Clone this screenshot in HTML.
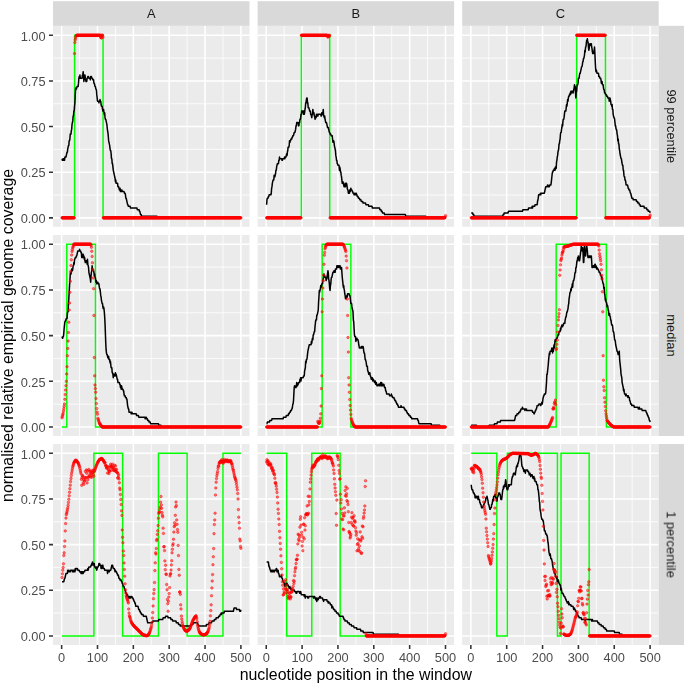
<!DOCTYPE html>
<html lang="en"><head><meta charset="utf-8"><title>Normalised relative empirical genome coverage</title>
<style>html,body{margin:0;padding:0;background:#fff}svg{display:block}text{font-family:"Liberation Sans", Arial, Helvetica, sans-serif}</style></head><body>
<svg width="685" height="685" viewBox="0 0 685 685">
<rect width="685" height="685" fill="#fff"/>
<g>
<rect x="53" y="25.8" width="196.5" height="201" fill="#ebebeb"/>
<path d="M53 195.03h196.5M53 149.39h196.5M53 103.76h196.5M53 58.12h196.5M79.58 25.8v201M115.42 25.8v201M151.28 25.8v201M187.12 25.8v201M222.97 25.8v201" stroke="#fff" stroke-width="0.8" fill="none"/>
<path d="M53 217.85h196.5M53 172.21h196.5M53 126.57h196.5M53 80.94h196.5M53 35.3h196.5M61.65 25.8v201M97.5 25.8v201M133.35 25.8v201M169.2 25.8v201M205.05 25.8v201M240.9 25.8v201" stroke="#fff" stroke-width="1.55" fill="none"/>
<path d="M62.01 217.85 L74.56 217.85 L74.56 35.3 L103.06 35.3 L103.06 217.85 L240.9 217.85" stroke="#00ff00" stroke-width="1.45" fill="none" stroke-linejoin="miter"/>
<path d="M62.01 158.7 62.37 160.35 62.73 160.35 63.08 158.7 63.44 160.35 63.8 158.7 64.16 158.7 64.52 160.35 64.88 157.06 65.23 157.06 65.59 157.06 65.95 157.06 66.31 155.42 66.67 153.77 67.03 152.13 67.39 152.13 67.74 148.85 68.1 147.2 68.46 145.56 68.82 145.56 69.18 140.63 69.54 140.63 69.9 138.99 70.25 134.06 70.61 134.06 70.97 134.06 71.33 130.77 71.69 129.13 72.05 124.2 72.41 122.56 72.76 120.92 73.12 115.99 73.48 115.99 73.84 111.06 74.2 111.06 74.56 106.13 74.91 102.84 75.27 94.63 75.63 88.06 75.99 89.7 76.35 88.06 76.71 88.06 77.07 86.41 77.42 86.41 77.78 86.41 78.14 86.41 78.5 83.13 78.86 78.2 79.22 76.56 79.58 78.2 79.93 74.91 80.29 78.2 80.65 78.2 81.01 78.2 81.37 78.2 81.73 78.2 82.08 78.2 82.44 74.91 82.8 74.91 83.16 71.63 83.52 76.56 83.88 81.49 84.24 78.2 84.59 74.91 84.95 74.91 85.31 78.2 85.67 79.84 86.03 81.49 86.39 81.49 86.75 81.49 87.1 78.2 87.46 78.2 87.82 76.56 88.18 76.56 88.54 76.56 88.9 78.2 89.25 78.2 89.61 78.2 89.97 78.2 90.33 79.84 90.69 76.56 91.05 76.56 91.41 76.56 91.76 78.2 92.12 78.2 92.48 78.2 92.84 79.84 93.2 79.84 93.56 79.84 93.91 83.13 94.27 83.13 94.63 84.77 94.99 86.41 95.35 86.41 95.71 88.06 96.07 89.7 96.42 89.7 96.78 94.63 97.14 97.91 97.5 101.2 97.86 101.2 98.22 101.2 98.58 101.2 98.93 102.84 99.29 101.2 99.65 101.2 100.01 99.56 100.37 101.2 100.73 101.2 101.08 104.49 101.44 106.13 101.8 106.13 102.16 106.13 102.52 109.42 102.88 111.06 103.24 109.42 103.59 109.42 103.95 112.7 104.31 114.34 104.67 112.7 105.03 117.63 105.39 119.27 105.75 119.27 106.1 120.92 106.46 122.56 106.82 124.2 107.18 127.49 107.54 130.77 107.9 132.42 108.25 135.7 108.61 140.63 108.97 142.27 109.33 143.92 109.69 145.56 110.05 148.85 110.41 150.49 110.76 150.49 111.12 153.77 111.48 158.7 111.84 158.7 112.2 163.63 112.56 163.63 112.92 166.92 113.27 170.2 113.63 171.85 113.99 173.49 114.35 175.13 114.71 176.78 115.07 178.42 115.42 181.71 115.78 180.06 116.14 183.35 116.5 183.35 116.86 183.35 117.22 183.35 117.58 183.35 117.93 186.63 118.29 186.63 118.65 186.63 119.01 188.28 119.37 189.92 119.73 189.92 120.09 188.28 120.44 191.56 120.8 189.92 121.16 189.92 121.52 191.56 121.88 189.92 122.24 191.56 122.59 191.56 122.95 191.56 123.31 191.56 123.67 191.56 124.03 191.56 124.39 193.21 124.75 193.21 125.1 193.21 125.46 194.85 125.82 198.13 126.18 198.13 126.54 199.78 126.9 201.42 127.26 203.06 127.61 204.71 127.97 204.71 128.33 206.35 128.69 206.35 129.05 206.35 129.41 206.35 129.76 206.35 130.12 206.35 130.48 207.99 130.84 207.99 131.2 207.99 131.56 207.99 131.92 207.99 132.27 207.99 132.63 207.99 132.99 207.99 133.35 207.99 133.71 207.99 134.07 207.99 134.43 207.99 134.78 207.99 135.14 207.99 135.5 207.99 135.86 207.99 136.22 207.99 136.58 207.99 136.94 207.99 137.29 209.64 137.65 209.64 138.01 209.64 138.37 209.64 138.73 209.64 139.09 209.64 139.44 211.28 139.8 211.28 140.16 212.92 140.52 214.56 140.88 214.56 141.24 214.56 141.6 216.21 141.95 216.21 142.31 216.21 142.67 216.21 143.03 216.21 143.39 216.21 143.75 216.21 144.1 216.21 144.46 216.21 144.82 216.21 145.18 216.21 145.54 216.21 145.9 216.21 146.26 216.21 146.61 216.21 146.97 216.21 147.33 216.21 147.69 216.21 148.05 216.21 148.41 216.21 148.77 216.21 149.12 216.21 149.48 216.21 149.84 216.21 150.2 216.21 150.56 216.21 150.92 216.21 151.28 216.21 151.63 216.21 151.99 216.21 152.35 216.21 152.71 216.21 153.07 216.21 153.43 216.21 153.78 216.21 154.14 216.21 154.5 216.21 154.86 216.21 155.22 216.21 155.58 216.21 155.94 216.21 156.29 216.21 156.65 216.21 157.01 216.21 157.37 217.85 157.73 217.85 158.09 217.85 158.44 217.85 158.8 217.85 159.16 217.85 159.52 217.85 159.88 217.85 160.24 217.85 160.6 217.85 160.95 217.85 161.31 217.85 161.67 217.85 162.03 217.85 162.39 217.85 162.75 217.85 163.11 217.85 163.46 217.85 163.82 217.85 164.18 217.85 164.54 217.85 164.9 217.85 165.26 217.85 165.61 217.85 165.97 217.85 166.33 217.85 166.69 217.85 167.05 217.85 167.41 217.85 167.77 217.85 168.12 217.85 168.48 217.85 168.84 217.85 169.2 217.85 169.56 217.85 169.92 217.85 170.28 217.85 170.63 217.85 170.99 217.85 171.35 217.85 171.71 217.85 172.07 217.85 172.43 217.85 172.78 217.85 173.14 217.85 173.5 217.85 173.86 217.85 174.22 217.85 174.58 217.85 174.94 217.85 175.29 217.85 175.65 217.85 176.01 217.85 176.37 217.85 176.73 217.85 177.09 217.85 177.45 217.85 177.8 217.85 178.16 217.85 178.52 217.85 178.88 217.85 179.24 217.85 179.6 217.85 179.95 217.85 180.31 217.85 180.67 217.85 181.03 217.85 181.39 217.85 181.75 217.85 182.11 217.85 182.46 217.85 182.82 217.85 183.18 217.85 183.54 217.85 183.9 217.85 184.26 217.85 184.62 217.85 184.97 217.85 185.33 217.85 185.69 217.85 186.05 217.85 186.41 217.85 186.77 217.85 187.12 217.85 187.48 217.85 187.84 217.85 188.2 217.85 188.56 217.85 188.92 217.85 189.28 217.85 189.63 217.85 189.99 217.85 190.35 217.85 190.71 217.85 191.07 217.85 191.43 217.85 191.79 217.85 192.14 217.85 192.5 217.85 192.86 217.85 193.22 217.85 193.58 217.85 193.94 217.85 194.29 217.85 194.65 217.85 195.01 217.85 195.37 217.85 195.73 217.85 196.09 217.85 196.45 217.85 196.8 217.85 197.16 217.85 197.52 217.85 197.88 217.85 198.24 217.85 198.6 217.85 198.96 217.85 199.31 217.85 199.67 217.85 200.03 217.85 200.39 217.85 200.75 217.85 201.11 217.85 201.47 217.85 201.82 217.85 202.18 217.85 202.54 217.85 202.9 217.85 203.26 217.85 203.62 217.85 203.97 217.85 204.33 217.85 204.69 217.85 205.05 217.85 205.41 217.85 205.77 217.85 206.13 217.85 206.48 217.85 206.84 217.85 207.2 217.85 207.56 217.85 207.92 217.85 208.28 217.85 208.63 217.85 208.99 217.85 209.35 217.85 209.71 217.85 210.07 217.85 210.43 217.85 210.79 217.85 211.14 217.85 211.5 217.85 211.86 217.85 212.22 217.85 212.58 217.85 212.94 217.85 213.3 217.85 213.65 217.85 214.01 217.85 214.37 217.85 214.73 217.85 215.09 217.85 215.45 217.85 215.81 217.85 216.16 217.85 216.52 217.85 216.88 217.85 217.24 217.85 217.6 217.85 217.96 217.85 218.31 217.85 218.67 217.85 219.03 217.85 219.39 217.85 219.75 217.85 220.11 217.85 220.47 217.85 220.82 217.85 221.18 217.85 221.54 217.85 221.9 217.85 222.26 217.85 222.62 217.85 222.97 217.85 223.33 217.85 223.69 217.85 224.05 217.85 224.41 217.85 224.77 217.85 225.13 217.85 225.48 217.85 225.84 217.85 226.2 217.85 226.56 217.85 226.92 217.85 227.28 217.85 227.64 217.85 227.99 217.85 228.35 217.85 228.71 217.85 229.07 217.85 229.43 217.85 229.79 217.85 230.15 217.85 230.5 217.85 230.86 217.85 231.22 217.85 231.58 217.85 231.94 217.85 232.3 217.85 232.65 217.85 233.01 217.85 233.37 217.85 233.73 217.85 234.09 217.85 234.45 217.85 234.81 217.85 235.16 217.85 235.52 217.85 235.88 217.85 236.24 217.85 236.6 217.85 236.96 217.85 237.31 217.85 237.67 217.85 238.03 217.85 238.39 217.85 238.75 217.85 239.11 217.85 239.47 217.85 239.82 217.85 240.18 217.85 240.54 217.85 240.9 217.85" stroke="#000" stroke-width="1.5" fill="none" stroke-linejoin="round" stroke-linecap="butt"/>
<g fill="#ff0000" fill-opacity="0.5" stroke="#ff0000" stroke-opacity="0.5" stroke-width="0.9">
<circle cx="62.01" cy="217.85" r="1.25"/><circle cx="62.37" cy="217.85" r="1.25"/><circle cx="62.73" cy="217.85" r="1.25"/><circle cx="63.08" cy="217.85" r="1.25"/><circle cx="63.44" cy="217.85" r="1.25"/><circle cx="63.8" cy="217.85" r="1.25"/><circle cx="64.16" cy="217.85" r="1.25"/><circle cx="64.52" cy="217.85" r="1.25"/><circle cx="64.88" cy="217.85" r="1.25"/><circle cx="65.23" cy="217.85" r="1.25"/><circle cx="65.59" cy="217.85" r="1.25"/><circle cx="65.95" cy="217.85" r="1.25"/><circle cx="66.31" cy="217.85" r="1.25"/><circle cx="66.67" cy="217.85" r="1.25"/><circle cx="67.03" cy="217.85" r="1.25"/><circle cx="67.39" cy="217.85" r="1.25"/><circle cx="67.74" cy="217.85" r="1.25"/><circle cx="68.1" cy="217.85" r="1.25"/><circle cx="68.46" cy="217.85" r="1.25"/><circle cx="68.82" cy="217.85" r="1.25"/><circle cx="69.18" cy="217.85" r="1.25"/><circle cx="69.54" cy="217.85" r="1.25"/><circle cx="69.9" cy="217.85" r="1.25"/><circle cx="70.25" cy="217.85" r="1.25"/><circle cx="70.61" cy="217.85" r="1.25"/><circle cx="70.97" cy="217.85" r="1.25"/><circle cx="71.33" cy="217.85" r="1.25"/><circle cx="71.69" cy="217.85" r="1.25"/><circle cx="72.05" cy="217.85" r="1.25"/><circle cx="72.41" cy="217.85" r="1.25"/><circle cx="72.76" cy="217.85" r="1.25"/><circle cx="73.12" cy="217.85" r="1.25"/><circle cx="73.48" cy="217.85" r="1.25"/><circle cx="73.84" cy="217.85" r="1.25"/><circle cx="74.2" cy="217.85" r="1.25"/><circle cx="74.56" cy="53.55" r="1.25"/><circle cx="74.91" cy="42.6" r="1.25"/><circle cx="75.27" cy="39.86" r="1.25"/><circle cx="75.63" cy="38.04" r="1.25"/><circle cx="75.99" cy="36.21" r="1.25"/><circle cx="76.35" cy="35.76" r="1.25"/><circle cx="76.71" cy="35.3" r="1.25"/><circle cx="77.07" cy="35.3" r="1.25"/><circle cx="77.42" cy="35.3" r="1.25"/><circle cx="77.78" cy="35.3" r="1.25"/><circle cx="78.14" cy="35.3" r="1.25"/><circle cx="78.5" cy="35.3" r="1.25"/><circle cx="78.86" cy="35.3" r="1.25"/><circle cx="79.22" cy="35.3" r="1.25"/><circle cx="79.58" cy="35.3" r="1.25"/><circle cx="79.93" cy="35.3" r="1.25"/><circle cx="80.29" cy="35.3" r="1.25"/><circle cx="80.65" cy="35.3" r="1.25"/><circle cx="81.01" cy="35.3" r="1.25"/><circle cx="81.37" cy="35.3" r="1.25"/><circle cx="81.73" cy="35.3" r="1.25"/><circle cx="82.08" cy="35.3" r="1.25"/><circle cx="82.44" cy="35.3" r="1.25"/><circle cx="82.8" cy="35.3" r="1.25"/><circle cx="83.16" cy="35.3" r="1.25"/><circle cx="83.52" cy="35.3" r="1.25"/><circle cx="83.88" cy="35.3" r="1.25"/><circle cx="84.24" cy="35.3" r="1.25"/><circle cx="84.59" cy="35.3" r="1.25"/><circle cx="84.95" cy="35.3" r="1.25"/><circle cx="85.31" cy="35.3" r="1.25"/><circle cx="85.67" cy="35.3" r="1.25"/><circle cx="86.03" cy="35.3" r="1.25"/><circle cx="86.39" cy="35.3" r="1.25"/><circle cx="86.75" cy="35.3" r="1.25"/><circle cx="87.1" cy="35.3" r="1.25"/><circle cx="87.46" cy="35.3" r="1.25"/><circle cx="87.82" cy="35.3" r="1.25"/><circle cx="88.18" cy="35.3" r="1.25"/><circle cx="88.54" cy="35.3" r="1.25"/><circle cx="88.9" cy="35.3" r="1.25"/><circle cx="89.25" cy="35.3" r="1.25"/><circle cx="89.61" cy="35.3" r="1.25"/><circle cx="89.97" cy="35.3" r="1.25"/><circle cx="90.33" cy="35.3" r="1.25"/><circle cx="90.69" cy="35.3" r="1.25"/><circle cx="91.05" cy="35.3" r="1.25"/><circle cx="91.41" cy="35.3" r="1.25"/><circle cx="91.76" cy="35.3" r="1.25"/><circle cx="92.12" cy="35.3" r="1.25"/><circle cx="92.48" cy="35.3" r="1.25"/><circle cx="92.84" cy="35.3" r="1.25"/><circle cx="93.2" cy="35.3" r="1.25"/><circle cx="93.56" cy="35.3" r="1.25"/><circle cx="93.91" cy="35.3" r="1.25"/><circle cx="94.27" cy="35.3" r="1.25"/><circle cx="94.63" cy="35.3" r="1.25"/><circle cx="94.99" cy="35.3" r="1.25"/><circle cx="95.35" cy="35.3" r="1.25"/><circle cx="95.71" cy="35.3" r="1.25"/><circle cx="96.07" cy="35.3" r="1.25"/><circle cx="96.42" cy="35.3" r="1.25"/><circle cx="96.78" cy="35.3" r="1.25"/><circle cx="97.14" cy="35.3" r="1.25"/><circle cx="97.5" cy="35.3" r="1.25"/><circle cx="97.86" cy="35.3" r="1.25"/><circle cx="98.22" cy="35.3" r="1.25"/><circle cx="98.58" cy="35.3" r="1.25"/><circle cx="98.93" cy="35.3" r="1.25"/><circle cx="99.29" cy="35.3" r="1.25"/><circle cx="99.65" cy="35.3" r="1.25"/><circle cx="100.01" cy="35.3" r="1.25"/><circle cx="100.37" cy="35.3" r="1.25"/><circle cx="100.73" cy="37.13" r="1.25"/><circle cx="101.08" cy="37.58" r="1.25"/><circle cx="101.44" cy="38.04" r="1.25"/><circle cx="101.8" cy="35.3" r="1.25"/><circle cx="102.16" cy="35.3" r="1.25"/><circle cx="102.52" cy="35.3" r="1.25"/><circle cx="102.88" cy="37.13" r="1.25"/><circle cx="103.24" cy="217.85" r="1.25"/><circle cx="103.59" cy="217.85" r="1.25"/><circle cx="103.95" cy="217.85" r="1.25"/><circle cx="104.31" cy="217.85" r="1.25"/><circle cx="104.67" cy="217.85" r="1.25"/><circle cx="105.03" cy="217.85" r="1.25"/><circle cx="105.39" cy="217.85" r="1.25"/><circle cx="105.75" cy="217.85" r="1.25"/><circle cx="106.1" cy="217.85" r="1.25"/><circle cx="106.46" cy="217.85" r="1.25"/><circle cx="106.82" cy="217.85" r="1.25"/><circle cx="107.18" cy="217.85" r="1.25"/><circle cx="107.54" cy="217.85" r="1.25"/><circle cx="107.9" cy="217.85" r="1.25"/><circle cx="108.25" cy="217.85" r="1.25"/><circle cx="108.61" cy="217.85" r="1.25"/><circle cx="108.97" cy="217.85" r="1.25"/><circle cx="109.33" cy="217.85" r="1.25"/><circle cx="109.69" cy="217.85" r="1.25"/><circle cx="110.05" cy="217.85" r="1.25"/><circle cx="110.41" cy="217.85" r="1.25"/><circle cx="110.76" cy="217.85" r="1.25"/><circle cx="111.12" cy="217.85" r="1.25"/><circle cx="111.48" cy="217.85" r="1.25"/><circle cx="111.84" cy="217.85" r="1.25"/><circle cx="112.2" cy="217.85" r="1.25"/><circle cx="112.56" cy="217.85" r="1.25"/><circle cx="112.92" cy="217.85" r="1.25"/><circle cx="113.27" cy="217.85" r="1.25"/><circle cx="113.63" cy="217.85" r="1.25"/><circle cx="113.99" cy="217.85" r="1.25"/><circle cx="114.35" cy="217.85" r="1.25"/><circle cx="114.71" cy="217.85" r="1.25"/><circle cx="115.07" cy="217.85" r="1.25"/><circle cx="115.42" cy="217.85" r="1.25"/><circle cx="115.78" cy="217.85" r="1.25"/><circle cx="116.14" cy="217.85" r="1.25"/><circle cx="116.5" cy="217.85" r="1.25"/><circle cx="116.86" cy="217.85" r="1.25"/><circle cx="117.22" cy="217.85" r="1.25"/><circle cx="117.58" cy="217.85" r="1.25"/><circle cx="117.93" cy="217.85" r="1.25"/><circle cx="118.29" cy="217.85" r="1.25"/><circle cx="118.65" cy="217.85" r="1.25"/><circle cx="119.01" cy="217.85" r="1.25"/><circle cx="119.37" cy="217.85" r="1.25"/><circle cx="119.73" cy="217.85" r="1.25"/><circle cx="120.09" cy="217.85" r="1.25"/><circle cx="120.44" cy="217.85" r="1.25"/><circle cx="120.8" cy="217.85" r="1.25"/><circle cx="121.16" cy="217.85" r="1.25"/><circle cx="121.52" cy="217.85" r="1.25"/><circle cx="121.88" cy="217.85" r="1.25"/><circle cx="122.24" cy="217.85" r="1.25"/><circle cx="122.59" cy="217.85" r="1.25"/><circle cx="122.95" cy="217.85" r="1.25"/><circle cx="123.31" cy="217.85" r="1.25"/><circle cx="123.67" cy="217.85" r="1.25"/><circle cx="124.03" cy="217.85" r="1.25"/><circle cx="124.39" cy="217.85" r="1.25"/><circle cx="124.75" cy="217.85" r="1.25"/><circle cx="125.1" cy="217.85" r="1.25"/><circle cx="125.46" cy="217.85" r="1.25"/><circle cx="125.82" cy="217.85" r="1.25"/><circle cx="126.18" cy="217.85" r="1.25"/><circle cx="126.54" cy="217.85" r="1.25"/><circle cx="126.9" cy="217.85" r="1.25"/><circle cx="127.26" cy="217.85" r="1.25"/><circle cx="127.61" cy="217.85" r="1.25"/><circle cx="127.97" cy="217.85" r="1.25"/><circle cx="128.33" cy="217.85" r="1.25"/><circle cx="128.69" cy="217.85" r="1.25"/><circle cx="129.05" cy="217.85" r="1.25"/><circle cx="129.41" cy="217.85" r="1.25"/><circle cx="129.76" cy="217.85" r="1.25"/><circle cx="130.12" cy="217.85" r="1.25"/><circle cx="130.48" cy="217.85" r="1.25"/><circle cx="130.84" cy="217.85" r="1.25"/><circle cx="131.2" cy="217.85" r="1.25"/><circle cx="131.56" cy="217.85" r="1.25"/><circle cx="131.92" cy="217.85" r="1.25"/><circle cx="132.27" cy="217.85" r="1.25"/><circle cx="132.63" cy="217.85" r="1.25"/><circle cx="132.99" cy="217.85" r="1.25"/><circle cx="133.35" cy="217.85" r="1.25"/><circle cx="133.71" cy="217.85" r="1.25"/><circle cx="134.07" cy="217.85" r="1.25"/><circle cx="134.43" cy="217.85" r="1.25"/><circle cx="134.78" cy="217.85" r="1.25"/><circle cx="135.14" cy="217.85" r="1.25"/><circle cx="135.5" cy="217.85" r="1.25"/><circle cx="135.86" cy="217.85" r="1.25"/><circle cx="136.22" cy="217.85" r="1.25"/><circle cx="136.58" cy="217.85" r="1.25"/><circle cx="136.94" cy="217.85" r="1.25"/><circle cx="137.29" cy="217.85" r="1.25"/><circle cx="137.65" cy="217.85" r="1.25"/><circle cx="138.01" cy="217.85" r="1.25"/><circle cx="138.37" cy="217.85" r="1.25"/><circle cx="138.73" cy="217.85" r="1.25"/><circle cx="139.09" cy="217.85" r="1.25"/><circle cx="139.44" cy="217.85" r="1.25"/><circle cx="139.8" cy="217.85" r="1.25"/><circle cx="140.16" cy="217.85" r="1.25"/><circle cx="140.52" cy="217.85" r="1.25"/><circle cx="140.88" cy="217.85" r="1.25"/><circle cx="141.24" cy="217.85" r="1.25"/><circle cx="141.6" cy="217.85" r="1.25"/><circle cx="141.95" cy="217.85" r="1.25"/><circle cx="142.31" cy="217.85" r="1.25"/><circle cx="142.67" cy="217.85" r="1.25"/><circle cx="143.03" cy="217.85" r="1.25"/><circle cx="143.39" cy="217.85" r="1.25"/><circle cx="143.75" cy="217.85" r="1.25"/><circle cx="144.1" cy="217.85" r="1.25"/><circle cx="144.46" cy="217.85" r="1.25"/><circle cx="144.82" cy="217.85" r="1.25"/><circle cx="145.18" cy="217.85" r="1.25"/><circle cx="145.54" cy="217.85" r="1.25"/><circle cx="145.9" cy="217.85" r="1.25"/><circle cx="146.26" cy="217.85" r="1.25"/><circle cx="146.61" cy="217.85" r="1.25"/><circle cx="146.97" cy="217.85" r="1.25"/><circle cx="147.33" cy="217.85" r="1.25"/><circle cx="147.69" cy="217.85" r="1.25"/><circle cx="148.05" cy="217.85" r="1.25"/><circle cx="148.41" cy="217.85" r="1.25"/><circle cx="148.77" cy="217.85" r="1.25"/><circle cx="149.12" cy="217.85" r="1.25"/><circle cx="149.48" cy="217.85" r="1.25"/><circle cx="149.84" cy="217.85" r="1.25"/><circle cx="150.2" cy="217.85" r="1.25"/><circle cx="150.56" cy="217.85" r="1.25"/><circle cx="150.92" cy="217.85" r="1.25"/><circle cx="151.28" cy="217.85" r="1.25"/><circle cx="151.63" cy="217.85" r="1.25"/><circle cx="151.99" cy="217.85" r="1.25"/><circle cx="152.35" cy="217.85" r="1.25"/><circle cx="152.71" cy="217.85" r="1.25"/><circle cx="153.07" cy="217.85" r="1.25"/><circle cx="153.43" cy="217.85" r="1.25"/><circle cx="153.78" cy="217.85" r="1.25"/><circle cx="154.14" cy="217.85" r="1.25"/><circle cx="154.5" cy="217.85" r="1.25"/><circle cx="154.86" cy="217.85" r="1.25"/><circle cx="155.22" cy="217.85" r="1.25"/><circle cx="155.58" cy="217.85" r="1.25"/><circle cx="155.94" cy="217.85" r="1.25"/><circle cx="156.29" cy="217.85" r="1.25"/><circle cx="156.65" cy="217.85" r="1.25"/><circle cx="157.01" cy="217.85" r="1.25"/><circle cx="157.37" cy="217.85" r="1.25"/><circle cx="157.73" cy="217.85" r="1.25"/><circle cx="158.09" cy="217.85" r="1.25"/><circle cx="158.44" cy="217.85" r="1.25"/><circle cx="158.8" cy="217.85" r="1.25"/><circle cx="159.16" cy="217.85" r="1.25"/><circle cx="159.52" cy="217.85" r="1.25"/><circle cx="159.88" cy="217.85" r="1.25"/><circle cx="160.24" cy="217.85" r="1.25"/><circle cx="160.6" cy="217.85" r="1.25"/><circle cx="160.95" cy="217.85" r="1.25"/><circle cx="161.31" cy="217.85" r="1.25"/><circle cx="161.67" cy="217.85" r="1.25"/><circle cx="162.03" cy="217.85" r="1.25"/><circle cx="162.39" cy="217.85" r="1.25"/><circle cx="162.75" cy="217.85" r="1.25"/><circle cx="163.11" cy="217.85" r="1.25"/><circle cx="163.46" cy="217.85" r="1.25"/><circle cx="163.82" cy="217.85" r="1.25"/><circle cx="164.18" cy="217.85" r="1.25"/><circle cx="164.54" cy="217.85" r="1.25"/><circle cx="164.9" cy="217.85" r="1.25"/><circle cx="165.26" cy="217.85" r="1.25"/><circle cx="165.61" cy="217.85" r="1.25"/><circle cx="165.97" cy="217.85" r="1.25"/><circle cx="166.33" cy="217.85" r="1.25"/><circle cx="166.69" cy="217.85" r="1.25"/><circle cx="167.05" cy="217.85" r="1.25"/><circle cx="167.41" cy="217.85" r="1.25"/><circle cx="167.77" cy="217.85" r="1.25"/><circle cx="168.12" cy="217.85" r="1.25"/><circle cx="168.48" cy="217.85" r="1.25"/><circle cx="168.84" cy="217.85" r="1.25"/><circle cx="169.2" cy="217.85" r="1.25"/><circle cx="169.56" cy="217.85" r="1.25"/><circle cx="169.92" cy="217.85" r="1.25"/><circle cx="170.28" cy="217.85" r="1.25"/><circle cx="170.63" cy="217.85" r="1.25"/><circle cx="170.99" cy="217.85" r="1.25"/><circle cx="171.35" cy="217.85" r="1.25"/><circle cx="171.71" cy="217.85" r="1.25"/><circle cx="172.07" cy="217.85" r="1.25"/><circle cx="172.43" cy="217.85" r="1.25"/><circle cx="172.78" cy="217.85" r="1.25"/><circle cx="173.14" cy="217.85" r="1.25"/><circle cx="173.5" cy="217.85" r="1.25"/><circle cx="173.86" cy="217.85" r="1.25"/><circle cx="174.22" cy="217.85" r="1.25"/><circle cx="174.58" cy="217.85" r="1.25"/><circle cx="174.94" cy="217.85" r="1.25"/><circle cx="175.29" cy="217.85" r="1.25"/><circle cx="175.65" cy="217.85" r="1.25"/><circle cx="176.01" cy="217.85" r="1.25"/><circle cx="176.37" cy="217.85" r="1.25"/><circle cx="176.73" cy="217.85" r="1.25"/><circle cx="177.09" cy="217.85" r="1.25"/><circle cx="177.45" cy="217.85" r="1.25"/><circle cx="177.8" cy="217.85" r="1.25"/><circle cx="178.16" cy="217.85" r="1.25"/><circle cx="178.52" cy="217.85" r="1.25"/><circle cx="178.88" cy="217.85" r="1.25"/><circle cx="179.24" cy="217.85" r="1.25"/><circle cx="179.6" cy="217.85" r="1.25"/><circle cx="179.95" cy="217.85" r="1.25"/><circle cx="180.31" cy="217.85" r="1.25"/><circle cx="180.67" cy="217.85" r="1.25"/><circle cx="181.03" cy="217.85" r="1.25"/><circle cx="181.39" cy="217.85" r="1.25"/><circle cx="181.75" cy="217.85" r="1.25"/><circle cx="182.11" cy="217.85" r="1.25"/><circle cx="182.46" cy="217.85" r="1.25"/><circle cx="182.82" cy="217.85" r="1.25"/><circle cx="183.18" cy="217.85" r="1.25"/><circle cx="183.54" cy="217.85" r="1.25"/><circle cx="183.9" cy="217.85" r="1.25"/><circle cx="184.26" cy="217.85" r="1.25"/><circle cx="184.62" cy="217.85" r="1.25"/><circle cx="184.97" cy="217.85" r="1.25"/><circle cx="185.33" cy="217.85" r="1.25"/><circle cx="185.69" cy="217.85" r="1.25"/><circle cx="186.05" cy="217.85" r="1.25"/><circle cx="186.41" cy="217.85" r="1.25"/><circle cx="186.77" cy="217.85" r="1.25"/><circle cx="187.12" cy="217.85" r="1.25"/><circle cx="187.48" cy="217.85" r="1.25"/><circle cx="187.84" cy="217.85" r="1.25"/><circle cx="188.2" cy="217.85" r="1.25"/><circle cx="188.56" cy="217.85" r="1.25"/><circle cx="188.92" cy="217.85" r="1.25"/><circle cx="189.28" cy="217.85" r="1.25"/><circle cx="189.63" cy="217.85" r="1.25"/><circle cx="189.99" cy="217.85" r="1.25"/><circle cx="190.35" cy="217.85" r="1.25"/><circle cx="190.71" cy="217.85" r="1.25"/><circle cx="191.07" cy="217.85" r="1.25"/><circle cx="191.43" cy="217.85" r="1.25"/><circle cx="191.79" cy="217.85" r="1.25"/><circle cx="192.14" cy="217.85" r="1.25"/><circle cx="192.5" cy="217.85" r="1.25"/><circle cx="192.86" cy="217.85" r="1.25"/><circle cx="193.22" cy="217.85" r="1.25"/><circle cx="193.58" cy="217.85" r="1.25"/><circle cx="193.94" cy="217.85" r="1.25"/><circle cx="194.29" cy="217.85" r="1.25"/><circle cx="194.65" cy="217.85" r="1.25"/><circle cx="195.01" cy="217.85" r="1.25"/><circle cx="195.37" cy="217.85" r="1.25"/><circle cx="195.73" cy="217.85" r="1.25"/><circle cx="196.09" cy="217.85" r="1.25"/><circle cx="196.45" cy="217.85" r="1.25"/><circle cx="196.8" cy="217.85" r="1.25"/><circle cx="197.16" cy="217.85" r="1.25"/><circle cx="197.52" cy="217.85" r="1.25"/><circle cx="197.88" cy="217.85" r="1.25"/><circle cx="198.24" cy="217.85" r="1.25"/><circle cx="198.6" cy="217.85" r="1.25"/><circle cx="198.96" cy="217.85" r="1.25"/><circle cx="199.31" cy="217.85" r="1.25"/><circle cx="199.67" cy="217.85" r="1.25"/><circle cx="200.03" cy="217.85" r="1.25"/><circle cx="200.39" cy="217.85" r="1.25"/><circle cx="200.75" cy="217.85" r="1.25"/><circle cx="201.11" cy="217.85" r="1.25"/><circle cx="201.47" cy="217.85" r="1.25"/><circle cx="201.82" cy="217.85" r="1.25"/><circle cx="202.18" cy="217.85" r="1.25"/><circle cx="202.54" cy="217.85" r="1.25"/><circle cx="202.9" cy="217.85" r="1.25"/><circle cx="203.26" cy="217.85" r="1.25"/><circle cx="203.62" cy="217.85" r="1.25"/><circle cx="203.97" cy="217.85" r="1.25"/><circle cx="204.33" cy="217.85" r="1.25"/><circle cx="204.69" cy="217.85" r="1.25"/><circle cx="205.05" cy="217.85" r="1.25"/><circle cx="205.41" cy="217.85" r="1.25"/><circle cx="205.77" cy="217.85" r="1.25"/><circle cx="206.13" cy="217.85" r="1.25"/><circle cx="206.48" cy="217.85" r="1.25"/><circle cx="206.84" cy="217.85" r="1.25"/><circle cx="207.2" cy="217.85" r="1.25"/><circle cx="207.56" cy="217.85" r="1.25"/><circle cx="207.92" cy="217.85" r="1.25"/><circle cx="208.28" cy="217.85" r="1.25"/><circle cx="208.63" cy="217.85" r="1.25"/><circle cx="208.99" cy="217.85" r="1.25"/><circle cx="209.35" cy="217.85" r="1.25"/><circle cx="209.71" cy="217.85" r="1.25"/><circle cx="210.07" cy="217.85" r="1.25"/><circle cx="210.43" cy="217.85" r="1.25"/><circle cx="210.79" cy="217.85" r="1.25"/><circle cx="211.14" cy="217.85" r="1.25"/><circle cx="211.5" cy="217.85" r="1.25"/><circle cx="211.86" cy="217.85" r="1.25"/><circle cx="212.22" cy="217.85" r="1.25"/><circle cx="212.58" cy="217.85" r="1.25"/><circle cx="212.94" cy="217.85" r="1.25"/><circle cx="213.3" cy="217.85" r="1.25"/><circle cx="213.65" cy="217.85" r="1.25"/><circle cx="214.01" cy="217.85" r="1.25"/><circle cx="214.37" cy="217.85" r="1.25"/><circle cx="214.73" cy="217.85" r="1.25"/><circle cx="215.09" cy="217.85" r="1.25"/><circle cx="215.45" cy="217.85" r="1.25"/><circle cx="215.81" cy="217.85" r="1.25"/><circle cx="216.16" cy="217.85" r="1.25"/><circle cx="216.52" cy="217.85" r="1.25"/><circle cx="216.88" cy="217.85" r="1.25"/><circle cx="217.24" cy="217.85" r="1.25"/><circle cx="217.6" cy="217.85" r="1.25"/><circle cx="217.96" cy="217.85" r="1.25"/><circle cx="218.31" cy="217.85" r="1.25"/><circle cx="218.67" cy="217.85" r="1.25"/><circle cx="219.03" cy="217.85" r="1.25"/><circle cx="219.39" cy="217.85" r="1.25"/><circle cx="219.75" cy="217.85" r="1.25"/><circle cx="220.11" cy="217.85" r="1.25"/><circle cx="220.47" cy="217.85" r="1.25"/><circle cx="220.82" cy="217.85" r="1.25"/><circle cx="221.18" cy="217.85" r="1.25"/><circle cx="221.54" cy="217.85" r="1.25"/><circle cx="221.9" cy="217.85" r="1.25"/><circle cx="222.26" cy="217.85" r="1.25"/><circle cx="222.62" cy="217.85" r="1.25"/><circle cx="222.97" cy="217.85" r="1.25"/><circle cx="223.33" cy="217.85" r="1.25"/><circle cx="223.69" cy="217.85" r="1.25"/><circle cx="224.05" cy="217.85" r="1.25"/><circle cx="224.41" cy="217.85" r="1.25"/><circle cx="224.77" cy="217.85" r="1.25"/><circle cx="225.13" cy="217.85" r="1.25"/><circle cx="225.48" cy="217.85" r="1.25"/><circle cx="225.84" cy="217.85" r="1.25"/><circle cx="226.2" cy="217.85" r="1.25"/><circle cx="226.56" cy="217.85" r="1.25"/><circle cx="226.92" cy="217.85" r="1.25"/><circle cx="227.28" cy="217.85" r="1.25"/><circle cx="227.64" cy="217.85" r="1.25"/><circle cx="227.99" cy="217.85" r="1.25"/><circle cx="228.35" cy="217.85" r="1.25"/><circle cx="228.71" cy="217.85" r="1.25"/><circle cx="229.07" cy="217.85" r="1.25"/><circle cx="229.43" cy="217.85" r="1.25"/><circle cx="229.79" cy="217.85" r="1.25"/><circle cx="230.15" cy="217.85" r="1.25"/><circle cx="230.5" cy="217.85" r="1.25"/><circle cx="230.86" cy="217.85" r="1.25"/><circle cx="231.22" cy="217.85" r="1.25"/><circle cx="231.58" cy="217.85" r="1.25"/><circle cx="231.94" cy="217.85" r="1.25"/><circle cx="232.3" cy="217.85" r="1.25"/><circle cx="232.65" cy="217.85" r="1.25"/><circle cx="233.01" cy="217.85" r="1.25"/><circle cx="233.37" cy="217.85" r="1.25"/><circle cx="233.73" cy="217.85" r="1.25"/><circle cx="234.09" cy="217.85" r="1.25"/><circle cx="234.45" cy="217.85" r="1.25"/><circle cx="234.81" cy="217.85" r="1.25"/><circle cx="235.16" cy="217.85" r="1.25"/><circle cx="235.52" cy="217.85" r="1.25"/><circle cx="235.88" cy="217.85" r="1.25"/><circle cx="236.24" cy="217.85" r="1.25"/><circle cx="236.6" cy="217.85" r="1.25"/><circle cx="236.96" cy="217.85" r="1.25"/><circle cx="237.31" cy="217.85" r="1.25"/><circle cx="237.67" cy="217.85" r="1.25"/><circle cx="238.03" cy="217.85" r="1.25"/><circle cx="238.39" cy="217.85" r="1.25"/><circle cx="238.75" cy="217.85" r="1.25"/><circle cx="239.11" cy="217.85" r="1.25"/><circle cx="239.47" cy="217.85" r="1.25"/><circle cx="239.82" cy="217.85" r="1.25"/><circle cx="240.18" cy="217.85" r="1.25"/><circle cx="240.54" cy="217.85" r="1.25"/><circle cx="240.9" cy="217.85" r="1.25"/>
</g>
</g>
<g>
<rect x="257.6" y="25.8" width="196.5" height="201" fill="#ebebeb"/>
<path d="M257.6 195.03h196.5M257.6 149.39h196.5M257.6 103.76h196.5M257.6 58.12h196.5M284.18 25.8v201M320.02 25.8v201M355.88 25.8v201M391.73 25.8v201M427.57 25.8v201" stroke="#fff" stroke-width="0.8" fill="none"/>
<path d="M257.6 217.85h196.5M257.6 172.21h196.5M257.6 126.57h196.5M257.6 80.94h196.5M257.6 35.3h196.5M266.25 25.8v201M302.1 25.8v201M337.95 25.8v201M373.8 25.8v201M409.65 25.8v201M445.5 25.8v201" stroke="#fff" stroke-width="1.55" fill="none"/>
<path d="M266.61 217.85 L301.38 217.85 L301.38 35.3 L329.7 35.3 L329.7 217.85 L445.5 217.85" stroke="#00ff00" stroke-width="1.45" fill="none" stroke-linejoin="miter"/>
<path d="M266.61 204.71 266.97 199.78 267.33 198.13 267.68 198.13 268.04 198.13 268.4 196.49 268.76 196.49 269.12 194.85 269.48 194.85 269.83 194.85 270.19 194.85 270.55 194.85 270.91 194.85 271.27 193.21 271.63 188.28 271.99 186.63 272.34 183.35 272.7 181.71 273.06 180.06 273.42 180.06 273.78 180.06 274.14 175.13 274.5 176.78 274.85 176.78 275.21 175.13 275.57 173.49 275.93 170.2 276.29 170.2 276.65 166.92 277 165.28 277.36 163.63 277.72 163.63 278.08 163.63 278.44 163.63 278.8 160.35 279.16 160.35 279.51 157.06 279.87 158.7 280.23 158.7 280.59 158.7 280.95 158.7 281.31 158.7 281.67 158.7 282.02 160.35 282.38 160.35 282.74 158.7 283.1 158.7 283.46 158.7 283.82 158.7 284.18 158.7 284.53 157.06 284.89 158.7 285.25 157.06 285.61 157.06 285.97 157.06 286.33 155.42 286.68 153.77 287.04 155.42 287.4 152.13 287.76 150.49 288.12 147.2 288.48 147.2 288.84 147.2 289.19 145.56 289.55 140.63 289.91 142.27 290.27 140.63 290.63 140.63 290.99 138.99 291.35 138.99 291.7 138.99 292.06 137.35 292.42 137.35 292.78 135.7 293.14 135.7 293.5 135.7 293.85 134.06 294.21 132.42 294.57 132.42 294.93 132.42 295.29 130.77 295.65 129.13 296.01 125.84 296.36 125.84 296.72 122.56 297.08 122.56 297.44 122.56 297.8 122.56 298.16 122.56 298.51 125.84 298.87 125.84 299.23 122.56 299.59 122.56 299.95 119.27 300.31 119.27 300.67 117.63 301.02 114.34 301.38 114.34 301.74 111.06 302.1 111.06 302.46 111.06 302.82 111.06 303.18 112.7 303.53 114.34 303.89 111.06 304.25 114.34 304.61 112.7 304.97 109.42 305.33 107.77 305.69 102.84 306.04 102.84 306.4 99.56 306.76 97.91 307.12 97.91 307.48 102.84 307.84 102.84 308.19 107.77 308.55 107.77 308.91 107.77 309.27 109.42 309.63 111.06 309.99 111.06 310.35 111.06 310.7 114.34 311.06 114.34 311.42 115.99 311.78 117.63 312.14 114.34 312.5 114.34 312.86 109.42 313.21 112.7 313.57 112.7 313.93 112.7 314.29 115.99 314.65 115.99 315.01 119.27 315.36 117.63 315.72 117.63 316.08 117.63 316.44 114.34 316.8 115.99 317.16 114.34 317.52 115.99 317.87 115.99 318.23 114.34 318.59 114.34 318.95 114.34 319.31 114.34 319.67 114.34 320.02 114.34 320.38 114.34 320.74 114.34 321.1 115.99 321.46 115.99 321.82 112.7 322.18 114.34 322.53 112.7 322.89 112.7 323.25 109.42 323.61 115.99 323.97 115.99 324.33 117.63 324.69 115.99 325.04 119.27 325.4 120.92 325.76 122.56 326.12 122.56 326.48 122.56 326.84 124.2 327.19 125.84 327.55 127.49 327.91 127.49 328.27 127.49 328.63 129.13 328.99 130.77 329.35 132.42 329.7 132.42 330.06 134.06 330.42 134.06 330.78 134.06 331.14 135.7 331.5 135.7 331.86 135.7 332.21 135.7 332.57 138.99 332.93 142.27 333.29 140.63 333.65 140.63 334.01 142.27 334.37 145.56 334.72 147.2 335.08 148.85 335.44 150.49 335.8 155.42 336.16 157.06 336.52 160.35 336.87 160.35 337.23 163.63 337.59 163.63 337.95 165.28 338.31 165.28 338.67 165.28 339.03 165.28 339.38 170.2 339.74 166.92 340.1 168.56 340.46 171.85 340.82 171.85 341.18 175.13 341.53 176.78 341.89 180.06 342.25 183.35 342.61 181.71 342.97 181.71 343.33 183.35 343.69 184.99 344.04 186.63 344.4 186.63 344.76 186.63 345.12 183.35 345.48 186.63 345.84 183.35 346.2 183.35 346.55 183.35 346.91 184.99 347.27 188.28 347.63 189.92 347.99 189.92 348.35 193.21 348.7 193.21 349.06 193.21 349.42 193.21 349.78 189.92 350.14 191.56 350.5 189.92 350.86 188.28 351.21 189.92 351.57 189.92 351.93 189.92 352.29 191.56 352.65 191.56 353.01 193.21 353.37 193.21 353.72 193.21 354.08 194.85 354.44 194.85 354.8 193.21 355.16 193.21 355.52 194.85 355.88 194.85 356.23 193.21 356.59 194.85 356.95 194.85 357.31 196.49 357.67 196.49 358.03 196.49 358.38 198.13 358.74 198.13 359.1 198.13 359.46 198.13 359.82 199.78 360.18 199.78 360.54 199.78 360.89 199.78 361.25 201.42 361.61 201.42 361.97 201.42 362.33 201.42 362.69 201.42 363.05 203.06 363.4 203.06 363.76 203.06 364.12 203.06 364.48 203.06 364.84 203.06 365.2 203.06 365.55 203.06 365.91 204.71 366.27 204.71 366.63 204.71 366.99 204.71 367.35 204.71 367.71 204.71 368.06 204.71 368.42 204.71 368.78 206.35 369.14 206.35 369.5 206.35 369.86 206.35 370.21 206.35 370.57 206.35 370.93 206.35 371.29 206.35 371.65 206.35 372.01 206.35 372.37 207.99 372.72 207.99 373.08 207.99 373.44 207.99 373.8 207.99 374.16 207.99 374.52 207.99 374.88 207.99 375.23 207.99 375.59 207.99 375.95 207.99 376.31 207.99 376.67 207.99 377.03 207.99 377.38 207.99 377.74 207.99 378.1 207.99 378.46 207.99 378.82 207.99 379.18 207.99 379.54 207.99 379.89 209.64 380.25 209.64 380.61 209.64 380.97 209.64 381.33 211.28 381.69 211.28 382.05 211.28 382.4 212.92 382.76 212.92 383.12 212.92 383.48 212.92 383.84 212.92 384.2 212.92 384.56 214.56 384.91 214.56 385.27 214.56 385.63 214.56 385.99 214.56 386.35 214.56 386.71 214.56 387.06 214.56 387.42 214.56 387.78 214.56 388.14 214.56 388.5 214.56 388.86 214.56 389.22 214.56 389.57 214.56 389.93 214.56 390.29 214.56 390.65 214.56 391.01 214.56 391.37 214.56 391.73 214.56 392.08 214.56 392.44 214.56 392.8 214.56 393.16 214.56 393.52 214.56 393.88 214.56 394.23 214.56 394.59 214.56 394.95 214.56 395.31 214.56 395.67 214.56 396.03 214.56 396.39 214.56 396.74 214.56 397.1 214.56 397.46 214.56 397.82 214.56 398.18 214.56 398.54 214.56 398.89 214.56 399.25 214.56 399.61 214.56 399.97 214.56 400.33 214.56 400.69 214.56 401.05 214.56 401.4 214.56 401.76 214.56 402.12 214.56 402.48 214.56 402.84 214.56 403.2 214.56 403.56 214.56 403.91 214.56 404.27 214.56 404.63 214.56 404.99 214.56 405.35 214.56 405.71 216.21 406.06 216.21 406.42 216.21 406.78 216.21 407.14 216.21 407.5 216.21 407.86 216.21 408.22 216.21 408.57 216.21 408.93 216.21 409.29 216.21 409.65 216.21 410.01 216.21 410.37 216.21 410.73 216.21 411.08 216.21 411.44 216.21 411.8 216.21 412.16 216.21 412.52 216.21 412.88 216.21 413.24 216.21 413.59 216.21 413.95 216.21 414.31 216.21 414.67 216.21 415.03 216.21 415.39 216.21 415.74 216.21 416.1 216.21 416.46 216.21 416.82 216.21 417.18 216.21 417.54 216.21 417.9 216.21 418.25 216.21 418.61 216.21 418.97 216.21 419.33 216.21 419.69 216.21 420.05 216.21 420.4 216.21 420.76 216.21 421.12 216.21 421.48 216.21 421.84 216.21 422.2 216.21 422.56 216.21 422.91 216.21 423.27 216.21 423.63 216.21 423.99 216.21 424.35 216.21 424.71 216.21 425.07 216.21 425.42 216.21 425.78 216.21 426.14 217.85 426.5 217.85 426.86 217.85 427.22 217.85 427.57 217.85 427.93 217.85 428.29 217.85 428.65 217.85 429.01 217.85 429.37 217.85 429.73 217.85 430.08 217.85 430.44 217.85 430.8 217.85 431.16 217.85 431.52 217.85 431.88 217.85 432.24 217.85 432.59 217.85 432.95 217.85 433.31 217.85 433.67 217.85 434.03 217.85 434.39 217.85 434.75 217.85 435.1 217.85 435.46 217.85 435.82 217.85 436.18 217.85 436.54 217.85 436.9 217.85 437.25 217.85 437.61 217.85 437.97 217.85 438.33 217.85 438.69 217.85 439.05 217.85 439.41 217.85 439.76 217.85 440.12 217.85 440.48 217.85 440.84 217.85 441.2 217.85 441.56 217.85 441.91 217.85 442.27 217.85 442.63 217.85 442.99 217.85 443.35 217.85 443.71 217.85 444.07 217.85 444.42 217.85 444.78 217.85 445.14 217.85 445.5 217.85" stroke="#000" stroke-width="1.5" fill="none" stroke-linejoin="round" stroke-linecap="butt"/>
<g fill="#ff0000" fill-opacity="0.5" stroke="#ff0000" stroke-opacity="0.5" stroke-width="0.9">
<circle cx="266.61" cy="217.85" r="1.25"/><circle cx="266.97" cy="217.85" r="1.25"/><circle cx="267.33" cy="217.85" r="1.25"/><circle cx="267.68" cy="217.85" r="1.25"/><circle cx="268.04" cy="217.85" r="1.25"/><circle cx="268.4" cy="217.85" r="1.25"/><circle cx="268.76" cy="217.85" r="1.25"/><circle cx="269.12" cy="217.85" r="1.25"/><circle cx="269.48" cy="217.85" r="1.25"/><circle cx="269.83" cy="217.85" r="1.25"/><circle cx="270.19" cy="217.85" r="1.25"/><circle cx="270.55" cy="217.85" r="1.25"/><circle cx="270.91" cy="217.85" r="1.25"/><circle cx="271.27" cy="217.85" r="1.25"/><circle cx="271.63" cy="217.85" r="1.25"/><circle cx="271.99" cy="217.85" r="1.25"/><circle cx="272.34" cy="217.85" r="1.25"/><circle cx="272.7" cy="217.85" r="1.25"/><circle cx="273.06" cy="217.85" r="1.25"/><circle cx="273.42" cy="217.85" r="1.25"/><circle cx="273.78" cy="217.85" r="1.25"/><circle cx="274.14" cy="217.85" r="1.25"/><circle cx="274.5" cy="217.85" r="1.25"/><circle cx="274.85" cy="217.85" r="1.25"/><circle cx="275.21" cy="217.85" r="1.25"/><circle cx="275.57" cy="217.85" r="1.25"/><circle cx="275.93" cy="217.85" r="1.25"/><circle cx="276.29" cy="217.85" r="1.25"/><circle cx="276.65" cy="217.85" r="1.25"/><circle cx="277" cy="217.85" r="1.25"/><circle cx="277.36" cy="217.85" r="1.25"/><circle cx="277.72" cy="217.85" r="1.25"/><circle cx="278.08" cy="217.85" r="1.25"/><circle cx="278.44" cy="217.85" r="1.25"/><circle cx="278.8" cy="217.85" r="1.25"/><circle cx="279.16" cy="217.85" r="1.25"/><circle cx="279.51" cy="217.85" r="1.25"/><circle cx="279.87" cy="217.85" r="1.25"/><circle cx="280.23" cy="217.85" r="1.25"/><circle cx="280.59" cy="217.85" r="1.25"/><circle cx="280.95" cy="217.85" r="1.25"/><circle cx="281.31" cy="217.85" r="1.25"/><circle cx="281.67" cy="217.85" r="1.25"/><circle cx="282.02" cy="217.85" r="1.25"/><circle cx="282.38" cy="217.85" r="1.25"/><circle cx="282.74" cy="217.85" r="1.25"/><circle cx="283.1" cy="217.85" r="1.25"/><circle cx="283.46" cy="217.85" r="1.25"/><circle cx="283.82" cy="217.85" r="1.25"/><circle cx="284.18" cy="217.85" r="1.25"/><circle cx="284.53" cy="217.85" r="1.25"/><circle cx="284.89" cy="217.85" r="1.25"/><circle cx="285.25" cy="217.85" r="1.25"/><circle cx="285.61" cy="217.85" r="1.25"/><circle cx="285.97" cy="217.85" r="1.25"/><circle cx="286.33" cy="217.85" r="1.25"/><circle cx="286.68" cy="217.85" r="1.25"/><circle cx="287.04" cy="217.85" r="1.25"/><circle cx="287.4" cy="217.85" r="1.25"/><circle cx="287.76" cy="217.85" r="1.25"/><circle cx="288.12" cy="217.85" r="1.25"/><circle cx="288.48" cy="217.85" r="1.25"/><circle cx="288.84" cy="217.85" r="1.25"/><circle cx="289.19" cy="217.85" r="1.25"/><circle cx="289.55" cy="217.85" r="1.25"/><circle cx="289.91" cy="217.85" r="1.25"/><circle cx="290.27" cy="217.85" r="1.25"/><circle cx="290.63" cy="217.85" r="1.25"/><circle cx="290.99" cy="217.85" r="1.25"/><circle cx="291.35" cy="217.85" r="1.25"/><circle cx="291.7" cy="217.85" r="1.25"/><circle cx="292.06" cy="217.85" r="1.25"/><circle cx="292.42" cy="217.85" r="1.25"/><circle cx="292.78" cy="217.85" r="1.25"/><circle cx="293.14" cy="217.85" r="1.25"/><circle cx="293.5" cy="217.85" r="1.25"/><circle cx="293.85" cy="217.85" r="1.25"/><circle cx="294.21" cy="217.85" r="1.25"/><circle cx="294.57" cy="217.85" r="1.25"/><circle cx="294.93" cy="217.85" r="1.25"/><circle cx="295.29" cy="217.85" r="1.25"/><circle cx="295.65" cy="217.85" r="1.25"/><circle cx="296.01" cy="217.85" r="1.25"/><circle cx="296.36" cy="217.85" r="1.25"/><circle cx="296.72" cy="217.85" r="1.25"/><circle cx="297.08" cy="217.85" r="1.25"/><circle cx="297.44" cy="217.85" r="1.25"/><circle cx="297.8" cy="217.85" r="1.25"/><circle cx="298.16" cy="217.85" r="1.25"/><circle cx="298.51" cy="217.85" r="1.25"/><circle cx="298.87" cy="217.85" r="1.25"/><circle cx="299.23" cy="217.85" r="1.25"/><circle cx="299.59" cy="217.85" r="1.25"/><circle cx="299.95" cy="217.85" r="1.25"/><circle cx="300.31" cy="217.85" r="1.25"/><circle cx="300.67" cy="217.85" r="1.25"/><circle cx="301.02" cy="217.85" r="1.25"/><circle cx="301.38" cy="35.3" r="1.25"/><circle cx="301.74" cy="35.3" r="1.25"/><circle cx="302.1" cy="35.3" r="1.25"/><circle cx="302.46" cy="35.3" r="1.25"/><circle cx="302.82" cy="35.3" r="1.25"/><circle cx="303.18" cy="35.3" r="1.25"/><circle cx="303.53" cy="35.3" r="1.25"/><circle cx="303.89" cy="35.3" r="1.25"/><circle cx="304.25" cy="35.3" r="1.25"/><circle cx="304.61" cy="35.3" r="1.25"/><circle cx="304.97" cy="35.3" r="1.25"/><circle cx="305.33" cy="35.3" r="1.25"/><circle cx="305.69" cy="35.3" r="1.25"/><circle cx="306.04" cy="35.3" r="1.25"/><circle cx="306.4" cy="35.3" r="1.25"/><circle cx="306.76" cy="35.3" r="1.25"/><circle cx="307.12" cy="35.3" r="1.25"/><circle cx="307.48" cy="35.3" r="1.25"/><circle cx="307.84" cy="35.3" r="1.25"/><circle cx="308.19" cy="35.3" r="1.25"/><circle cx="308.55" cy="35.3" r="1.25"/><circle cx="308.91" cy="35.3" r="1.25"/><circle cx="309.27" cy="35.3" r="1.25"/><circle cx="309.63" cy="35.3" r="1.25"/><circle cx="309.99" cy="35.3" r="1.25"/><circle cx="310.35" cy="35.3" r="1.25"/><circle cx="310.7" cy="35.3" r="1.25"/><circle cx="311.06" cy="35.3" r="1.25"/><circle cx="311.42" cy="35.3" r="1.25"/><circle cx="311.78" cy="35.3" r="1.25"/><circle cx="312.14" cy="35.3" r="1.25"/><circle cx="312.5" cy="35.3" r="1.25"/><circle cx="312.86" cy="35.3" r="1.25"/><circle cx="313.21" cy="35.3" r="1.25"/><circle cx="313.57" cy="35.3" r="1.25"/><circle cx="313.93" cy="35.3" r="1.25"/><circle cx="314.29" cy="35.3" r="1.25"/><circle cx="314.65" cy="35.3" r="1.25"/><circle cx="315.01" cy="35.3" r="1.25"/><circle cx="315.36" cy="35.3" r="1.25"/><circle cx="315.72" cy="35.3" r="1.25"/><circle cx="316.08" cy="35.3" r="1.25"/><circle cx="316.44" cy="35.3" r="1.25"/><circle cx="316.8" cy="35.3" r="1.25"/><circle cx="317.16" cy="35.3" r="1.25"/><circle cx="317.52" cy="35.3" r="1.25"/><circle cx="317.87" cy="35.3" r="1.25"/><circle cx="318.23" cy="35.3" r="1.25"/><circle cx="318.59" cy="35.3" r="1.25"/><circle cx="318.95" cy="35.3" r="1.25"/><circle cx="319.31" cy="35.3" r="1.25"/><circle cx="319.67" cy="35.3" r="1.25"/><circle cx="320.02" cy="35.3" r="1.25"/><circle cx="320.38" cy="35.3" r="1.25"/><circle cx="320.74" cy="35.3" r="1.25"/><circle cx="321.1" cy="35.3" r="1.25"/><circle cx="321.46" cy="35.3" r="1.25"/><circle cx="321.82" cy="35.3" r="1.25"/><circle cx="322.18" cy="35.3" r="1.25"/><circle cx="322.53" cy="35.3" r="1.25"/><circle cx="322.89" cy="35.3" r="1.25"/><circle cx="323.25" cy="35.3" r="1.25"/><circle cx="323.61" cy="35.3" r="1.25"/><circle cx="323.97" cy="35.3" r="1.25"/><circle cx="324.33" cy="35.3" r="1.25"/><circle cx="324.69" cy="35.3" r="1.25"/><circle cx="325.04" cy="35.3" r="1.25"/><circle cx="325.4" cy="35.3" r="1.25"/><circle cx="325.76" cy="35.3" r="1.25"/><circle cx="326.12" cy="35.3" r="1.25"/><circle cx="326.48" cy="35.3" r="1.25"/><circle cx="326.84" cy="35.3" r="1.25"/><circle cx="327.19" cy="35.3" r="1.25"/><circle cx="327.55" cy="36.21" r="1.25"/><circle cx="327.91" cy="37.13" r="1.25"/><circle cx="328.27" cy="36.21" r="1.25"/><circle cx="328.63" cy="35.3" r="1.25"/><circle cx="328.99" cy="35.76" r="1.25"/><circle cx="329.35" cy="36.21" r="1.25"/><circle cx="329.7" cy="35.3" r="1.25"/><circle cx="330.06" cy="217.85" r="1.25"/><circle cx="330.42" cy="217.85" r="1.25"/><circle cx="330.78" cy="217.85" r="1.25"/><circle cx="331.14" cy="217.85" r="1.25"/><circle cx="331.5" cy="217.85" r="1.25"/><circle cx="331.86" cy="217.85" r="1.25"/><circle cx="332.21" cy="217.85" r="1.25"/><circle cx="332.57" cy="217.85" r="1.25"/><circle cx="332.93" cy="217.85" r="1.25"/><circle cx="333.29" cy="217.85" r="1.25"/><circle cx="333.65" cy="217.85" r="1.25"/><circle cx="334.01" cy="217.85" r="1.25"/><circle cx="334.37" cy="217.85" r="1.25"/><circle cx="334.72" cy="217.85" r="1.25"/><circle cx="335.08" cy="217.85" r="1.25"/><circle cx="335.44" cy="217.85" r="1.25"/><circle cx="335.8" cy="217.85" r="1.25"/><circle cx="336.16" cy="217.85" r="1.25"/><circle cx="336.52" cy="217.85" r="1.25"/><circle cx="336.87" cy="217.85" r="1.25"/><circle cx="337.23" cy="217.85" r="1.25"/><circle cx="337.59" cy="217.85" r="1.25"/><circle cx="337.95" cy="217.85" r="1.25"/><circle cx="338.31" cy="217.85" r="1.25"/><circle cx="338.67" cy="217.85" r="1.25"/><circle cx="339.03" cy="217.85" r="1.25"/><circle cx="339.38" cy="217.85" r="1.25"/><circle cx="339.74" cy="217.85" r="1.25"/><circle cx="340.1" cy="217.85" r="1.25"/><circle cx="340.46" cy="217.85" r="1.25"/><circle cx="340.82" cy="217.85" r="1.25"/><circle cx="341.18" cy="217.85" r="1.25"/><circle cx="341.53" cy="217.85" r="1.25"/><circle cx="341.89" cy="217.85" r="1.25"/><circle cx="342.25" cy="217.85" r="1.25"/><circle cx="342.61" cy="217.85" r="1.25"/><circle cx="342.97" cy="217.85" r="1.25"/><circle cx="343.33" cy="217.85" r="1.25"/><circle cx="343.69" cy="217.85" r="1.25"/><circle cx="344.04" cy="217.85" r="1.25"/><circle cx="344.4" cy="217.85" r="1.25"/><circle cx="344.76" cy="217.85" r="1.25"/><circle cx="345.12" cy="217.85" r="1.25"/><circle cx="345.48" cy="217.85" r="1.25"/><circle cx="345.84" cy="217.85" r="1.25"/><circle cx="346.2" cy="217.85" r="1.25"/><circle cx="346.55" cy="217.85" r="1.25"/><circle cx="346.91" cy="217.85" r="1.25"/><circle cx="347.27" cy="217.85" r="1.25"/><circle cx="347.63" cy="217.85" r="1.25"/><circle cx="347.99" cy="217.85" r="1.25"/><circle cx="348.35" cy="217.85" r="1.25"/><circle cx="348.7" cy="217.85" r="1.25"/><circle cx="349.06" cy="217.85" r="1.25"/><circle cx="349.42" cy="217.85" r="1.25"/><circle cx="349.78" cy="217.85" r="1.25"/><circle cx="350.14" cy="217.85" r="1.25"/><circle cx="350.5" cy="217.85" r="1.25"/><circle cx="350.86" cy="217.85" r="1.25"/><circle cx="351.21" cy="217.85" r="1.25"/><circle cx="351.57" cy="217.85" r="1.25"/><circle cx="351.93" cy="217.85" r="1.25"/><circle cx="352.29" cy="217.85" r="1.25"/><circle cx="352.65" cy="217.85" r="1.25"/><circle cx="353.01" cy="217.85" r="1.25"/><circle cx="353.37" cy="217.85" r="1.25"/><circle cx="353.72" cy="217.85" r="1.25"/><circle cx="354.08" cy="217.85" r="1.25"/><circle cx="354.44" cy="217.85" r="1.25"/><circle cx="354.8" cy="217.85" r="1.25"/><circle cx="355.16" cy="217.85" r="1.25"/><circle cx="355.52" cy="217.85" r="1.25"/><circle cx="355.88" cy="217.85" r="1.25"/><circle cx="356.23" cy="217.85" r="1.25"/><circle cx="356.59" cy="217.85" r="1.25"/><circle cx="356.95" cy="217.85" r="1.25"/><circle cx="357.31" cy="217.85" r="1.25"/><circle cx="357.67" cy="217.85" r="1.25"/><circle cx="358.03" cy="217.85" r="1.25"/><circle cx="358.38" cy="217.85" r="1.25"/><circle cx="358.74" cy="217.85" r="1.25"/><circle cx="359.1" cy="217.85" r="1.25"/><circle cx="359.46" cy="217.85" r="1.25"/><circle cx="359.82" cy="217.85" r="1.25"/><circle cx="360.18" cy="217.85" r="1.25"/><circle cx="360.54" cy="217.85" r="1.25"/><circle cx="360.89" cy="217.85" r="1.25"/><circle cx="361.25" cy="217.85" r="1.25"/><circle cx="361.61" cy="217.85" r="1.25"/><circle cx="361.97" cy="217.85" r="1.25"/><circle cx="362.33" cy="217.85" r="1.25"/><circle cx="362.69" cy="217.85" r="1.25"/><circle cx="363.05" cy="217.85" r="1.25"/><circle cx="363.4" cy="217.85" r="1.25"/><circle cx="363.76" cy="217.85" r="1.25"/><circle cx="364.12" cy="217.85" r="1.25"/><circle cx="364.48" cy="217.85" r="1.25"/><circle cx="364.84" cy="217.85" r="1.25"/><circle cx="365.2" cy="217.85" r="1.25"/><circle cx="365.55" cy="217.85" r="1.25"/><circle cx="365.91" cy="217.85" r="1.25"/><circle cx="366.27" cy="217.85" r="1.25"/><circle cx="366.63" cy="217.85" r="1.25"/><circle cx="366.99" cy="217.85" r="1.25"/><circle cx="367.35" cy="217.85" r="1.25"/><circle cx="367.71" cy="217.85" r="1.25"/><circle cx="368.06" cy="217.85" r="1.25"/><circle cx="368.42" cy="217.85" r="1.25"/><circle cx="368.78" cy="217.85" r="1.25"/><circle cx="369.14" cy="217.85" r="1.25"/><circle cx="369.5" cy="217.85" r="1.25"/><circle cx="369.86" cy="217.85" r="1.25"/><circle cx="370.21" cy="217.85" r="1.25"/><circle cx="370.57" cy="217.85" r="1.25"/><circle cx="370.93" cy="217.85" r="1.25"/><circle cx="371.29" cy="217.85" r="1.25"/><circle cx="371.65" cy="217.85" r="1.25"/><circle cx="372.01" cy="217.85" r="1.25"/><circle cx="372.37" cy="217.85" r="1.25"/><circle cx="372.72" cy="217.85" r="1.25"/><circle cx="373.08" cy="217.85" r="1.25"/><circle cx="373.44" cy="217.85" r="1.25"/><circle cx="373.8" cy="217.85" r="1.25"/><circle cx="374.16" cy="217.85" r="1.25"/><circle cx="374.52" cy="217.85" r="1.25"/><circle cx="374.88" cy="217.85" r="1.25"/><circle cx="375.23" cy="217.85" r="1.25"/><circle cx="375.59" cy="217.85" r="1.25"/><circle cx="375.95" cy="217.85" r="1.25"/><circle cx="376.31" cy="217.85" r="1.25"/><circle cx="376.67" cy="217.85" r="1.25"/><circle cx="377.03" cy="217.85" r="1.25"/><circle cx="377.38" cy="217.85" r="1.25"/><circle cx="377.74" cy="217.85" r="1.25"/><circle cx="378.1" cy="217.85" r="1.25"/><circle cx="378.46" cy="217.85" r="1.25"/><circle cx="378.82" cy="217.85" r="1.25"/><circle cx="379.18" cy="217.85" r="1.25"/><circle cx="379.54" cy="217.85" r="1.25"/><circle cx="379.89" cy="217.85" r="1.25"/><circle cx="380.25" cy="217.85" r="1.25"/><circle cx="380.61" cy="217.85" r="1.25"/><circle cx="380.97" cy="217.85" r="1.25"/><circle cx="381.33" cy="217.85" r="1.25"/><circle cx="381.69" cy="217.85" r="1.25"/><circle cx="382.05" cy="217.85" r="1.25"/><circle cx="382.4" cy="217.85" r="1.25"/><circle cx="382.76" cy="217.85" r="1.25"/><circle cx="383.12" cy="217.85" r="1.25"/><circle cx="383.48" cy="217.85" r="1.25"/><circle cx="383.84" cy="217.85" r="1.25"/><circle cx="384.2" cy="217.85" r="1.25"/><circle cx="384.56" cy="217.85" r="1.25"/><circle cx="384.91" cy="217.85" r="1.25"/><circle cx="385.27" cy="217.85" r="1.25"/><circle cx="385.63" cy="217.85" r="1.25"/><circle cx="385.99" cy="217.85" r="1.25"/><circle cx="386.35" cy="217.85" r="1.25"/><circle cx="386.71" cy="217.85" r="1.25"/><circle cx="387.06" cy="217.85" r="1.25"/><circle cx="387.42" cy="217.85" r="1.25"/><circle cx="387.78" cy="217.85" r="1.25"/><circle cx="388.14" cy="217.85" r="1.25"/><circle cx="388.5" cy="217.85" r="1.25"/><circle cx="388.86" cy="217.85" r="1.25"/><circle cx="389.22" cy="217.85" r="1.25"/><circle cx="389.57" cy="217.85" r="1.25"/><circle cx="389.93" cy="217.85" r="1.25"/><circle cx="390.29" cy="217.85" r="1.25"/><circle cx="390.65" cy="217.85" r="1.25"/><circle cx="391.01" cy="217.85" r="1.25"/><circle cx="391.37" cy="217.85" r="1.25"/><circle cx="391.73" cy="217.85" r="1.25"/><circle cx="392.08" cy="217.85" r="1.25"/><circle cx="392.44" cy="217.85" r="1.25"/><circle cx="392.8" cy="217.85" r="1.25"/><circle cx="393.16" cy="217.85" r="1.25"/><circle cx="393.52" cy="217.85" r="1.25"/><circle cx="393.88" cy="217.85" r="1.25"/><circle cx="394.23" cy="217.85" r="1.25"/><circle cx="394.59" cy="217.85" r="1.25"/><circle cx="394.95" cy="217.85" r="1.25"/><circle cx="395.31" cy="217.85" r="1.25"/><circle cx="395.67" cy="217.85" r="1.25"/><circle cx="396.03" cy="217.85" r="1.25"/><circle cx="396.39" cy="217.85" r="1.25"/><circle cx="396.74" cy="217.85" r="1.25"/><circle cx="397.1" cy="217.85" r="1.25"/><circle cx="397.46" cy="217.85" r="1.25"/><circle cx="397.82" cy="217.85" r="1.25"/><circle cx="398.18" cy="217.85" r="1.25"/><circle cx="398.54" cy="217.85" r="1.25"/><circle cx="398.89" cy="217.85" r="1.25"/><circle cx="399.25" cy="217.85" r="1.25"/><circle cx="399.61" cy="217.85" r="1.25"/><circle cx="399.97" cy="217.85" r="1.25"/><circle cx="400.33" cy="217.85" r="1.25"/><circle cx="400.69" cy="217.85" r="1.25"/><circle cx="401.05" cy="217.85" r="1.25"/><circle cx="401.4" cy="217.85" r="1.25"/><circle cx="401.76" cy="217.85" r="1.25"/><circle cx="402.12" cy="217.85" r="1.25"/><circle cx="402.48" cy="217.85" r="1.25"/><circle cx="402.84" cy="217.85" r="1.25"/><circle cx="403.2" cy="217.85" r="1.25"/><circle cx="403.56" cy="217.85" r="1.25"/><circle cx="403.91" cy="217.85" r="1.25"/><circle cx="404.27" cy="217.85" r="1.25"/><circle cx="404.63" cy="217.85" r="1.25"/><circle cx="404.99" cy="217.85" r="1.25"/><circle cx="405.35" cy="217.85" r="1.25"/><circle cx="405.71" cy="217.85" r="1.25"/><circle cx="406.06" cy="217.85" r="1.25"/><circle cx="406.42" cy="217.85" r="1.25"/><circle cx="406.78" cy="217.85" r="1.25"/><circle cx="407.14" cy="217.85" r="1.25"/><circle cx="407.5" cy="217.85" r="1.25"/><circle cx="407.86" cy="217.85" r="1.25"/><circle cx="408.22" cy="217.85" r="1.25"/><circle cx="408.57" cy="217.85" r="1.25"/><circle cx="408.93" cy="217.85" r="1.25"/><circle cx="409.29" cy="217.85" r="1.25"/><circle cx="409.65" cy="217.85" r="1.25"/><circle cx="410.01" cy="217.85" r="1.25"/><circle cx="410.37" cy="217.85" r="1.25"/><circle cx="410.73" cy="217.85" r="1.25"/><circle cx="411.08" cy="217.85" r="1.25"/><circle cx="411.44" cy="217.85" r="1.25"/><circle cx="411.8" cy="217.85" r="1.25"/><circle cx="412.16" cy="217.85" r="1.25"/><circle cx="412.52" cy="217.85" r="1.25"/><circle cx="412.88" cy="217.85" r="1.25"/><circle cx="413.24" cy="217.85" r="1.25"/><circle cx="413.59" cy="217.85" r="1.25"/><circle cx="413.95" cy="217.85" r="1.25"/><circle cx="414.31" cy="217.85" r="1.25"/><circle cx="414.67" cy="217.85" r="1.25"/><circle cx="415.03" cy="217.85" r="1.25"/><circle cx="415.39" cy="217.85" r="1.25"/><circle cx="415.74" cy="217.85" r="1.25"/><circle cx="416.1" cy="217.85" r="1.25"/><circle cx="416.46" cy="217.85" r="1.25"/><circle cx="416.82" cy="217.85" r="1.25"/><circle cx="417.18" cy="217.85" r="1.25"/><circle cx="417.54" cy="217.85" r="1.25"/><circle cx="417.9" cy="217.85" r="1.25"/><circle cx="418.25" cy="217.85" r="1.25"/><circle cx="418.61" cy="217.85" r="1.25"/><circle cx="418.97" cy="217.85" r="1.25"/><circle cx="419.33" cy="217.85" r="1.25"/><circle cx="419.69" cy="217.85" r="1.25"/><circle cx="420.05" cy="217.85" r="1.25"/><circle cx="420.4" cy="217.85" r="1.25"/><circle cx="420.76" cy="217.85" r="1.25"/><circle cx="421.12" cy="217.85" r="1.25"/><circle cx="421.48" cy="217.85" r="1.25"/><circle cx="421.84" cy="217.85" r="1.25"/><circle cx="422.2" cy="217.85" r="1.25"/><circle cx="422.56" cy="217.85" r="1.25"/><circle cx="422.91" cy="217.85" r="1.25"/><circle cx="423.27" cy="217.85" r="1.25"/><circle cx="423.63" cy="217.85" r="1.25"/><circle cx="423.99" cy="217.85" r="1.25"/><circle cx="424.35" cy="217.85" r="1.25"/><circle cx="424.71" cy="217.85" r="1.25"/><circle cx="425.07" cy="217.85" r="1.25"/><circle cx="425.42" cy="217.85" r="1.25"/><circle cx="425.78" cy="217.85" r="1.25"/><circle cx="426.14" cy="217.85" r="1.25"/><circle cx="426.5" cy="217.85" r="1.25"/><circle cx="426.86" cy="217.85" r="1.25"/><circle cx="427.22" cy="217.85" r="1.25"/><circle cx="427.57" cy="217.85" r="1.25"/><circle cx="427.93" cy="217.85" r="1.25"/><circle cx="428.29" cy="217.85" r="1.25"/><circle cx="428.65" cy="217.85" r="1.25"/><circle cx="429.01" cy="217.85" r="1.25"/><circle cx="429.37" cy="217.85" r="1.25"/><circle cx="429.73" cy="217.85" r="1.25"/><circle cx="430.08" cy="217.85" r="1.25"/><circle cx="430.44" cy="217.85" r="1.25"/><circle cx="430.8" cy="217.85" r="1.25"/><circle cx="431.16" cy="217.85" r="1.25"/><circle cx="431.52" cy="217.85" r="1.25"/><circle cx="431.88" cy="217.85" r="1.25"/><circle cx="432.24" cy="217.85" r="1.25"/><circle cx="432.59" cy="217.85" r="1.25"/><circle cx="432.95" cy="217.85" r="1.25"/><circle cx="433.31" cy="217.85" r="1.25"/><circle cx="433.67" cy="217.85" r="1.25"/><circle cx="434.03" cy="217.85" r="1.25"/><circle cx="434.39" cy="217.85" r="1.25"/><circle cx="434.75" cy="217.85" r="1.25"/><circle cx="435.1" cy="217.85" r="1.25"/><circle cx="435.46" cy="217.85" r="1.25"/><circle cx="435.82" cy="217.85" r="1.25"/><circle cx="436.18" cy="217.85" r="1.25"/><circle cx="436.54" cy="217.85" r="1.25"/><circle cx="436.9" cy="217.85" r="1.25"/><circle cx="437.25" cy="217.85" r="1.25"/><circle cx="437.61" cy="217.85" r="1.25"/><circle cx="437.97" cy="217.85" r="1.25"/><circle cx="438.33" cy="217.85" r="1.25"/><circle cx="438.69" cy="217.85" r="1.25"/><circle cx="439.05" cy="217.85" r="1.25"/><circle cx="439.41" cy="217.85" r="1.25"/><circle cx="439.76" cy="217.85" r="1.25"/><circle cx="440.12" cy="217.85" r="1.25"/><circle cx="440.48" cy="217.85" r="1.25"/><circle cx="440.84" cy="217.85" r="1.25"/><circle cx="441.2" cy="217.85" r="1.25"/><circle cx="441.56" cy="217.85" r="1.25"/><circle cx="441.91" cy="217.85" r="1.25"/><circle cx="442.27" cy="217.85" r="1.25"/><circle cx="442.63" cy="217.85" r="1.25"/><circle cx="442.99" cy="217.85" r="1.25"/><circle cx="443.35" cy="217.85" r="1.25"/><circle cx="443.71" cy="217.85" r="1.25"/><circle cx="444.07" cy="217.85" r="1.25"/><circle cx="444.42" cy="217.85" r="1.25"/><circle cx="444.78" cy="217.85" r="1.25"/><circle cx="445.14" cy="217.12" r="1.25"/><circle cx="445.5" cy="215.66" r="1.25"/>
</g>
</g>
<g>
<rect x="462.2" y="25.8" width="196.5" height="201" fill="#ebebeb"/>
<path d="M462.2 195.03h196.5M462.2 149.39h196.5M462.2 103.76h196.5M462.2 58.12h196.5M488.77 25.8v201M524.62 25.8v201M560.47 25.8v201M596.32 25.8v201M632.17 25.8v201" stroke="#fff" stroke-width="0.8" fill="none"/>
<path d="M462.2 217.85h196.5M462.2 172.21h196.5M462.2 126.57h196.5M462.2 80.94h196.5M462.2 35.3h196.5M470.85 25.8v201M506.7 25.8v201M542.55 25.8v201M578.4 25.8v201M614.25 25.8v201M650.1 25.8v201" stroke="#fff" stroke-width="1.55" fill="none"/>
<path d="M471.21 217.85 L576.61 217.85 L576.61 35.3 L605.47 35.3 L605.47 217.85 L650.1 217.85" stroke="#00ff00" stroke-width="1.45" fill="none" stroke-linejoin="miter"/>
<path d="M471.21 212.92 471.57 212.92 471.93 212.92 472.28 212.92 472.64 212.92 473 214.56 473.36 214.56 473.72 214.56 474.08 216.21 474.43 216.21 474.79 216.21 475.15 216.21 475.51 216.21 475.87 216.21 476.23 216.21 476.59 216.21 476.94 216.21 477.3 216.21 477.66 216.21 478.02 216.21 478.38 216.21 478.74 216.21 479.1 216.21 479.45 216.21 479.81 216.21 480.17 216.21 480.53 216.21 480.89 216.21 481.25 216.21 481.6 216.21 481.96 216.21 482.32 216.21 482.68 216.21 483.04 216.21 483.4 216.21 483.76 216.21 484.11 216.21 484.47 216.21 484.83 216.21 485.19 216.21 485.55 216.21 485.91 216.21 486.27 216.21 486.62 216.21 486.98 216.21 487.34 216.21 487.7 216.21 488.06 216.21 488.42 216.21 488.77 216.21 489.13 216.21 489.49 216.21 489.85 216.21 490.21 216.21 490.57 216.21 490.93 216.21 491.28 216.21 491.64 216.21 492 216.21 492.36 216.21 492.72 216.21 493.08 216.21 493.44 216.21 493.79 216.21 494.15 216.21 494.51 216.21 494.87 216.21 495.23 216.21 495.59 216.21 495.94 216.21 496.3 216.21 496.66 216.21 497.02 216.21 497.38 216.21 497.74 216.21 498.1 216.21 498.45 216.21 498.81 216.21 499.17 216.21 499.53 216.21 499.89 216.21 500.25 216.21 500.61 216.21 500.96 216.21 501.32 216.21 501.68 216.21 502.04 216.21 502.4 216.21 502.76 216.21 503.11 214.56 503.47 214.56 503.83 214.56 504.19 212.92 504.55 212.92 504.91 212.92 505.27 212.92 505.62 212.92 505.98 212.92 506.34 212.92 506.7 212.92 507.06 212.92 507.42 212.92 507.78 212.92 508.13 212.92 508.49 211.28 508.85 211.28 509.21 211.28 509.57 211.28 509.93 211.28 510.28 211.28 510.64 211.28 511 211.28 511.36 211.28 511.72 211.28 512.08 211.28 512.44 211.28 512.79 211.28 513.15 211.28 513.51 211.28 513.87 211.28 514.23 211.28 514.59 211.28 514.95 211.28 515.3 211.28 515.66 211.28 516.02 211.28 516.38 211.28 516.74 211.28 517.1 211.28 517.45 211.28 517.81 211.28 518.17 211.28 518.53 211.28 518.89 211.28 519.25 211.28 519.61 211.28 519.96 211.28 520.32 211.28 520.68 211.28 521.04 211.28 521.4 211.28 521.76 211.28 522.12 211.28 522.47 211.28 522.83 209.64 523.19 209.64 523.55 209.64 523.91 209.64 524.27 209.64 524.62 209.64 524.98 209.64 525.34 209.64 525.7 209.64 526.06 209.64 526.42 209.64 526.78 209.64 527.13 209.64 527.49 209.64 527.85 209.64 528.21 209.64 528.57 207.99 528.93 207.99 529.29 207.99 529.64 207.99 530 207.99 530.36 207.99 530.72 207.99 531.08 207.99 531.44 207.99 531.79 207.99 532.15 206.35 532.51 207.99 532.87 206.35 533.23 206.35 533.59 206.35 533.95 206.35 534.3 206.35 534.66 206.35 535.02 204.71 535.38 204.71 535.74 204.71 536.1 204.71 536.46 204.71 536.81 204.71 537.17 204.71 537.53 201.42 537.89 199.78 538.25 198.13 538.61 194.85 538.96 194.85 539.32 194.85 539.68 194.85 540.04 194.85 540.4 193.21 540.76 194.85 541.12 193.21 541.47 193.21 541.83 193.21 542.19 193.21 542.55 193.21 542.91 193.21 543.27 193.21 543.63 193.21 543.98 193.21 544.34 193.21 544.7 191.56 545.06 189.92 545.42 188.28 545.78 186.63 546.13 186.63 546.49 186.63 546.85 186.63 547.21 186.63 547.57 184.99 547.93 184.99 548.29 186.63 548.64 186.63 549 186.63 549.36 186.63 549.72 184.99 550.08 184.99 550.44 184.99 550.8 184.99 551.15 183.35 551.51 180.06 551.87 176.78 552.23 173.49 552.59 171.85 552.95 171.85 553.3 170.2 553.66 170.2 554.02 170.2 554.38 168.56 554.74 170.2 555.1 170.2 555.46 166.92 555.81 168.56 556.17 168.56 556.53 161.99 556.89 160.35 557.25 157.06 557.61 155.42 557.97 152.13 558.32 150.49 558.68 148.85 559.04 143.92 559.4 143.92 559.76 140.63 560.12 138.99 560.47 134.06 560.83 132.42 561.19 132.42 561.55 129.13 561.91 127.49 562.27 124.2 562.63 125.84 562.98 120.92 563.34 119.27 563.7 119.27 564.06 117.63 564.42 114.34 564.78 111.06 565.14 111.06 565.49 111.06 565.85 111.06 566.21 107.77 566.57 104.49 566.93 106.13 567.29 102.84 567.64 99.56 568 101.2 568.36 97.91 568.72 96.27 569.08 96.27 569.44 94.63 569.8 94.63 570.15 92.99 570.51 94.63 570.87 91.34 571.23 92.99 571.59 91.34 571.95 91.34 572.31 91.34 572.66 91.34 573.02 92.99 573.38 91.34 573.74 89.7 574.1 88.06 574.46 84.77 574.81 86.41 575.17 86.41 575.53 92.99 575.89 97.91 576.25 91.34 576.61 91.34 576.97 86.41 577.32 84.77 577.68 84.77 578.04 83.13 578.4 78.2 578.76 78.2 579.12 78.2 579.48 74.91 579.83 73.27 580.19 73.27 580.55 71.63 580.91 69.98 581.27 68.34 581.63 66.7 581.98 66.7 582.34 65.06 582.7 61.77 583.06 61.77 583.42 58.48 583.78 58.48 584.14 56.84 584.49 55.2 584.85 50.27 585.21 51.91 585.57 46.98 585.93 46.98 586.29 43.7 586.65 40.41 587 40.41 587.36 38.77 587.72 42.05 588.08 42.05 588.44 46.98 588.8 50.27 589.15 48.63 589.51 45.34 589.87 43.7 590.23 43.7 590.59 45.34 590.95 43.7 591.31 43.7 591.66 46.98 592.02 48.63 592.38 51.91 592.74 53.56 593.1 53.56 593.46 53.56 593.82 51.91 594.17 50.27 594.53 46.98 594.89 53.56 595.25 61.77 595.61 68.34 595.97 71.63 596.32 69.98 596.68 71.63 597.04 73.27 597.4 73.27 597.76 73.27 598.12 73.27 598.48 73.27 598.83 76.56 599.19 76.56 599.55 76.56 599.91 78.2 600.27 78.2 600.63 78.2 600.99 79.84 601.34 83.13 601.7 83.13 602.06 81.49 602.42 84.77 602.78 84.77 603.14 84.77 603.49 88.06 603.85 89.7 604.21 89.7 604.57 92.99 604.93 92.99 605.29 92.99 605.65 94.63 606 94.63 606.36 94.63 606.72 96.27 607.08 96.27 607.44 96.27 607.8 97.91 608.16 97.91 608.51 97.91 608.87 97.91 609.23 101.2 609.59 97.91 609.95 97.91 610.31 99.56 610.66 101.2 611.02 104.49 611.38 104.49 611.74 106.13 612.1 104.49 612.46 109.42 612.82 109.42 613.17 114.34 613.53 115.99 613.89 117.63 614.25 117.63 614.61 119.27 614.97 122.56 615.33 125.84 615.68 125.84 616.04 129.13 616.4 129.13 616.76 130.77 617.12 134.06 617.48 135.7 617.83 140.63 618.19 138.99 618.55 143.92 618.91 143.92 619.27 148.85 619.63 150.49 619.99 153.77 620.34 155.42 620.7 157.06 621.06 158.7 621.42 158.7 621.78 161.99 622.14 163.63 622.5 165.28 622.85 165.28 623.21 170.2 623.57 170.2 623.93 175.13 624.29 176.78 624.65 176.78 625 180.06 625.36 180.06 625.72 181.71 626.08 184.99 626.44 184.99 626.8 184.99 627.16 184.99 627.51 184.99 627.87 186.63 628.23 188.28 628.59 188.28 628.95 189.92 629.31 189.92 629.67 189.92 630.02 191.56 630.38 193.21 630.74 193.21 631.1 194.85 631.46 196.49 631.82 198.13 632.17 198.13 632.53 198.13 632.89 198.13 633.25 199.78 633.61 199.78 633.97 199.78 634.33 199.78 634.68 199.78 635.04 199.78 635.4 199.78 635.76 199.78 636.12 199.78 636.48 201.42 636.84 201.42 637.19 201.42 637.55 201.42 637.91 203.06 638.27 203.06 638.63 203.06 638.99 203.06 639.35 204.71 639.7 204.71 640.06 204.71 640.42 206.35 640.78 206.35 641.14 206.35 641.5 206.35 641.85 206.35 642.21 206.35 642.57 206.35 642.93 206.35 643.29 206.35 643.65 206.35 644.01 206.35 644.36 207.99 644.72 207.99 645.08 207.99 645.44 207.99 645.8 207.99 646.16 207.99 646.51 207.99 646.87 209.64 647.23 209.64 647.59 209.64 647.95 209.64 648.31 211.28 648.67 211.28 649.02 211.28 649.38 211.28 649.74 211.28 650.1 212.92" stroke="#000" stroke-width="1.5" fill="none" stroke-linejoin="round" stroke-linecap="butt"/>
<g fill="#ff0000" fill-opacity="0.5" stroke="#ff0000" stroke-opacity="0.5" stroke-width="0.9">
<circle cx="471.21" cy="217.85" r="1.25"/><circle cx="471.57" cy="217.85" r="1.25"/><circle cx="471.93" cy="217.85" r="1.25"/><circle cx="472.28" cy="217.85" r="1.25"/><circle cx="472.64" cy="217.85" r="1.25"/><circle cx="473" cy="217.85" r="1.25"/><circle cx="473.36" cy="217.85" r="1.25"/><circle cx="473.72" cy="217.85" r="1.25"/><circle cx="474.08" cy="217.85" r="1.25"/><circle cx="474.43" cy="217.85" r="1.25"/><circle cx="474.79" cy="217.85" r="1.25"/><circle cx="475.15" cy="217.85" r="1.25"/><circle cx="475.51" cy="217.85" r="1.25"/><circle cx="475.87" cy="217.85" r="1.25"/><circle cx="476.23" cy="217.85" r="1.25"/><circle cx="476.59" cy="217.85" r="1.25"/><circle cx="476.94" cy="217.85" r="1.25"/><circle cx="477.3" cy="217.85" r="1.25"/><circle cx="477.66" cy="217.85" r="1.25"/><circle cx="478.02" cy="217.85" r="1.25"/><circle cx="478.38" cy="217.85" r="1.25"/><circle cx="478.74" cy="217.85" r="1.25"/><circle cx="479.1" cy="217.85" r="1.25"/><circle cx="479.45" cy="217.85" r="1.25"/><circle cx="479.81" cy="217.85" r="1.25"/><circle cx="480.17" cy="217.85" r="1.25"/><circle cx="480.53" cy="217.85" r="1.25"/><circle cx="480.89" cy="217.85" r="1.25"/><circle cx="481.25" cy="217.85" r="1.25"/><circle cx="481.6" cy="217.85" r="1.25"/><circle cx="481.96" cy="217.85" r="1.25"/><circle cx="482.32" cy="217.85" r="1.25"/><circle cx="482.68" cy="217.85" r="1.25"/><circle cx="483.04" cy="217.85" r="1.25"/><circle cx="483.4" cy="217.85" r="1.25"/><circle cx="483.76" cy="217.85" r="1.25"/><circle cx="484.11" cy="217.85" r="1.25"/><circle cx="484.47" cy="217.85" r="1.25"/><circle cx="484.83" cy="217.85" r="1.25"/><circle cx="485.19" cy="217.85" r="1.25"/><circle cx="485.55" cy="217.85" r="1.25"/><circle cx="485.91" cy="217.85" r="1.25"/><circle cx="486.27" cy="217.85" r="1.25"/><circle cx="486.62" cy="217.85" r="1.25"/><circle cx="486.98" cy="217.85" r="1.25"/><circle cx="487.34" cy="217.85" r="1.25"/><circle cx="487.7" cy="217.85" r="1.25"/><circle cx="488.06" cy="217.85" r="1.25"/><circle cx="488.42" cy="217.85" r="1.25"/><circle cx="488.77" cy="217.85" r="1.25"/><circle cx="489.13" cy="217.85" r="1.25"/><circle cx="489.49" cy="217.85" r="1.25"/><circle cx="489.85" cy="217.85" r="1.25"/><circle cx="490.21" cy="217.85" r="1.25"/><circle cx="490.57" cy="217.85" r="1.25"/><circle cx="490.93" cy="217.85" r="1.25"/><circle cx="491.28" cy="217.85" r="1.25"/><circle cx="491.64" cy="217.85" r="1.25"/><circle cx="492" cy="217.85" r="1.25"/><circle cx="492.36" cy="217.85" r="1.25"/><circle cx="492.72" cy="217.85" r="1.25"/><circle cx="493.08" cy="217.85" r="1.25"/><circle cx="493.44" cy="217.85" r="1.25"/><circle cx="493.79" cy="217.85" r="1.25"/><circle cx="494.15" cy="217.85" r="1.25"/><circle cx="494.51" cy="217.85" r="1.25"/><circle cx="494.87" cy="217.85" r="1.25"/><circle cx="495.23" cy="217.85" r="1.25"/><circle cx="495.59" cy="217.85" r="1.25"/><circle cx="495.94" cy="217.85" r="1.25"/><circle cx="496.3" cy="217.85" r="1.25"/><circle cx="496.66" cy="217.85" r="1.25"/><circle cx="497.02" cy="217.85" r="1.25"/><circle cx="497.38" cy="217.85" r="1.25"/><circle cx="497.74" cy="217.85" r="1.25"/><circle cx="498.1" cy="217.85" r="1.25"/><circle cx="498.45" cy="217.85" r="1.25"/><circle cx="498.81" cy="217.85" r="1.25"/><circle cx="499.17" cy="217.85" r="1.25"/><circle cx="499.53" cy="217.85" r="1.25"/><circle cx="499.89" cy="217.85" r="1.25"/><circle cx="500.25" cy="217.85" r="1.25"/><circle cx="500.61" cy="217.85" r="1.25"/><circle cx="500.96" cy="217.85" r="1.25"/><circle cx="501.32" cy="217.85" r="1.25"/><circle cx="501.68" cy="217.85" r="1.25"/><circle cx="502.04" cy="217.85" r="1.25"/><circle cx="502.4" cy="217.85" r="1.25"/><circle cx="502.76" cy="217.85" r="1.25"/><circle cx="503.11" cy="217.85" r="1.25"/><circle cx="503.47" cy="217.85" r="1.25"/><circle cx="503.83" cy="217.85" r="1.25"/><circle cx="504.19" cy="217.85" r="1.25"/><circle cx="504.55" cy="217.85" r="1.25"/><circle cx="504.91" cy="217.85" r="1.25"/><circle cx="505.27" cy="217.85" r="1.25"/><circle cx="505.62" cy="217.85" r="1.25"/><circle cx="505.98" cy="217.85" r="1.25"/><circle cx="506.34" cy="217.85" r="1.25"/><circle cx="506.7" cy="217.85" r="1.25"/><circle cx="507.06" cy="217.85" r="1.25"/><circle cx="507.42" cy="217.85" r="1.25"/><circle cx="507.78" cy="217.85" r="1.25"/><circle cx="508.13" cy="217.85" r="1.25"/><circle cx="508.49" cy="217.85" r="1.25"/><circle cx="508.85" cy="217.85" r="1.25"/><circle cx="509.21" cy="217.85" r="1.25"/><circle cx="509.57" cy="217.85" r="1.25"/><circle cx="509.93" cy="217.85" r="1.25"/><circle cx="510.28" cy="217.85" r="1.25"/><circle cx="510.64" cy="217.85" r="1.25"/><circle cx="511" cy="217.85" r="1.25"/><circle cx="511.36" cy="217.85" r="1.25"/><circle cx="511.72" cy="217.85" r="1.25"/><circle cx="512.08" cy="217.85" r="1.25"/><circle cx="512.44" cy="217.85" r="1.25"/><circle cx="512.79" cy="217.85" r="1.25"/><circle cx="513.15" cy="217.85" r="1.25"/><circle cx="513.51" cy="217.85" r="1.25"/><circle cx="513.87" cy="217.85" r="1.25"/><circle cx="514.23" cy="217.85" r="1.25"/><circle cx="514.59" cy="217.85" r="1.25"/><circle cx="514.95" cy="217.85" r="1.25"/><circle cx="515.3" cy="217.85" r="1.25"/><circle cx="515.66" cy="217.85" r="1.25"/><circle cx="516.02" cy="217.85" r="1.25"/><circle cx="516.38" cy="217.85" r="1.25"/><circle cx="516.74" cy="217.85" r="1.25"/><circle cx="517.1" cy="217.85" r="1.25"/><circle cx="517.45" cy="217.85" r="1.25"/><circle cx="517.81" cy="217.85" r="1.25"/><circle cx="518.17" cy="217.85" r="1.25"/><circle cx="518.53" cy="217.85" r="1.25"/><circle cx="518.89" cy="217.85" r="1.25"/><circle cx="519.25" cy="217.85" r="1.25"/><circle cx="519.61" cy="217.85" r="1.25"/><circle cx="519.96" cy="217.85" r="1.25"/><circle cx="520.32" cy="217.85" r="1.25"/><circle cx="520.68" cy="217.85" r="1.25"/><circle cx="521.04" cy="217.85" r="1.25"/><circle cx="521.4" cy="217.85" r="1.25"/><circle cx="521.76" cy="217.85" r="1.25"/><circle cx="522.12" cy="217.85" r="1.25"/><circle cx="522.47" cy="217.85" r="1.25"/><circle cx="522.83" cy="217.85" r="1.25"/><circle cx="523.19" cy="217.85" r="1.25"/><circle cx="523.55" cy="217.85" r="1.25"/><circle cx="523.91" cy="217.85" r="1.25"/><circle cx="524.27" cy="217.85" r="1.25"/><circle cx="524.62" cy="217.85" r="1.25"/><circle cx="524.98" cy="217.85" r="1.25"/><circle cx="525.34" cy="217.85" r="1.25"/><circle cx="525.7" cy="217.85" r="1.25"/><circle cx="526.06" cy="217.85" r="1.25"/><circle cx="526.42" cy="217.85" r="1.25"/><circle cx="526.78" cy="217.85" r="1.25"/><circle cx="527.13" cy="217.85" r="1.25"/><circle cx="527.49" cy="217.85" r="1.25"/><circle cx="527.85" cy="217.85" r="1.25"/><circle cx="528.21" cy="217.85" r="1.25"/><circle cx="528.57" cy="217.85" r="1.25"/><circle cx="528.93" cy="217.85" r="1.25"/><circle cx="529.29" cy="217.85" r="1.25"/><circle cx="529.64" cy="217.85" r="1.25"/><circle cx="530" cy="217.85" r="1.25"/><circle cx="530.36" cy="217.85" r="1.25"/><circle cx="530.72" cy="217.85" r="1.25"/><circle cx="531.08" cy="217.85" r="1.25"/><circle cx="531.44" cy="217.85" r="1.25"/><circle cx="531.79" cy="217.85" r="1.25"/><circle cx="532.15" cy="217.85" r="1.25"/><circle cx="532.51" cy="217.85" r="1.25"/><circle cx="532.87" cy="217.85" r="1.25"/><circle cx="533.23" cy="217.85" r="1.25"/><circle cx="533.59" cy="217.85" r="1.25"/><circle cx="533.95" cy="217.85" r="1.25"/><circle cx="534.3" cy="217.85" r="1.25"/><circle cx="534.66" cy="217.85" r="1.25"/><circle cx="535.02" cy="217.85" r="1.25"/><circle cx="535.38" cy="217.85" r="1.25"/><circle cx="535.74" cy="217.85" r="1.25"/><circle cx="536.1" cy="217.85" r="1.25"/><circle cx="536.46" cy="217.85" r="1.25"/><circle cx="536.81" cy="217.85" r="1.25"/><circle cx="537.17" cy="217.85" r="1.25"/><circle cx="537.53" cy="217.85" r="1.25"/><circle cx="537.89" cy="217.85" r="1.25"/><circle cx="538.25" cy="217.85" r="1.25"/><circle cx="538.61" cy="217.85" r="1.25"/><circle cx="538.96" cy="217.85" r="1.25"/><circle cx="539.32" cy="217.85" r="1.25"/><circle cx="539.68" cy="217.85" r="1.25"/><circle cx="540.04" cy="217.85" r="1.25"/><circle cx="540.4" cy="217.85" r="1.25"/><circle cx="540.76" cy="217.85" r="1.25"/><circle cx="541.12" cy="217.85" r="1.25"/><circle cx="541.47" cy="217.85" r="1.25"/><circle cx="541.83" cy="217.85" r="1.25"/><circle cx="542.19" cy="217.85" r="1.25"/><circle cx="542.55" cy="217.85" r="1.25"/><circle cx="542.91" cy="217.85" r="1.25"/><circle cx="543.27" cy="217.85" r="1.25"/><circle cx="543.63" cy="217.85" r="1.25"/><circle cx="543.98" cy="217.85" r="1.25"/><circle cx="544.34" cy="217.85" r="1.25"/><circle cx="544.7" cy="217.85" r="1.25"/><circle cx="545.06" cy="217.85" r="1.25"/><circle cx="545.42" cy="217.85" r="1.25"/><circle cx="545.78" cy="217.85" r="1.25"/><circle cx="546.13" cy="217.85" r="1.25"/><circle cx="546.49" cy="217.85" r="1.25"/><circle cx="546.85" cy="217.85" r="1.25"/><circle cx="547.21" cy="217.85" r="1.25"/><circle cx="547.57" cy="217.85" r="1.25"/><circle cx="547.93" cy="217.85" r="1.25"/><circle cx="548.29" cy="217.85" r="1.25"/><circle cx="548.64" cy="217.85" r="1.25"/><circle cx="549" cy="217.85" r="1.25"/><circle cx="549.36" cy="217.85" r="1.25"/><circle cx="549.72" cy="217.85" r="1.25"/><circle cx="550.08" cy="217.85" r="1.25"/><circle cx="550.44" cy="217.85" r="1.25"/><circle cx="550.8" cy="217.85" r="1.25"/><circle cx="551.15" cy="217.85" r="1.25"/><circle cx="551.51" cy="217.85" r="1.25"/><circle cx="551.87" cy="217.85" r="1.25"/><circle cx="552.23" cy="217.85" r="1.25"/><circle cx="552.59" cy="217.85" r="1.25"/><circle cx="552.95" cy="217.85" r="1.25"/><circle cx="553.3" cy="217.85" r="1.25"/><circle cx="553.66" cy="217.85" r="1.25"/><circle cx="554.02" cy="217.85" r="1.25"/><circle cx="554.38" cy="217.85" r="1.25"/><circle cx="554.74" cy="217.85" r="1.25"/><circle cx="555.1" cy="217.85" r="1.25"/><circle cx="555.46" cy="217.85" r="1.25"/><circle cx="555.81" cy="217.85" r="1.25"/><circle cx="556.17" cy="217.85" r="1.25"/><circle cx="556.53" cy="217.85" r="1.25"/><circle cx="556.89" cy="217.85" r="1.25"/><circle cx="557.25" cy="217.85" r="1.25"/><circle cx="557.61" cy="217.85" r="1.25"/><circle cx="557.97" cy="217.85" r="1.25"/><circle cx="558.32" cy="217.85" r="1.25"/><circle cx="558.68" cy="217.85" r="1.25"/><circle cx="559.04" cy="217.85" r="1.25"/><circle cx="559.4" cy="217.85" r="1.25"/><circle cx="559.76" cy="217.85" r="1.25"/><circle cx="560.12" cy="217.85" r="1.25"/><circle cx="560.47" cy="217.85" r="1.25"/><circle cx="560.83" cy="217.85" r="1.25"/><circle cx="561.19" cy="217.85" r="1.25"/><circle cx="561.55" cy="217.85" r="1.25"/><circle cx="561.91" cy="217.85" r="1.25"/><circle cx="562.27" cy="217.85" r="1.25"/><circle cx="562.63" cy="217.85" r="1.25"/><circle cx="562.98" cy="217.85" r="1.25"/><circle cx="563.34" cy="217.85" r="1.25"/><circle cx="563.7" cy="217.85" r="1.25"/><circle cx="564.06" cy="217.85" r="1.25"/><circle cx="564.42" cy="217.85" r="1.25"/><circle cx="564.78" cy="217.85" r="1.25"/><circle cx="565.14" cy="217.85" r="1.25"/><circle cx="565.49" cy="217.85" r="1.25"/><circle cx="565.85" cy="217.85" r="1.25"/><circle cx="566.21" cy="217.85" r="1.25"/><circle cx="566.57" cy="217.85" r="1.25"/><circle cx="566.93" cy="217.85" r="1.25"/><circle cx="567.29" cy="217.85" r="1.25"/><circle cx="567.64" cy="217.85" r="1.25"/><circle cx="568" cy="217.85" r="1.25"/><circle cx="568.36" cy="217.85" r="1.25"/><circle cx="568.72" cy="217.85" r="1.25"/><circle cx="569.08" cy="217.85" r="1.25"/><circle cx="569.44" cy="217.85" r="1.25"/><circle cx="569.8" cy="217.85" r="1.25"/><circle cx="570.15" cy="217.85" r="1.25"/><circle cx="570.51" cy="217.85" r="1.25"/><circle cx="570.87" cy="217.85" r="1.25"/><circle cx="571.23" cy="217.85" r="1.25"/><circle cx="571.59" cy="217.85" r="1.25"/><circle cx="571.95" cy="217.85" r="1.25"/><circle cx="572.31" cy="217.85" r="1.25"/><circle cx="572.66" cy="217.85" r="1.25"/><circle cx="573.02" cy="217.85" r="1.25"/><circle cx="573.38" cy="217.85" r="1.25"/><circle cx="573.74" cy="217.85" r="1.25"/><circle cx="574.1" cy="217.85" r="1.25"/><circle cx="574.46" cy="217.85" r="1.25"/><circle cx="574.81" cy="217.85" r="1.25"/><circle cx="575.17" cy="217.85" r="1.25"/><circle cx="575.53" cy="217.85" r="1.25"/><circle cx="575.89" cy="217.85" r="1.25"/><circle cx="576.25" cy="217.85" r="1.25"/><circle cx="576.61" cy="35.3" r="1.25"/><circle cx="576.97" cy="35.3" r="1.25"/><circle cx="577.32" cy="35.3" r="1.25"/><circle cx="577.68" cy="35.3" r="1.25"/><circle cx="578.04" cy="35.3" r="1.25"/><circle cx="578.4" cy="35.3" r="1.25"/><circle cx="578.76" cy="35.3" r="1.25"/><circle cx="579.12" cy="35.3" r="1.25"/><circle cx="579.48" cy="35.3" r="1.25"/><circle cx="579.83" cy="35.3" r="1.25"/><circle cx="580.19" cy="35.3" r="1.25"/><circle cx="580.55" cy="35.3" r="1.25"/><circle cx="580.91" cy="35.3" r="1.25"/><circle cx="581.27" cy="35.3" r="1.25"/><circle cx="581.63" cy="35.3" r="1.25"/><circle cx="581.98" cy="35.3" r="1.25"/><circle cx="582.34" cy="35.3" r="1.25"/><circle cx="582.7" cy="35.3" r="1.25"/><circle cx="583.06" cy="35.3" r="1.25"/><circle cx="583.42" cy="35.3" r="1.25"/><circle cx="583.78" cy="35.3" r="1.25"/><circle cx="584.14" cy="35.3" r="1.25"/><circle cx="584.49" cy="35.3" r="1.25"/><circle cx="584.85" cy="35.3" r="1.25"/><circle cx="585.21" cy="35.3" r="1.25"/><circle cx="585.57" cy="35.3" r="1.25"/><circle cx="585.93" cy="35.3" r="1.25"/><circle cx="586.29" cy="35.3" r="1.25"/><circle cx="586.65" cy="35.3" r="1.25"/><circle cx="587" cy="35.3" r="1.25"/><circle cx="587.36" cy="35.3" r="1.25"/><circle cx="587.72" cy="35.3" r="1.25"/><circle cx="588.08" cy="35.3" r="1.25"/><circle cx="588.44" cy="35.3" r="1.25"/><circle cx="588.8" cy="35.3" r="1.25"/><circle cx="589.15" cy="35.3" r="1.25"/><circle cx="589.51" cy="35.3" r="1.25"/><circle cx="589.87" cy="35.3" r="1.25"/><circle cx="590.23" cy="35.3" r="1.25"/><circle cx="590.59" cy="35.3" r="1.25"/><circle cx="590.95" cy="35.3" r="1.25"/><circle cx="591.31" cy="35.3" r="1.25"/><circle cx="591.66" cy="35.3" r="1.25"/><circle cx="592.02" cy="35.3" r="1.25"/><circle cx="592.38" cy="35.3" r="1.25"/><circle cx="592.74" cy="35.3" r="1.25"/><circle cx="593.1" cy="35.3" r="1.25"/><circle cx="593.46" cy="35.3" r="1.25"/><circle cx="593.82" cy="35.3" r="1.25"/><circle cx="594.17" cy="35.3" r="1.25"/><circle cx="594.53" cy="35.3" r="1.25"/><circle cx="594.89" cy="35.3" r="1.25"/><circle cx="595.25" cy="35.3" r="1.25"/><circle cx="595.61" cy="35.3" r="1.25"/><circle cx="595.97" cy="35.3" r="1.25"/><circle cx="596.32" cy="35.3" r="1.25"/><circle cx="596.68" cy="35.3" r="1.25"/><circle cx="597.04" cy="35.3" r="1.25"/><circle cx="597.4" cy="35.3" r="1.25"/><circle cx="597.76" cy="35.3" r="1.25"/><circle cx="598.12" cy="35.3" r="1.25"/><circle cx="598.48" cy="35.3" r="1.25"/><circle cx="598.83" cy="35.3" r="1.25"/><circle cx="599.19" cy="35.3" r="1.25"/><circle cx="599.55" cy="35.3" r="1.25"/><circle cx="599.91" cy="35.3" r="1.25"/><circle cx="600.27" cy="35.3" r="1.25"/><circle cx="600.63" cy="35.3" r="1.25"/><circle cx="600.99" cy="35.3" r="1.25"/><circle cx="601.34" cy="35.3" r="1.25"/><circle cx="601.7" cy="35.3" r="1.25"/><circle cx="602.06" cy="35.3" r="1.25"/><circle cx="602.42" cy="35.3" r="1.25"/><circle cx="602.78" cy="35.3" r="1.25"/><circle cx="603.14" cy="35.3" r="1.25"/><circle cx="603.49" cy="35.3" r="1.25"/><circle cx="603.85" cy="35.3" r="1.25"/><circle cx="604.21" cy="35.3" r="1.25"/><circle cx="604.57" cy="35.3" r="1.25"/><circle cx="604.93" cy="35.3" r="1.25"/><circle cx="605.29" cy="35.3" r="1.25"/><circle cx="605.65" cy="217.85" r="1.25"/><circle cx="606" cy="217.85" r="1.25"/><circle cx="606.36" cy="217.85" r="1.25"/><circle cx="606.72" cy="217.85" r="1.25"/><circle cx="607.08" cy="217.85" r="1.25"/><circle cx="607.44" cy="217.85" r="1.25"/><circle cx="607.8" cy="217.85" r="1.25"/><circle cx="608.16" cy="217.85" r="1.25"/><circle cx="608.51" cy="217.85" r="1.25"/><circle cx="608.87" cy="217.85" r="1.25"/><circle cx="609.23" cy="217.85" r="1.25"/><circle cx="609.59" cy="217.85" r="1.25"/><circle cx="609.95" cy="217.85" r="1.25"/><circle cx="610.31" cy="217.85" r="1.25"/><circle cx="610.66" cy="217.85" r="1.25"/><circle cx="611.02" cy="217.85" r="1.25"/><circle cx="611.38" cy="217.85" r="1.25"/><circle cx="611.74" cy="217.85" r="1.25"/><circle cx="612.1" cy="217.85" r="1.25"/><circle cx="612.46" cy="217.85" r="1.25"/><circle cx="612.82" cy="217.85" r="1.25"/><circle cx="613.17" cy="217.85" r="1.25"/><circle cx="613.53" cy="217.85" r="1.25"/><circle cx="613.89" cy="217.85" r="1.25"/><circle cx="614.25" cy="217.85" r="1.25"/><circle cx="614.61" cy="217.85" r="1.25"/><circle cx="614.97" cy="217.85" r="1.25"/><circle cx="615.33" cy="217.85" r="1.25"/><circle cx="615.68" cy="217.85" r="1.25"/><circle cx="616.04" cy="217.85" r="1.25"/><circle cx="616.4" cy="217.85" r="1.25"/><circle cx="616.76" cy="217.85" r="1.25"/><circle cx="617.12" cy="217.85" r="1.25"/><circle cx="617.48" cy="217.85" r="1.25"/><circle cx="617.83" cy="217.85" r="1.25"/><circle cx="618.19" cy="217.85" r="1.25"/><circle cx="618.55" cy="217.85" r="1.25"/><circle cx="618.91" cy="217.85" r="1.25"/><circle cx="619.27" cy="217.85" r="1.25"/><circle cx="619.63" cy="217.85" r="1.25"/><circle cx="619.99" cy="217.85" r="1.25"/><circle cx="620.34" cy="217.85" r="1.25"/><circle cx="620.7" cy="217.85" r="1.25"/><circle cx="621.06" cy="217.85" r="1.25"/><circle cx="621.42" cy="217.85" r="1.25"/><circle cx="621.78" cy="217.85" r="1.25"/><circle cx="622.14" cy="217.85" r="1.25"/><circle cx="622.5" cy="217.85" r="1.25"/><circle cx="622.85" cy="217.85" r="1.25"/><circle cx="623.21" cy="217.85" r="1.25"/><circle cx="623.57" cy="217.85" r="1.25"/><circle cx="623.93" cy="217.85" r="1.25"/><circle cx="624.29" cy="217.85" r="1.25"/><circle cx="624.65" cy="217.85" r="1.25"/><circle cx="625" cy="217.85" r="1.25"/><circle cx="625.36" cy="217.85" r="1.25"/><circle cx="625.72" cy="217.85" r="1.25"/><circle cx="626.08" cy="217.85" r="1.25"/><circle cx="626.44" cy="217.85" r="1.25"/><circle cx="626.8" cy="217.85" r="1.25"/><circle cx="627.16" cy="217.85" r="1.25"/><circle cx="627.51" cy="217.85" r="1.25"/><circle cx="627.87" cy="217.85" r="1.25"/><circle cx="628.23" cy="217.85" r="1.25"/><circle cx="628.59" cy="217.85" r="1.25"/><circle cx="628.95" cy="217.85" r="1.25"/><circle cx="629.31" cy="217.85" r="1.25"/><circle cx="629.67" cy="217.85" r="1.25"/><circle cx="630.02" cy="217.85" r="1.25"/><circle cx="630.38" cy="217.85" r="1.25"/><circle cx="630.74" cy="217.85" r="1.25"/><circle cx="631.1" cy="217.85" r="1.25"/><circle cx="631.46" cy="217.85" r="1.25"/><circle cx="631.82" cy="217.85" r="1.25"/><circle cx="632.17" cy="217.85" r="1.25"/><circle cx="632.53" cy="217.85" r="1.25"/><circle cx="632.89" cy="217.85" r="1.25"/><circle cx="633.25" cy="217.85" r="1.25"/><circle cx="633.61" cy="217.85" r="1.25"/><circle cx="633.97" cy="217.85" r="1.25"/><circle cx="634.33" cy="217.85" r="1.25"/><circle cx="634.68" cy="217.85" r="1.25"/><circle cx="635.04" cy="217.85" r="1.25"/><circle cx="635.4" cy="217.85" r="1.25"/><circle cx="635.76" cy="217.85" r="1.25"/><circle cx="636.12" cy="217.85" r="1.25"/><circle cx="636.48" cy="217.85" r="1.25"/><circle cx="636.84" cy="217.85" r="1.25"/><circle cx="637.19" cy="217.85" r="1.25"/><circle cx="637.55" cy="217.85" r="1.25"/><circle cx="637.91" cy="217.85" r="1.25"/><circle cx="638.27" cy="217.85" r="1.25"/><circle cx="638.63" cy="217.85" r="1.25"/><circle cx="638.99" cy="217.85" r="1.25"/><circle cx="639.35" cy="217.85" r="1.25"/><circle cx="639.7" cy="217.85" r="1.25"/><circle cx="640.06" cy="217.85" r="1.25"/><circle cx="640.42" cy="217.85" r="1.25"/><circle cx="640.78" cy="217.85" r="1.25"/><circle cx="641.14" cy="217.85" r="1.25"/><circle cx="641.5" cy="217.85" r="1.25"/><circle cx="641.85" cy="217.85" r="1.25"/><circle cx="642.21" cy="217.85" r="1.25"/><circle cx="642.57" cy="217.85" r="1.25"/><circle cx="642.93" cy="217.85" r="1.25"/><circle cx="643.29" cy="217.85" r="1.25"/><circle cx="643.65" cy="217.85" r="1.25"/><circle cx="644.01" cy="217.85" r="1.25"/><circle cx="644.36" cy="217.85" r="1.25"/><circle cx="644.72" cy="217.85" r="1.25"/><circle cx="645.08" cy="217.85" r="1.25"/><circle cx="645.44" cy="217.85" r="1.25"/><circle cx="645.8" cy="217.85" r="1.25"/><circle cx="646.16" cy="217.85" r="1.25"/><circle cx="646.51" cy="217.85" r="1.25"/><circle cx="646.87" cy="217.85" r="1.25"/><circle cx="647.23" cy="217.85" r="1.25"/><circle cx="647.59" cy="217.85" r="1.25"/><circle cx="647.95" cy="217.85" r="1.25"/><circle cx="648.31" cy="217.85" r="1.25"/><circle cx="648.67" cy="217.85" r="1.25"/><circle cx="649.02" cy="217.85" r="1.25"/><circle cx="649.38" cy="217.85" r="1.25"/><circle cx="649.74" cy="216.75" r="1.25"/><circle cx="650.1" cy="215.11" r="1.25"/>
</g>
</g>
<g>
<rect x="53" y="235" width="196.5" height="201" fill="#ebebeb"/>
<path d="M53 404.15h196.5M53 358.45h196.5M53 312.75h196.5M53 267.05h196.5M79.58 235v201M115.42 235v201M151.28 235v201M187.12 235v201M222.97 235v201" stroke="#fff" stroke-width="0.8" fill="none"/>
<path d="M53 427h196.5M53 381.3h196.5M53 335.6h196.5M53 289.9h196.5M53 244.2h196.5M61.65 235v201M97.5 235v201M133.35 235v201M169.2 235v201M205.05 235v201M240.9 235v201" stroke="#fff" stroke-width="1.55" fill="none"/>
<path d="M62.01 427 L66.78 427 L66.78 244.2 L95.46 244.2 L95.46 427 L240.9 427" stroke="#00ff00" stroke-width="1.45" fill="none" stroke-linejoin="miter"/>
<path d="M62.01 336.51 62.37 338.16 62.73 338.16 63.08 336.51 63.44 336.51 63.8 333.22 64.16 328.29 64.52 325 64.88 321.71 65.23 321.71 65.59 320.06 65.95 320.06 66.31 318.42 66.67 318.42 67.03 318.42 67.39 313.48 67.74 311.84 68.1 311.84 68.46 303.61 68.82 298.67 69.18 292.09 69.54 285.51 69.9 280.58 70.25 274 70.61 272.35 70.97 274 71.33 272.35 71.69 269.06 72.05 270.71 72.41 270.71 72.76 269.06 73.12 265.77 73.48 265.77 73.84 262.48 74.2 264.13 74.56 259.19 74.91 259.19 75.27 257.54 75.63 257.54 75.99 257.54 76.35 255.9 76.71 255.9 77.07 254.25 77.42 252.61 77.78 250.96 78.14 250.96 78.5 250.96 78.86 250.96 79.22 250.96 79.58 249.32 79.93 250.96 80.29 250.96 80.65 250.96 81.01 252.61 81.37 252.61 81.73 257.54 82.08 254.25 82.44 254.25 82.8 257.54 83.16 254.25 83.52 255.9 83.88 255.9 84.24 259.19 84.59 257.54 84.95 260.83 85.31 262.48 85.67 260.83 86.03 260.83 86.39 260.83 86.75 260.83 87.1 264.13 87.46 259.19 87.82 264.13 88.18 265.77 88.54 267.42 88.9 272.35 89.25 274 89.61 275.64 89.97 277.29 90.33 278.93 90.69 282.22 91.05 275.64 91.41 272.35 91.76 270.71 92.12 265.77 92.48 269.06 92.84 269.06 93.2 270.71 93.56 270.71 93.91 272.35 94.27 275.64 94.63 274 94.99 277.29 95.35 277.29 95.71 280.58 96.07 282.22 96.42 280.58 96.78 283.87 97.14 282.22 97.5 282.22 97.86 282.22 98.22 283.87 98.58 283.87 98.93 283.87 99.29 287.16 99.65 288.8 100.01 288.8 100.37 292.09 100.73 295.38 101.08 297.03 101.44 300.32 101.8 301.96 102.16 303.61 102.52 303.61 102.88 306.9 103.24 308.55 103.59 306.9 103.95 308.55 104.31 311.84 104.67 316.77 105.03 323.35 105.39 333.22 105.75 343.09 106.1 349.68 106.46 352.97 106.82 354.61 107.18 354.61 107.54 356.26 107.9 357.9 108.25 357.9 108.61 356.26 108.97 359.55 109.33 359.55 109.69 359.55 110.05 362.84 110.41 361.19 110.76 364.48 111.12 367.77 111.48 367.77 111.84 367.77 112.2 372.71 112.56 372.71 112.92 374.35 113.27 377.64 113.63 374.35 113.99 376 114.35 376 114.71 374.35 115.07 374.35 115.42 372.71 115.78 376 116.14 374.35 116.5 376 116.86 377.64 117.22 379.29 117.58 379.29 117.93 382.58 118.29 382.58 118.65 382.58 119.01 382.58 119.37 382.58 119.73 384.22 120.09 384.22 120.44 387.52 120.8 385.87 121.16 389.16 121.52 385.87 121.88 387.52 122.24 389.16 122.59 389.16 122.95 389.16 123.31 390.81 123.67 390.81 124.03 394.1 124.39 395.74 124.75 395.74 125.1 395.74 125.46 397.39 125.82 397.39 126.18 397.39 126.54 399.03 126.9 399.03 127.26 402.32 127.61 405.61 127.97 407.26 128.33 408.9 128.69 408.9 129.05 412.19 129.41 412.19 129.76 412.19 130.12 412.19 130.48 412.19 130.84 412.19 131.2 413.84 131.56 412.19 131.92 412.19 132.27 413.84 132.63 413.84 132.99 413.84 133.35 413.84 133.71 413.84 134.07 413.84 134.43 413.84 134.78 413.84 135.14 413.84 135.5 413.84 135.86 413.84 136.22 413.84 136.58 415.48 136.94 415.48 137.29 415.48 137.65 415.48 138.01 415.48 138.37 415.48 138.73 417.13 139.09 417.13 139.44 417.13 139.8 417.13 140.16 417.13 140.52 417.13 140.88 417.13 141.24 417.13 141.6 417.13 141.95 417.13 142.31 417.13 142.67 417.13 143.03 417.13 143.39 417.13 143.75 417.13 144.1 417.13 144.46 417.13 144.82 417.13 145.18 418.77 145.54 417.13 145.9 417.13 146.26 417.13 146.61 418.77 146.97 418.77 147.33 418.77 147.69 420.42 148.05 420.42 148.41 420.42 148.77 420.42 149.12 422.06 149.48 422.06 149.84 422.06 150.2 422.06 150.56 423.71 150.92 423.71 151.28 423.71 151.63 423.71 151.99 423.71 152.35 423.71 152.71 423.71 153.07 423.71 153.43 423.71 153.78 423.71 154.14 423.71 154.5 423.71 154.86 423.71 155.22 423.71 155.58 423.71 155.94 423.71 156.29 423.71 156.65 423.71 157.01 423.71 157.37 423.71 157.73 423.71 158.09 423.71 158.44 423.71 158.8 425.35 159.16 425.35 159.52 425.35 159.88 425.35 160.24 425.35 160.6 425.35 160.95 425.35 161.31 427 161.67 427 162.03 427 162.39 427 162.75 427 163.11 427 163.46 427 163.82 427 164.18 427 164.54 427 164.9 427 165.26 427 165.61 427 165.97 427 166.33 427 166.69 427 167.05 427 167.41 427 167.77 427 168.12 427 168.48 427 168.84 427 169.2 427 169.56 427 169.92 427 170.28 427 170.63 427 170.99 427 171.35 427 171.71 427 172.07 427 172.43 427 172.78 427 173.14 427 173.5 427 173.86 427 174.22 427 174.58 427 174.94 427 175.29 427 175.65 427 176.01 427 176.37 427 176.73 427 177.09 427 177.45 427 177.8 427 178.16 427 178.52 427 178.88 427 179.24 427 179.6 427 179.95 427 180.31 427 180.67 427 181.03 427 181.39 427 181.75 427 182.11 427 182.46 427 182.82 427 183.18 427 183.54 427 183.9 427 184.26 427 184.62 427 184.97 427 185.33 427 185.69 427 186.05 427 186.41 427 186.77 427 187.12 427 187.48 427 187.84 427 188.2 427 188.56 427 188.92 427 189.28 427 189.63 427 189.99 427 190.35 427 190.71 427 191.07 427 191.43 427 191.79 427 192.14 427 192.5 427 192.86 427 193.22 427 193.58 427 193.94 427 194.29 427 194.65 427 195.01 427 195.37 427 195.73 427 196.09 427 196.45 427 196.8 427 197.16 427 197.52 427 197.88 427 198.24 427 198.6 427 198.96 427 199.31 427 199.67 427 200.03 427 200.39 427 200.75 427 201.11 427 201.47 427 201.82 427 202.18 427 202.54 427 202.9 427 203.26 427 203.62 427 203.97 427 204.33 427 204.69 427 205.05 427 205.41 427 205.77 427 206.13 427 206.48 427 206.84 427 207.2 427 207.56 427 207.92 427 208.28 427 208.63 427 208.99 427 209.35 427 209.71 427 210.07 427 210.43 427 210.79 427 211.14 427 211.5 427 211.86 427 212.22 427 212.58 427 212.94 427 213.3 427 213.65 427 214.01 427 214.37 427 214.73 427 215.09 427 215.45 427 215.81 427 216.16 427 216.52 427 216.88 427 217.24 427 217.6 427 217.96 427 218.31 427 218.67 427 219.03 427 219.39 427 219.75 427 220.11 427 220.47 427 220.82 427 221.18 427 221.54 427 221.9 427 222.26 427 222.62 427 222.97 427 223.33 427 223.69 427 224.05 427 224.41 427 224.77 427 225.13 427 225.48 427 225.84 427 226.2 427 226.56 427 226.92 427 227.28 427 227.64 427 227.99 427 228.35 427 228.71 427 229.07 427 229.43 427 229.79 427 230.15 427 230.5 427 230.86 427 231.22 427 231.58 427 231.94 427 232.3 427 232.65 427 233.01 427 233.37 427 233.73 427 234.09 427 234.45 427 234.81 427 235.16 427 235.52 427 235.88 427 236.24 427 236.6 427 236.96 427 237.31 427 237.67 427 238.03 427 238.39 427 238.75 427 239.11 427 239.47 427 239.82 427 240.18 427 240.54 427 240.9 427" stroke="#000" stroke-width="1.5" fill="none" stroke-linejoin="round" stroke-linecap="butt"/>
<g fill="#ff0000" fill-opacity="0.5" stroke="#ff0000" stroke-opacity="0.5" stroke-width="0.9">
<circle cx="62.01" cy="417.81" r="1.25"/><circle cx="62.37" cy="416.31" r="1.25"/><circle cx="62.73" cy="414.8" r="1.25"/><circle cx="63.08" cy="413.29" r="1.25"/><circle cx="63.44" cy="410.96" r="1.25"/><circle cx="63.8" cy="408.63" r="1.25"/><circle cx="64.16" cy="406.3" r="1.25"/><circle cx="64.52" cy="403.97" r="1.25"/><circle cx="64.88" cy="399.29" r="1.25"/><circle cx="65.23" cy="394.61" r="1.25"/><circle cx="65.59" cy="390.07" r="1.25"/><circle cx="65.95" cy="385.69" r="1.25"/><circle cx="66.31" cy="381.3" r="1.25"/><circle cx="66.67" cy="373.99" r="1.25"/><circle cx="67.03" cy="366.68" r="1.25"/><circle cx="67.39" cy="355.71" r="1.25"/><circle cx="67.74" cy="348.4" r="1.25"/><circle cx="68.1" cy="341.08" r="1.25"/><circle cx="68.46" cy="332.51" r="1.25"/><circle cx="68.82" cy="322.19" r="1.25"/><circle cx="69.18" cy="310.01" r="1.25"/><circle cx="69.54" cy="302.98" r="1.25"/><circle cx="69.9" cy="292.34" r="1.25"/><circle cx="70.25" cy="281.37" r="1.25"/><circle cx="70.61" cy="271.62" r="1.25"/><circle cx="70.97" cy="265.53" r="1.25"/><circle cx="71.33" cy="259.81" r="1.25"/><circle cx="71.69" cy="255.03" r="1.25"/><circle cx="72.05" cy="251.51" r="1.25"/><circle cx="72.41" cy="249.68" r="1.25"/><circle cx="72.76" cy="247.86" r="1.25"/><circle cx="73.12" cy="246.64" r="1.25"/><circle cx="73.48" cy="245.42" r="1.25"/><circle cx="73.84" cy="244.2" r="1.25"/><circle cx="74.2" cy="244.2" r="1.25"/><circle cx="74.56" cy="244.2" r="1.25"/><circle cx="74.91" cy="244.2" r="1.25"/><circle cx="75.27" cy="244.2" r="1.25"/><circle cx="75.63" cy="244.2" r="1.25"/><circle cx="75.99" cy="244.2" r="1.25"/><circle cx="76.35" cy="244.2" r="1.25"/><circle cx="76.71" cy="244.2" r="1.25"/><circle cx="77.07" cy="244.2" r="1.25"/><circle cx="77.42" cy="244.2" r="1.25"/><circle cx="77.78" cy="244.2" r="1.25"/><circle cx="78.14" cy="244.2" r="1.25"/><circle cx="78.5" cy="244.2" r="1.25"/><circle cx="78.86" cy="244.2" r="1.25"/><circle cx="79.22" cy="244.2" r="1.25"/><circle cx="79.58" cy="244.2" r="1.25"/><circle cx="79.93" cy="244.2" r="1.25"/><circle cx="80.29" cy="244.2" r="1.25"/><circle cx="80.65" cy="244.2" r="1.25"/><circle cx="81.01" cy="244.2" r="1.25"/><circle cx="81.37" cy="244.2" r="1.25"/><circle cx="81.73" cy="244.2" r="1.25"/><circle cx="82.08" cy="244.2" r="1.25"/><circle cx="82.44" cy="244.2" r="1.25"/><circle cx="82.8" cy="244.2" r="1.25"/><circle cx="83.16" cy="244.2" r="1.25"/><circle cx="83.52" cy="244.2" r="1.25"/><circle cx="83.88" cy="244.2" r="1.25"/><circle cx="84.24" cy="244.2" r="1.25"/><circle cx="84.59" cy="244.2" r="1.25"/><circle cx="84.95" cy="244.2" r="1.25"/><circle cx="85.31" cy="244.2" r="1.25"/><circle cx="85.67" cy="244.2" r="1.25"/><circle cx="86.03" cy="244.2" r="1.25"/><circle cx="86.39" cy="244.2" r="1.25"/><circle cx="86.75" cy="244.2" r="1.25"/><circle cx="87.1" cy="244.2" r="1.25"/><circle cx="87.46" cy="244.2" r="1.25"/><circle cx="87.82" cy="244.2" r="1.25"/><circle cx="88.18" cy="244.2" r="1.25"/><circle cx="88.54" cy="244.2" r="1.25"/><circle cx="88.9" cy="244.2" r="1.25"/><circle cx="89.25" cy="244.2" r="1.25"/><circle cx="89.61" cy="244.2" r="1.25"/><circle cx="89.97" cy="244.2" r="1.25"/><circle cx="90.33" cy="244.2" r="1.25"/><circle cx="90.69" cy="244.2" r="1.25"/><circle cx="91.05" cy="245.28" r="1.25"/><circle cx="91.41" cy="247.25" r="1.25"/><circle cx="91.76" cy="251.31" r="1.25"/><circle cx="92.12" cy="256.39" r="1.25"/><circle cx="92.48" cy="262.76" r="1.25"/><circle cx="92.84" cy="269.79" r="1.25"/><circle cx="93.2" cy="277.92" r="1.25"/><circle cx="93.56" cy="288.68" r="1.25"/><circle cx="93.91" cy="315.49" r="1.25"/><circle cx="94.27" cy="357.54" r="1.25"/><circle cx="94.63" cy="375.82" r="1.25"/><circle cx="94.99" cy="384.96" r="1.25"/><circle cx="95.35" cy="388.61" r="1.25"/><circle cx="95.71" cy="392.27" r="1.25"/><circle cx="96.07" cy="398.48" r="1.25"/><circle cx="96.42" cy="403.55" r="1.25"/><circle cx="96.78" cy="408.48" r="1.25"/><circle cx="97.14" cy="412.01" r="1.25"/><circle cx="97.5" cy="414.2" r="1.25"/><circle cx="97.86" cy="418.23" r="1.25"/><circle cx="98.22" cy="419.41" r="1.25"/><circle cx="98.58" cy="420.6" r="1.25"/><circle cx="98.93" cy="421.79" r="1.25"/><circle cx="99.29" cy="422.98" r="1.25"/><circle cx="99.65" cy="423.53" r="1.25"/><circle cx="100.01" cy="424.08" r="1.25"/><circle cx="100.37" cy="424.62" r="1.25"/><circle cx="100.73" cy="425.17" r="1.25"/><circle cx="101.08" cy="425.63" r="1.25"/><circle cx="101.44" cy="426.09" r="1.25"/><circle cx="101.8" cy="426.54" r="1.25"/><circle cx="102.16" cy="427" r="1.25"/><circle cx="102.52" cy="427" r="1.25"/><circle cx="102.88" cy="427" r="1.25"/><circle cx="103.24" cy="427" r="1.25"/><circle cx="103.59" cy="427" r="1.25"/><circle cx="103.95" cy="427" r="1.25"/><circle cx="104.31" cy="427" r="1.25"/><circle cx="104.67" cy="427" r="1.25"/><circle cx="105.03" cy="427" r="1.25"/><circle cx="105.39" cy="427" r="1.25"/><circle cx="105.75" cy="427" r="1.25"/><circle cx="106.1" cy="427" r="1.25"/><circle cx="106.46" cy="427" r="1.25"/><circle cx="106.82" cy="427" r="1.25"/><circle cx="107.18" cy="427" r="1.25"/><circle cx="107.54" cy="427" r="1.25"/><circle cx="107.9" cy="427" r="1.25"/><circle cx="108.25" cy="427" r="1.25"/><circle cx="108.61" cy="427" r="1.25"/><circle cx="108.97" cy="427" r="1.25"/><circle cx="109.33" cy="427" r="1.25"/><circle cx="109.69" cy="427" r="1.25"/><circle cx="110.05" cy="427" r="1.25"/><circle cx="110.41" cy="427" r="1.25"/><circle cx="110.76" cy="427" r="1.25"/><circle cx="111.12" cy="427" r="1.25"/><circle cx="111.48" cy="427" r="1.25"/><circle cx="111.84" cy="427" r="1.25"/><circle cx="112.2" cy="427" r="1.25"/><circle cx="112.56" cy="427" r="1.25"/><circle cx="112.92" cy="427" r="1.25"/><circle cx="113.27" cy="427" r="1.25"/><circle cx="113.63" cy="427" r="1.25"/><circle cx="113.99" cy="427" r="1.25"/><circle cx="114.35" cy="427" r="1.25"/><circle cx="114.71" cy="427" r="1.25"/><circle cx="115.07" cy="427" r="1.25"/><circle cx="115.42" cy="427" r="1.25"/><circle cx="115.78" cy="427" r="1.25"/><circle cx="116.14" cy="427" r="1.25"/><circle cx="116.5" cy="427" r="1.25"/><circle cx="116.86" cy="427" r="1.25"/><circle cx="117.22" cy="427" r="1.25"/><circle cx="117.58" cy="427" r="1.25"/><circle cx="117.93" cy="427" r="1.25"/><circle cx="118.29" cy="427" r="1.25"/><circle cx="118.65" cy="427" r="1.25"/><circle cx="119.01" cy="427" r="1.25"/><circle cx="119.37" cy="427" r="1.25"/><circle cx="119.73" cy="427" r="1.25"/><circle cx="120.09" cy="427" r="1.25"/><circle cx="120.44" cy="427" r="1.25"/><circle cx="120.8" cy="427" r="1.25"/><circle cx="121.16" cy="427" r="1.25"/><circle cx="121.52" cy="427" r="1.25"/><circle cx="121.88" cy="427" r="1.25"/><circle cx="122.24" cy="427" r="1.25"/><circle cx="122.59" cy="427" r="1.25"/><circle cx="122.95" cy="427" r="1.25"/><circle cx="123.31" cy="427" r="1.25"/><circle cx="123.67" cy="427" r="1.25"/><circle cx="124.03" cy="427" r="1.25"/><circle cx="124.39" cy="427" r="1.25"/><circle cx="124.75" cy="427" r="1.25"/><circle cx="125.1" cy="427" r="1.25"/><circle cx="125.46" cy="427" r="1.25"/><circle cx="125.82" cy="427" r="1.25"/><circle cx="126.18" cy="427" r="1.25"/><circle cx="126.54" cy="427" r="1.25"/><circle cx="126.9" cy="427" r="1.25"/><circle cx="127.26" cy="427" r="1.25"/><circle cx="127.61" cy="427" r="1.25"/><circle cx="127.97" cy="427" r="1.25"/><circle cx="128.33" cy="427" r="1.25"/><circle cx="128.69" cy="427" r="1.25"/><circle cx="129.05" cy="427" r="1.25"/><circle cx="129.41" cy="427" r="1.25"/><circle cx="129.76" cy="427" r="1.25"/><circle cx="130.12" cy="427" r="1.25"/><circle cx="130.48" cy="427" r="1.25"/><circle cx="130.84" cy="427" r="1.25"/><circle cx="131.2" cy="427" r="1.25"/><circle cx="131.56" cy="427" r="1.25"/><circle cx="131.92" cy="427" r="1.25"/><circle cx="132.27" cy="427" r="1.25"/><circle cx="132.63" cy="427" r="1.25"/><circle cx="132.99" cy="427" r="1.25"/><circle cx="133.35" cy="427" r="1.25"/><circle cx="133.71" cy="427" r="1.25"/><circle cx="134.07" cy="427" r="1.25"/><circle cx="134.43" cy="427" r="1.25"/><circle cx="134.78" cy="427" r="1.25"/><circle cx="135.14" cy="427" r="1.25"/><circle cx="135.5" cy="427" r="1.25"/><circle cx="135.86" cy="427" r="1.25"/><circle cx="136.22" cy="427" r="1.25"/><circle cx="136.58" cy="427" r="1.25"/><circle cx="136.94" cy="427" r="1.25"/><circle cx="137.29" cy="427" r="1.25"/><circle cx="137.65" cy="427" r="1.25"/><circle cx="138.01" cy="427" r="1.25"/><circle cx="138.37" cy="427" r="1.25"/><circle cx="138.73" cy="427" r="1.25"/><circle cx="139.09" cy="427" r="1.25"/><circle cx="139.44" cy="427" r="1.25"/><circle cx="139.8" cy="427" r="1.25"/><circle cx="140.16" cy="427" r="1.25"/><circle cx="140.52" cy="427" r="1.25"/><circle cx="140.88" cy="427" r="1.25"/><circle cx="141.24" cy="427" r="1.25"/><circle cx="141.6" cy="427" r="1.25"/><circle cx="141.95" cy="427" r="1.25"/><circle cx="142.31" cy="427" r="1.25"/><circle cx="142.67" cy="427" r="1.25"/><circle cx="143.03" cy="427" r="1.25"/><circle cx="143.39" cy="427" r="1.25"/><circle cx="143.75" cy="427" r="1.25"/><circle cx="144.1" cy="427" r="1.25"/><circle cx="144.46" cy="427" r="1.25"/><circle cx="144.82" cy="427" r="1.25"/><circle cx="145.18" cy="427" r="1.25"/><circle cx="145.54" cy="427" r="1.25"/><circle cx="145.9" cy="427" r="1.25"/><circle cx="146.26" cy="427" r="1.25"/><circle cx="146.61" cy="427" r="1.25"/><circle cx="146.97" cy="427" r="1.25"/><circle cx="147.33" cy="427" r="1.25"/><circle cx="147.69" cy="427" r="1.25"/><circle cx="148.05" cy="427" r="1.25"/><circle cx="148.41" cy="427" r="1.25"/><circle cx="148.77" cy="427" r="1.25"/><circle cx="149.12" cy="427" r="1.25"/><circle cx="149.48" cy="427" r="1.25"/><circle cx="149.84" cy="427" r="1.25"/><circle cx="150.2" cy="427" r="1.25"/><circle cx="150.56" cy="427" r="1.25"/><circle cx="150.92" cy="427" r="1.25"/><circle cx="151.28" cy="427" r="1.25"/><circle cx="151.63" cy="427" r="1.25"/><circle cx="151.99" cy="427" r="1.25"/><circle cx="152.35" cy="427" r="1.25"/><circle cx="152.71" cy="427" r="1.25"/><circle cx="153.07" cy="427" r="1.25"/><circle cx="153.43" cy="427" r="1.25"/><circle cx="153.78" cy="427" r="1.25"/><circle cx="154.14" cy="427" r="1.25"/><circle cx="154.5" cy="427" r="1.25"/><circle cx="154.86" cy="427" r="1.25"/><circle cx="155.22" cy="427" r="1.25"/><circle cx="155.58" cy="427" r="1.25"/><circle cx="155.94" cy="427" r="1.25"/><circle cx="156.29" cy="427" r="1.25"/><circle cx="156.65" cy="427" r="1.25"/><circle cx="157.01" cy="427" r="1.25"/><circle cx="157.37" cy="427" r="1.25"/><circle cx="157.73" cy="427" r="1.25"/><circle cx="158.09" cy="427" r="1.25"/><circle cx="158.44" cy="427" r="1.25"/><circle cx="158.8" cy="427" r="1.25"/><circle cx="159.16" cy="427" r="1.25"/><circle cx="159.52" cy="427" r="1.25"/><circle cx="159.88" cy="427" r="1.25"/><circle cx="160.24" cy="427" r="1.25"/><circle cx="160.6" cy="427" r="1.25"/><circle cx="160.95" cy="427" r="1.25"/><circle cx="161.31" cy="427" r="1.25"/><circle cx="161.67" cy="427" r="1.25"/><circle cx="162.03" cy="427" r="1.25"/><circle cx="162.39" cy="427" r="1.25"/><circle cx="162.75" cy="427" r="1.25"/><circle cx="163.11" cy="427" r="1.25"/><circle cx="163.46" cy="427" r="1.25"/><circle cx="163.82" cy="427" r="1.25"/><circle cx="164.18" cy="427" r="1.25"/><circle cx="164.54" cy="427" r="1.25"/><circle cx="164.9" cy="427" r="1.25"/><circle cx="165.26" cy="427" r="1.25"/><circle cx="165.61" cy="427" r="1.25"/><circle cx="165.97" cy="427" r="1.25"/><circle cx="166.33" cy="427" r="1.25"/><circle cx="166.69" cy="427" r="1.25"/><circle cx="167.05" cy="427" r="1.25"/><circle cx="167.41" cy="427" r="1.25"/><circle cx="167.77" cy="427" r="1.25"/><circle cx="168.12" cy="427" r="1.25"/><circle cx="168.48" cy="427" r="1.25"/><circle cx="168.84" cy="427" r="1.25"/><circle cx="169.2" cy="427" r="1.25"/><circle cx="169.56" cy="427" r="1.25"/><circle cx="169.92" cy="427" r="1.25"/><circle cx="170.28" cy="427" r="1.25"/><circle cx="170.63" cy="427" r="1.25"/><circle cx="170.99" cy="427" r="1.25"/><circle cx="171.35" cy="427" r="1.25"/><circle cx="171.71" cy="427" r="1.25"/><circle cx="172.07" cy="427" r="1.25"/><circle cx="172.43" cy="427" r="1.25"/><circle cx="172.78" cy="427" r="1.25"/><circle cx="173.14" cy="427" r="1.25"/><circle cx="173.5" cy="427" r="1.25"/><circle cx="173.86" cy="427" r="1.25"/><circle cx="174.22" cy="427" r="1.25"/><circle cx="174.58" cy="427" r="1.25"/><circle cx="174.94" cy="427" r="1.25"/><circle cx="175.29" cy="427" r="1.25"/><circle cx="175.65" cy="427" r="1.25"/><circle cx="176.01" cy="427" r="1.25"/><circle cx="176.37" cy="427" r="1.25"/><circle cx="176.73" cy="427" r="1.25"/><circle cx="177.09" cy="427" r="1.25"/><circle cx="177.45" cy="427" r="1.25"/><circle cx="177.8" cy="427" r="1.25"/><circle cx="178.16" cy="427" r="1.25"/><circle cx="178.52" cy="427" r="1.25"/><circle cx="178.88" cy="427" r="1.25"/><circle cx="179.24" cy="427" r="1.25"/><circle cx="179.6" cy="427" r="1.25"/><circle cx="179.95" cy="427" r="1.25"/><circle cx="180.31" cy="427" r="1.25"/><circle cx="180.67" cy="427" r="1.25"/><circle cx="181.03" cy="427" r="1.25"/><circle cx="181.39" cy="427" r="1.25"/><circle cx="181.75" cy="427" r="1.25"/><circle cx="182.11" cy="427" r="1.25"/><circle cx="182.46" cy="427" r="1.25"/><circle cx="182.82" cy="427" r="1.25"/><circle cx="183.18" cy="427" r="1.25"/><circle cx="183.54" cy="427" r="1.25"/><circle cx="183.9" cy="427" r="1.25"/><circle cx="184.26" cy="427" r="1.25"/><circle cx="184.62" cy="427" r="1.25"/><circle cx="184.97" cy="427" r="1.25"/><circle cx="185.33" cy="427" r="1.25"/><circle cx="185.69" cy="427" r="1.25"/><circle cx="186.05" cy="427" r="1.25"/><circle cx="186.41" cy="427" r="1.25"/><circle cx="186.77" cy="427" r="1.25"/><circle cx="187.12" cy="427" r="1.25"/><circle cx="187.48" cy="427" r="1.25"/><circle cx="187.84" cy="427" r="1.25"/><circle cx="188.2" cy="427" r="1.25"/><circle cx="188.56" cy="427" r="1.25"/><circle cx="188.92" cy="427" r="1.25"/><circle cx="189.28" cy="427" r="1.25"/><circle cx="189.63" cy="427" r="1.25"/><circle cx="189.99" cy="427" r="1.25"/><circle cx="190.35" cy="427" r="1.25"/><circle cx="190.71" cy="427" r="1.25"/><circle cx="191.07" cy="427" r="1.25"/><circle cx="191.43" cy="427" r="1.25"/><circle cx="191.79" cy="427" r="1.25"/><circle cx="192.14" cy="427" r="1.25"/><circle cx="192.5" cy="427" r="1.25"/><circle cx="192.86" cy="427" r="1.25"/><circle cx="193.22" cy="427" r="1.25"/><circle cx="193.58" cy="427" r="1.25"/><circle cx="193.94" cy="427" r="1.25"/><circle cx="194.29" cy="427" r="1.25"/><circle cx="194.65" cy="427" r="1.25"/><circle cx="195.01" cy="427" r="1.25"/><circle cx="195.37" cy="427" r="1.25"/><circle cx="195.73" cy="427" r="1.25"/><circle cx="196.09" cy="427" r="1.25"/><circle cx="196.45" cy="427" r="1.25"/><circle cx="196.8" cy="427" r="1.25"/><circle cx="197.16" cy="427" r="1.25"/><circle cx="197.52" cy="427" r="1.25"/><circle cx="197.88" cy="427" r="1.25"/><circle cx="198.24" cy="427" r="1.25"/><circle cx="198.6" cy="427" r="1.25"/><circle cx="198.96" cy="427" r="1.25"/><circle cx="199.31" cy="427" r="1.25"/><circle cx="199.67" cy="427" r="1.25"/><circle cx="200.03" cy="427" r="1.25"/><circle cx="200.39" cy="427" r="1.25"/><circle cx="200.75" cy="427" r="1.25"/><circle cx="201.11" cy="427" r="1.25"/><circle cx="201.47" cy="427" r="1.25"/><circle cx="201.82" cy="427" r="1.25"/><circle cx="202.18" cy="427" r="1.25"/><circle cx="202.54" cy="427" r="1.25"/><circle cx="202.9" cy="427" r="1.25"/><circle cx="203.26" cy="427" r="1.25"/><circle cx="203.62" cy="427" r="1.25"/><circle cx="203.97" cy="427" r="1.25"/><circle cx="204.33" cy="427" r="1.25"/><circle cx="204.69" cy="427" r="1.25"/><circle cx="205.05" cy="427" r="1.25"/><circle cx="205.41" cy="427" r="1.25"/><circle cx="205.77" cy="427" r="1.25"/><circle cx="206.13" cy="427" r="1.25"/><circle cx="206.48" cy="427" r="1.25"/><circle cx="206.84" cy="427" r="1.25"/><circle cx="207.2" cy="427" r="1.25"/><circle cx="207.56" cy="427" r="1.25"/><circle cx="207.92" cy="427" r="1.25"/><circle cx="208.28" cy="427" r="1.25"/><circle cx="208.63" cy="427" r="1.25"/><circle cx="208.99" cy="427" r="1.25"/><circle cx="209.35" cy="427" r="1.25"/><circle cx="209.71" cy="427" r="1.25"/><circle cx="210.07" cy="427" r="1.25"/><circle cx="210.43" cy="427" r="1.25"/><circle cx="210.79" cy="427" r="1.25"/><circle cx="211.14" cy="427" r="1.25"/><circle cx="211.5" cy="427" r="1.25"/><circle cx="211.86" cy="427" r="1.25"/><circle cx="212.22" cy="427" r="1.25"/><circle cx="212.58" cy="427" r="1.25"/><circle cx="212.94" cy="427" r="1.25"/><circle cx="213.3" cy="427" r="1.25"/><circle cx="213.65" cy="427" r="1.25"/><circle cx="214.01" cy="427" r="1.25"/><circle cx="214.37" cy="427" r="1.25"/><circle cx="214.73" cy="427" r="1.25"/><circle cx="215.09" cy="427" r="1.25"/><circle cx="215.45" cy="427" r="1.25"/><circle cx="215.81" cy="427" r="1.25"/><circle cx="216.16" cy="427" r="1.25"/><circle cx="216.52" cy="427" r="1.25"/><circle cx="216.88" cy="427" r="1.25"/><circle cx="217.24" cy="427" r="1.25"/><circle cx="217.6" cy="427" r="1.25"/><circle cx="217.96" cy="427" r="1.25"/><circle cx="218.31" cy="427" r="1.25"/><circle cx="218.67" cy="427" r="1.25"/><circle cx="219.03" cy="427" r="1.25"/><circle cx="219.39" cy="427" r="1.25"/><circle cx="219.75" cy="427" r="1.25"/><circle cx="220.11" cy="427" r="1.25"/><circle cx="220.47" cy="427" r="1.25"/><circle cx="220.82" cy="427" r="1.25"/><circle cx="221.18" cy="427" r="1.25"/><circle cx="221.54" cy="427" r="1.25"/><circle cx="221.9" cy="427" r="1.25"/><circle cx="222.26" cy="427" r="1.25"/><circle cx="222.62" cy="427" r="1.25"/><circle cx="222.97" cy="427" r="1.25"/><circle cx="223.33" cy="427" r="1.25"/><circle cx="223.69" cy="427" r="1.25"/><circle cx="224.05" cy="427" r="1.25"/><circle cx="224.41" cy="427" r="1.25"/><circle cx="224.77" cy="427" r="1.25"/><circle cx="225.13" cy="427" r="1.25"/><circle cx="225.48" cy="427" r="1.25"/><circle cx="225.84" cy="427" r="1.25"/><circle cx="226.2" cy="427" r="1.25"/><circle cx="226.56" cy="427" r="1.25"/><circle cx="226.92" cy="427" r="1.25"/><circle cx="227.28" cy="427" r="1.25"/><circle cx="227.64" cy="427" r="1.25"/><circle cx="227.99" cy="427" r="1.25"/><circle cx="228.35" cy="427" r="1.25"/><circle cx="228.71" cy="427" r="1.25"/><circle cx="229.07" cy="427" r="1.25"/><circle cx="229.43" cy="427" r="1.25"/><circle cx="229.79" cy="427" r="1.25"/><circle cx="230.15" cy="427" r="1.25"/><circle cx="230.5" cy="427" r="1.25"/><circle cx="230.86" cy="427" r="1.25"/><circle cx="231.22" cy="427" r="1.25"/><circle cx="231.58" cy="427" r="1.25"/><circle cx="231.94" cy="427" r="1.25"/><circle cx="232.3" cy="427" r="1.25"/><circle cx="232.65" cy="427" r="1.25"/><circle cx="233.01" cy="427" r="1.25"/><circle cx="233.37" cy="427" r="1.25"/><circle cx="233.73" cy="427" r="1.25"/><circle cx="234.09" cy="427" r="1.25"/><circle cx="234.45" cy="427" r="1.25"/><circle cx="234.81" cy="427" r="1.25"/><circle cx="235.16" cy="427" r="1.25"/><circle cx="235.52" cy="427" r="1.25"/><circle cx="235.88" cy="427" r="1.25"/><circle cx="236.24" cy="427" r="1.25"/><circle cx="236.6" cy="427" r="1.25"/><circle cx="236.96" cy="427" r="1.25"/><circle cx="237.31" cy="427" r="1.25"/><circle cx="237.67" cy="427" r="1.25"/><circle cx="238.03" cy="427" r="1.25"/><circle cx="238.39" cy="427" r="1.25"/><circle cx="238.75" cy="427" r="1.25"/><circle cx="239.11" cy="427" r="1.25"/><circle cx="239.47" cy="427" r="1.25"/><circle cx="239.82" cy="427" r="1.25"/><circle cx="240.18" cy="427" r="1.25"/><circle cx="240.54" cy="427" r="1.25"/><circle cx="240.9" cy="427" r="1.25"/>
</g>
</g>
<g>
<rect x="257.6" y="235" width="196.5" height="201" fill="#ebebeb"/>
<path d="M257.6 404.15h196.5M257.6 358.45h196.5M257.6 312.75h196.5M257.6 267.05h196.5M284.18 235v201M320.02 235v201M355.88 235v201M391.73 235v201M427.57 235v201" stroke="#fff" stroke-width="0.8" fill="none"/>
<path d="M257.6 427h196.5M257.6 381.3h196.5M257.6 335.6h196.5M257.6 289.9h196.5M257.6 244.2h196.5M266.25 235v201M302.1 235v201M337.95 235v201M373.8 235v201M409.65 235v201M445.5 235v201" stroke="#fff" stroke-width="1.55" fill="none"/>
<path d="M266.61 427 L322.18 427 L322.18 244.2 L350.86 244.2 L350.86 427 L445.5 427" stroke="#00ff00" stroke-width="1.45" fill="none" stroke-linejoin="miter"/>
<path d="M266.61 423.71 266.97 423.71 267.33 422.06 267.68 422.06 268.04 422.06 268.4 422.06 268.76 422.06 269.12 422.06 269.48 422.06 269.83 420.42 270.19 420.42 270.55 420.42 270.91 420.42 271.27 420.42 271.63 420.42 271.99 418.77 272.34 418.77 272.7 418.77 273.06 418.77 273.42 418.77 273.78 418.77 274.14 418.77 274.5 418.77 274.85 418.77 275.21 418.77 275.57 418.77 275.93 418.77 276.29 418.77 276.65 418.77 277 418.77 277.36 418.77 277.72 418.77 278.08 418.77 278.44 418.77 278.8 418.77 279.16 418.77 279.51 418.77 279.87 418.77 280.23 418.77 280.59 418.77 280.95 418.77 281.31 418.77 281.67 418.77 282.02 418.77 282.38 418.77 282.74 418.77 283.1 418.77 283.46 417.13 283.82 417.13 284.18 417.13 284.53 417.13 284.89 417.13 285.25 417.13 285.61 417.13 285.97 417.13 286.33 415.48 286.68 415.48 287.04 415.48 287.4 415.48 287.76 415.48 288.12 415.48 288.48 413.84 288.84 413.84 289.19 413.84 289.55 412.19 289.91 412.19 290.27 412.19 290.63 410.55 290.99 410.55 291.35 410.55 291.7 408.9 292.06 408.9 292.42 407.26 292.78 403.97 293.14 403.97 293.5 400.68 293.85 394.1 294.21 387.52 294.57 385.87 294.93 385.87 295.29 387.52 295.65 387.52 296.01 387.52 296.36 385.87 296.72 382.58 297.08 384.22 297.44 385.87 297.8 384.22 298.16 384.22 298.51 382.58 298.87 382.58 299.23 382.58 299.59 382.58 299.95 379.29 300.31 379.29 300.67 377.64 301.02 380.93 301.38 377.64 301.74 377.64 302.1 377.64 302.46 377.64 302.82 377.64 303.18 377.64 303.53 376 303.89 376 304.25 376 304.61 371.06 304.97 369.42 305.33 367.77 305.69 361.19 306.04 362.84 306.4 359.55 306.76 359.55 307.12 357.9 307.48 354.61 307.84 351.32 308.19 349.68 308.55 348.03 308.91 346.39 309.27 344.74 309.63 344.74 309.99 344.74 310.35 344.74 310.7 344.74 311.06 344.74 311.42 341.45 311.78 343.09 312.14 339.8 312.5 338.16 312.86 339.8 313.21 334.87 313.57 334.87 313.93 333.22 314.29 331.58 314.65 331.58 315.01 326.64 315.36 323.35 315.72 320.06 316.08 320.06 316.44 320.06 316.8 315.13 317.16 315.13 317.52 313.48 317.87 311.84 318.23 310.19 318.59 301.96 318.95 297.03 319.31 290.45 319.67 292.09 320.02 290.45 320.38 288.8 320.74 285.51 321.1 287.16 321.46 287.16 321.82 283.87 322.18 283.87 322.53 283.87 322.89 280.58 323.25 278.93 323.61 277.29 323.97 274 324.33 275.64 324.69 275.64 325.04 277.29 325.4 277.29 325.76 277.29 326.12 280.58 326.48 277.29 326.84 278.93 327.19 275.64 327.55 274 327.91 270.71 328.27 272.35 328.63 278.93 328.99 280.58 329.35 283.87 329.7 288.8 330.06 290.45 330.42 285.51 330.78 283.87 331.14 278.93 331.5 277.29 331.86 277.29 332.21 275.64 332.57 274 332.93 272.35 333.29 272.35 333.65 272.35 334.01 270.71 334.37 270.71 334.72 272.35 335.08 272.35 335.44 269.06 335.8 269.06 336.16 269.06 336.52 269.06 336.87 265.77 337.23 265.77 337.59 265.77 337.95 267.42 338.31 267.42 338.67 265.77 339.03 265.77 339.38 267.42 339.74 267.42 340.1 265.77 340.46 269.06 340.82 269.06 341.18 267.42 341.53 267.42 341.89 272.35 342.25 277.29 342.61 280.58 342.97 283.87 343.33 287.16 343.69 285.51 344.04 288.8 344.4 290.45 344.76 293.74 345.12 295.38 345.48 298.67 345.84 297.03 346.2 298.67 346.55 297.03 346.91 295.38 347.27 297.03 347.63 293.74 347.99 293.74 348.35 293.74 348.7 293.74 349.06 293.74 349.42 295.38 349.78 295.38 350.14 297.03 350.5 300.32 350.86 303.61 351.21 303.61 351.57 303.61 351.93 306.9 352.29 308.55 352.65 310.19 353.01 311.84 353.37 320.06 353.72 321.71 354.08 328.29 354.44 334.87 354.8 336.51 355.16 336.51 355.52 336.51 355.88 341.45 356.23 339.8 356.59 339.8 356.95 338.16 357.31 339.8 357.67 339.8 358.03 339.8 358.38 341.45 358.74 344.74 359.1 346.39 359.46 348.03 359.82 348.03 360.18 348.03 360.54 348.03 360.89 348.03 361.25 346.39 361.61 348.03 361.97 348.03 362.33 346.39 362.69 346.39 363.05 346.39 363.4 348.03 363.76 351.32 364.12 352.97 364.48 352.97 364.84 356.26 365.2 359.55 365.55 359.55 365.91 361.19 366.27 362.84 366.63 366.13 366.99 366.13 367.35 366.13 367.71 371.06 368.06 371.06 368.42 372.71 368.78 374.35 369.14 374.35 369.5 372.71 369.86 372.71 370.21 376 370.57 376 370.93 377.64 371.29 379.29 371.65 377.64 372.01 377.64 372.37 377.64 372.72 380.93 373.08 379.29 373.44 379.29 373.8 380.93 374.16 380.93 374.52 382.58 374.88 382.58 375.23 380.93 375.59 384.22 375.95 384.22 376.31 382.58 376.67 384.22 377.03 385.87 377.38 385.87 377.74 385.87 378.1 385.87 378.46 384.22 378.82 384.22 379.18 384.22 379.54 384.22 379.89 385.87 380.25 384.22 380.61 382.58 380.97 384.22 381.33 385.87 381.69 382.58 382.05 384.22 382.4 385.87 382.76 385.87 383.12 384.22 383.48 384.22 383.84 384.22 384.2 385.87 384.56 387.52 384.91 387.52 385.27 387.52 385.63 390.81 385.99 390.81 386.35 392.45 386.71 394.1 387.06 394.1 387.42 394.1 387.78 394.1 388.14 394.1 388.5 394.1 388.86 394.1 389.22 394.1 389.57 395.74 389.93 395.74 390.29 395.74 390.65 395.74 391.01 395.74 391.37 394.1 391.73 395.74 392.08 395.74 392.44 397.39 392.8 397.39 393.16 397.39 393.52 397.39 393.88 397.39 394.23 399.03 394.59 399.03 394.95 400.68 395.31 400.68 395.67 400.68 396.03 402.32 396.39 402.32 396.74 403.97 397.1 403.97 397.46 403.97 397.82 405.61 398.18 405.61 398.54 407.26 398.89 407.26 399.25 407.26 399.61 407.26 399.97 407.26 400.33 407.26 400.69 407.26 401.05 405.61 401.4 407.26 401.76 407.26 402.12 407.26 402.48 407.26 402.84 407.26 403.2 407.26 403.56 407.26 403.91 407.26 404.27 408.9 404.63 408.9 404.99 408.9 405.35 410.55 405.71 410.55 406.06 410.55 406.42 410.55 406.78 412.19 407.14 412.19 407.5 413.84 407.86 413.84 408.22 413.84 408.57 413.84 408.93 415.48 409.29 415.48 409.65 415.48 410.01 415.48 410.37 417.13 410.73 417.13 411.08 417.13 411.44 417.13 411.8 418.77 412.16 418.77 412.52 418.77 412.88 418.77 413.24 418.77 413.59 418.77 413.95 418.77 414.31 418.77 414.67 418.77 415.03 418.77 415.39 418.77 415.74 418.77 416.1 418.77 416.46 418.77 416.82 418.77 417.18 418.77 417.54 418.77 417.9 420.42 418.25 420.42 418.61 422.06 418.97 423.71 419.33 423.71 419.69 423.71 420.05 423.71 420.4 423.71 420.76 423.71 421.12 423.71 421.48 423.71 421.84 423.71 422.2 423.71 422.56 423.71 422.91 423.71 423.27 423.71 423.63 423.71 423.99 423.71 424.35 423.71 424.71 423.71 425.07 423.71 425.42 423.71 425.78 423.71 426.14 423.71 426.5 423.71 426.86 423.71 427.22 423.71 427.57 423.71 427.93 423.71 428.29 423.71 428.65 423.71 429.01 423.71 429.37 423.71 429.73 423.71 430.08 423.71 430.44 423.71 430.8 423.71 431.16 423.71 431.52 425.35 431.88 425.35 432.24 425.35 432.59 425.35 432.95 425.35 433.31 425.35 433.67 425.35 434.03 425.35 434.39 425.35 434.75 425.35 435.1 425.35 435.46 425.35 435.82 425.35 436.18 425.35 436.54 425.35 436.9 425.35 437.25 425.35 437.61 425.35 437.97 425.35 438.33 425.35 438.69 425.35 439.05 425.35 439.41 425.35 439.76 425.35 440.12 427 440.48 427 440.84 427 441.2 427 441.56 427 441.91 427 442.27 427 442.63 427 442.99 427 443.35 427 443.71 427 444.07 427 444.42 427 444.78 427 445.14 427 445.5 427" stroke="#000" stroke-width="1.5" fill="none" stroke-linejoin="round" stroke-linecap="butt"/>
<g fill="#ff0000" fill-opacity="0.5" stroke="#ff0000" stroke-opacity="0.5" stroke-width="0.9">
<circle cx="266.61" cy="427" r="1.25"/><circle cx="266.97" cy="427" r="1.25"/><circle cx="267.33" cy="427" r="1.25"/><circle cx="267.68" cy="427" r="1.25"/><circle cx="268.04" cy="427" r="1.25"/><circle cx="268.4" cy="427" r="1.25"/><circle cx="268.76" cy="427" r="1.25"/><circle cx="269.12" cy="427" r="1.25"/><circle cx="269.48" cy="427" r="1.25"/><circle cx="269.83" cy="427" r="1.25"/><circle cx="270.19" cy="427" r="1.25"/><circle cx="270.55" cy="427" r="1.25"/><circle cx="270.91" cy="427" r="1.25"/><circle cx="271.27" cy="427" r="1.25"/><circle cx="271.63" cy="427" r="1.25"/><circle cx="271.99" cy="427" r="1.25"/><circle cx="272.34" cy="427" r="1.25"/><circle cx="272.7" cy="427" r="1.25"/><circle cx="273.06" cy="427" r="1.25"/><circle cx="273.42" cy="427" r="1.25"/><circle cx="273.78" cy="427" r="1.25"/><circle cx="274.14" cy="427" r="1.25"/><circle cx="274.5" cy="427" r="1.25"/><circle cx="274.85" cy="427" r="1.25"/><circle cx="275.21" cy="427" r="1.25"/><circle cx="275.57" cy="427" r="1.25"/><circle cx="275.93" cy="427" r="1.25"/><circle cx="276.29" cy="427" r="1.25"/><circle cx="276.65" cy="427" r="1.25"/><circle cx="277" cy="427" r="1.25"/><circle cx="277.36" cy="427" r="1.25"/><circle cx="277.72" cy="427" r="1.25"/><circle cx="278.08" cy="427" r="1.25"/><circle cx="278.44" cy="427" r="1.25"/><circle cx="278.8" cy="427" r="1.25"/><circle cx="279.16" cy="427" r="1.25"/><circle cx="279.51" cy="427" r="1.25"/><circle cx="279.87" cy="427" r="1.25"/><circle cx="280.23" cy="427" r="1.25"/><circle cx="280.59" cy="427" r="1.25"/><circle cx="280.95" cy="427" r="1.25"/><circle cx="281.31" cy="427" r="1.25"/><circle cx="281.67" cy="427" r="1.25"/><circle cx="282.02" cy="427" r="1.25"/><circle cx="282.38" cy="427" r="1.25"/><circle cx="282.74" cy="427" r="1.25"/><circle cx="283.1" cy="427" r="1.25"/><circle cx="283.46" cy="427" r="1.25"/><circle cx="283.82" cy="427" r="1.25"/><circle cx="284.18" cy="427" r="1.25"/><circle cx="284.53" cy="427" r="1.25"/><circle cx="284.89" cy="427" r="1.25"/><circle cx="285.25" cy="427" r="1.25"/><circle cx="285.61" cy="427" r="1.25"/><circle cx="285.97" cy="427" r="1.25"/><circle cx="286.33" cy="427" r="1.25"/><circle cx="286.68" cy="427" r="1.25"/><circle cx="287.04" cy="427" r="1.25"/><circle cx="287.4" cy="427" r="1.25"/><circle cx="287.76" cy="427" r="1.25"/><circle cx="288.12" cy="427" r="1.25"/><circle cx="288.48" cy="427" r="1.25"/><circle cx="288.84" cy="427" r="1.25"/><circle cx="289.19" cy="427" r="1.25"/><circle cx="289.55" cy="427" r="1.25"/><circle cx="289.91" cy="427" r="1.25"/><circle cx="290.27" cy="427" r="1.25"/><circle cx="290.63" cy="427" r="1.25"/><circle cx="290.99" cy="427" r="1.25"/><circle cx="291.35" cy="427" r="1.25"/><circle cx="291.7" cy="427" r="1.25"/><circle cx="292.06" cy="427" r="1.25"/><circle cx="292.42" cy="427" r="1.25"/><circle cx="292.78" cy="427" r="1.25"/><circle cx="293.14" cy="427" r="1.25"/><circle cx="293.5" cy="427" r="1.25"/><circle cx="293.85" cy="427" r="1.25"/><circle cx="294.21" cy="427" r="1.25"/><circle cx="294.57" cy="427" r="1.25"/><circle cx="294.93" cy="427" r="1.25"/><circle cx="295.29" cy="427" r="1.25"/><circle cx="295.65" cy="427" r="1.25"/><circle cx="296.01" cy="427" r="1.25"/><circle cx="296.36" cy="427" r="1.25"/><circle cx="296.72" cy="427" r="1.25"/><circle cx="297.08" cy="427" r="1.25"/><circle cx="297.44" cy="427" r="1.25"/><circle cx="297.8" cy="427" r="1.25"/><circle cx="298.16" cy="427" r="1.25"/><circle cx="298.51" cy="427" r="1.25"/><circle cx="298.87" cy="427" r="1.25"/><circle cx="299.23" cy="427" r="1.25"/><circle cx="299.59" cy="427" r="1.25"/><circle cx="299.95" cy="427" r="1.25"/><circle cx="300.31" cy="427" r="1.25"/><circle cx="300.67" cy="427" r="1.25"/><circle cx="301.02" cy="427" r="1.25"/><circle cx="301.38" cy="427" r="1.25"/><circle cx="301.74" cy="427" r="1.25"/><circle cx="302.1" cy="427" r="1.25"/><circle cx="302.46" cy="427" r="1.25"/><circle cx="302.82" cy="427" r="1.25"/><circle cx="303.18" cy="427" r="1.25"/><circle cx="303.53" cy="427" r="1.25"/><circle cx="303.89" cy="427" r="1.25"/><circle cx="304.25" cy="427" r="1.25"/><circle cx="304.61" cy="427" r="1.25"/><circle cx="304.97" cy="427" r="1.25"/><circle cx="305.33" cy="427" r="1.25"/><circle cx="305.69" cy="427" r="1.25"/><circle cx="306.04" cy="427" r="1.25"/><circle cx="306.4" cy="427" r="1.25"/><circle cx="306.76" cy="427" r="1.25"/><circle cx="307.12" cy="427" r="1.25"/><circle cx="307.48" cy="427" r="1.25"/><circle cx="307.84" cy="427" r="1.25"/><circle cx="308.19" cy="427" r="1.25"/><circle cx="308.55" cy="427" r="1.25"/><circle cx="308.91" cy="427" r="1.25"/><circle cx="309.27" cy="427" r="1.25"/><circle cx="309.63" cy="427" r="1.25"/><circle cx="309.99" cy="427" r="1.25"/><circle cx="310.35" cy="427" r="1.25"/><circle cx="310.7" cy="427" r="1.25"/><circle cx="311.06" cy="427" r="1.25"/><circle cx="311.42" cy="427" r="1.25"/><circle cx="311.78" cy="427" r="1.25"/><circle cx="312.14" cy="427" r="1.25"/><circle cx="312.5" cy="427" r="1.25"/><circle cx="312.86" cy="427" r="1.25"/><circle cx="313.21" cy="427" r="1.25"/><circle cx="313.57" cy="427" r="1.25"/><circle cx="313.93" cy="427" r="1.25"/><circle cx="314.29" cy="427" r="1.25"/><circle cx="314.65" cy="427" r="1.25"/><circle cx="315.01" cy="427" r="1.25"/><circle cx="315.36" cy="427" r="1.25"/><circle cx="315.72" cy="427" r="1.25"/><circle cx="316.08" cy="427" r="1.25"/><circle cx="316.44" cy="427" r="1.25"/><circle cx="316.8" cy="427" r="1.25"/><circle cx="317.16" cy="427" r="1.25"/><circle cx="317.52" cy="427" r="1.25"/><circle cx="317.87" cy="421.33" r="1.25"/><circle cx="318.23" cy="422.34" r="1.25"/><circle cx="318.59" cy="423.34" r="1.25"/><circle cx="318.95" cy="423.34" r="1.25"/><circle cx="319.31" cy="423.34" r="1.25"/><circle cx="319.67" cy="422.17" r="1.25"/><circle cx="320.02" cy="421" r="1.25"/><circle cx="320.38" cy="418.23" r="1.25"/><circle cx="320.74" cy="413.84" r="1.25"/><circle cx="321.1" cy="406.03" r="1.25"/><circle cx="321.46" cy="388.61" r="1.25"/><circle cx="321.82" cy="375.82" r="1.25"/><circle cx="322.18" cy="311.84" r="1.25"/><circle cx="322.53" cy="299.04" r="1.25"/><circle cx="322.89" cy="288.07" r="1.25"/><circle cx="323.25" cy="280.76" r="1.25"/><circle cx="323.61" cy="275.28" r="1.25"/><circle cx="323.97" cy="264.31" r="1.25"/><circle cx="324.33" cy="255.17" r="1.25"/><circle cx="324.69" cy="252.43" r="1.25"/><circle cx="325.04" cy="248.77" r="1.25"/><circle cx="325.4" cy="247.4" r="1.25"/><circle cx="325.76" cy="246.03" r="1.25"/><circle cx="326.12" cy="245.42" r="1.25"/><circle cx="326.48" cy="244.81" r="1.25"/><circle cx="326.84" cy="244.2" r="1.25"/><circle cx="327.19" cy="244.2" r="1.25"/><circle cx="327.55" cy="244.2" r="1.25"/><circle cx="327.91" cy="244.2" r="1.25"/><circle cx="328.27" cy="244.2" r="1.25"/><circle cx="328.63" cy="244.2" r="1.25"/><circle cx="328.99" cy="244.2" r="1.25"/><circle cx="329.35" cy="244.2" r="1.25"/><circle cx="329.7" cy="244.2" r="1.25"/><circle cx="330.06" cy="244.2" r="1.25"/><circle cx="330.42" cy="244.2" r="1.25"/><circle cx="330.78" cy="244.2" r="1.25"/><circle cx="331.14" cy="244.2" r="1.25"/><circle cx="331.5" cy="244.2" r="1.25"/><circle cx="331.86" cy="244.2" r="1.25"/><circle cx="332.21" cy="244.2" r="1.25"/><circle cx="332.57" cy="244.2" r="1.25"/><circle cx="332.93" cy="244.2" r="1.25"/><circle cx="333.29" cy="244.2" r="1.25"/><circle cx="333.65" cy="244.2" r="1.25"/><circle cx="334.01" cy="244.2" r="1.25"/><circle cx="334.37" cy="244.2" r="1.25"/><circle cx="334.72" cy="244.2" r="1.25"/><circle cx="335.08" cy="244.2" r="1.25"/><circle cx="335.44" cy="244.2" r="1.25"/><circle cx="335.8" cy="244.2" r="1.25"/><circle cx="336.16" cy="244.2" r="1.25"/><circle cx="336.52" cy="244.2" r="1.25"/><circle cx="336.87" cy="244.2" r="1.25"/><circle cx="337.23" cy="244.2" r="1.25"/><circle cx="337.59" cy="244.2" r="1.25"/><circle cx="337.95" cy="244.2" r="1.25"/><circle cx="338.31" cy="244.2" r="1.25"/><circle cx="338.67" cy="244.2" r="1.25"/><circle cx="339.03" cy="244.2" r="1.25"/><circle cx="339.38" cy="244.2" r="1.25"/><circle cx="339.74" cy="244.2" r="1.25"/><circle cx="340.1" cy="244.2" r="1.25"/><circle cx="340.46" cy="244.2" r="1.25"/><circle cx="340.82" cy="244.2" r="1.25"/><circle cx="341.18" cy="244.2" r="1.25"/><circle cx="341.53" cy="244.2" r="1.25"/><circle cx="341.89" cy="244.2" r="1.25"/><circle cx="342.25" cy="244.2" r="1.25"/><circle cx="342.61" cy="244.2" r="1.25"/><circle cx="342.97" cy="244.2" r="1.25"/><circle cx="343.33" cy="244.66" r="1.25"/><circle cx="343.69" cy="245.11" r="1.25"/><circle cx="344.04" cy="246.03" r="1.25"/><circle cx="344.4" cy="246.94" r="1.25"/><circle cx="344.76" cy="247.86" r="1.25"/><circle cx="345.12" cy="249.07" r="1.25"/><circle cx="345.48" cy="250.29" r="1.25"/><circle cx="345.84" cy="251.51" r="1.25"/><circle cx="346.2" cy="256.08" r="1.25"/><circle cx="346.55" cy="260.65" r="1.25"/><circle cx="346.91" cy="267.96" r="1.25"/><circle cx="347.27" cy="299.04" r="1.25"/><circle cx="347.63" cy="315.49" r="1.25"/><circle cx="347.99" cy="337.43" r="1.25"/><circle cx="348.35" cy="352.05" r="1.25"/><circle cx="348.7" cy="377.64" r="1.25"/><circle cx="349.06" cy="384.96" r="1.25"/><circle cx="349.42" cy="392.27" r="1.25"/><circle cx="349.78" cy="399.58" r="1.25"/><circle cx="350.14" cy="405.52" r="1.25"/><circle cx="350.5" cy="410.09" r="1.25"/><circle cx="350.86" cy="414.39" r="1.25"/><circle cx="351.21" cy="418.41" r="1.25"/><circle cx="351.57" cy="419.74" r="1.25"/><circle cx="351.93" cy="421.08" r="1.25"/><circle cx="352.29" cy="422.23" r="1.25"/><circle cx="352.65" cy="423.09" r="1.25"/><circle cx="353.01" cy="423.95" r="1.25"/><circle cx="353.37" cy="424.81" r="1.25"/><circle cx="353.72" cy="425.25" r="1.25"/><circle cx="354.08" cy="425.68" r="1.25"/><circle cx="354.44" cy="426.12" r="1.25"/><circle cx="354.8" cy="426.56" r="1.25"/><circle cx="355.16" cy="427" r="1.25"/><circle cx="355.52" cy="427" r="1.25"/><circle cx="355.88" cy="427" r="1.25"/><circle cx="356.23" cy="427" r="1.25"/><circle cx="356.59" cy="427" r="1.25"/><circle cx="356.95" cy="427" r="1.25"/><circle cx="357.31" cy="427" r="1.25"/><circle cx="357.67" cy="427" r="1.25"/><circle cx="358.03" cy="427" r="1.25"/><circle cx="358.38" cy="427" r="1.25"/><circle cx="358.74" cy="427" r="1.25"/><circle cx="359.1" cy="427" r="1.25"/><circle cx="359.46" cy="427" r="1.25"/><circle cx="359.82" cy="427" r="1.25"/><circle cx="360.18" cy="427" r="1.25"/><circle cx="360.54" cy="427" r="1.25"/><circle cx="360.89" cy="427" r="1.25"/><circle cx="361.25" cy="427" r="1.25"/><circle cx="361.61" cy="427" r="1.25"/><circle cx="361.97" cy="427" r="1.25"/><circle cx="362.33" cy="427" r="1.25"/><circle cx="362.69" cy="427" r="1.25"/><circle cx="363.05" cy="427" r="1.25"/><circle cx="363.4" cy="427" r="1.25"/><circle cx="363.76" cy="427" r="1.25"/><circle cx="364.12" cy="427" r="1.25"/><circle cx="364.48" cy="427" r="1.25"/><circle cx="364.84" cy="427" r="1.25"/><circle cx="365.2" cy="427" r="1.25"/><circle cx="365.55" cy="427" r="1.25"/><circle cx="365.91" cy="427" r="1.25"/><circle cx="366.27" cy="427" r="1.25"/><circle cx="366.63" cy="427" r="1.25"/><circle cx="366.99" cy="427" r="1.25"/><circle cx="367.35" cy="427" r="1.25"/><circle cx="367.71" cy="427" r="1.25"/><circle cx="368.06" cy="427" r="1.25"/><circle cx="368.42" cy="427" r="1.25"/><circle cx="368.78" cy="427" r="1.25"/><circle cx="369.14" cy="427" r="1.25"/><circle cx="369.5" cy="427" r="1.25"/><circle cx="369.86" cy="427" r="1.25"/><circle cx="370.21" cy="427" r="1.25"/><circle cx="370.57" cy="427" r="1.25"/><circle cx="370.93" cy="427" r="1.25"/><circle cx="371.29" cy="427" r="1.25"/><circle cx="371.65" cy="427" r="1.25"/><circle cx="372.01" cy="427" r="1.25"/><circle cx="372.37" cy="427" r="1.25"/><circle cx="372.72" cy="427" r="1.25"/><circle cx="373.08" cy="427" r="1.25"/><circle cx="373.44" cy="427" r="1.25"/><circle cx="373.8" cy="427" r="1.25"/><circle cx="374.16" cy="427" r="1.25"/><circle cx="374.52" cy="427" r="1.25"/><circle cx="374.88" cy="427" r="1.25"/><circle cx="375.23" cy="427" r="1.25"/><circle cx="375.59" cy="427" r="1.25"/><circle cx="375.95" cy="427" r="1.25"/><circle cx="376.31" cy="427" r="1.25"/><circle cx="376.67" cy="427" r="1.25"/><circle cx="377.03" cy="427" r="1.25"/><circle cx="377.38" cy="427" r="1.25"/><circle cx="377.74" cy="427" r="1.25"/><circle cx="378.1" cy="427" r="1.25"/><circle cx="378.46" cy="427" r="1.25"/><circle cx="378.82" cy="427" r="1.25"/><circle cx="379.18" cy="427" r="1.25"/><circle cx="379.54" cy="427" r="1.25"/><circle cx="379.89" cy="427" r="1.25"/><circle cx="380.25" cy="427" r="1.25"/><circle cx="380.61" cy="427" r="1.25"/><circle cx="380.97" cy="427" r="1.25"/><circle cx="381.33" cy="427" r="1.25"/><circle cx="381.69" cy="427" r="1.25"/><circle cx="382.05" cy="427" r="1.25"/><circle cx="382.4" cy="427" r="1.25"/><circle cx="382.76" cy="427" r="1.25"/><circle cx="383.12" cy="427" r="1.25"/><circle cx="383.48" cy="427" r="1.25"/><circle cx="383.84" cy="427" r="1.25"/><circle cx="384.2" cy="427" r="1.25"/><circle cx="384.56" cy="427" r="1.25"/><circle cx="384.91" cy="427" r="1.25"/><circle cx="385.27" cy="427" r="1.25"/><circle cx="385.63" cy="427" r="1.25"/><circle cx="385.99" cy="427" r="1.25"/><circle cx="386.35" cy="427" r="1.25"/><circle cx="386.71" cy="427" r="1.25"/><circle cx="387.06" cy="427" r="1.25"/><circle cx="387.42" cy="427" r="1.25"/><circle cx="387.78" cy="427" r="1.25"/><circle cx="388.14" cy="427" r="1.25"/><circle cx="388.5" cy="427" r="1.25"/><circle cx="388.86" cy="427" r="1.25"/><circle cx="389.22" cy="427" r="1.25"/><circle cx="389.57" cy="427" r="1.25"/><circle cx="389.93" cy="427" r="1.25"/><circle cx="390.29" cy="427" r="1.25"/><circle cx="390.65" cy="427" r="1.25"/><circle cx="391.01" cy="427" r="1.25"/><circle cx="391.37" cy="427" r="1.25"/><circle cx="391.73" cy="427" r="1.25"/><circle cx="392.08" cy="427" r="1.25"/><circle cx="392.44" cy="427" r="1.25"/><circle cx="392.8" cy="427" r="1.25"/><circle cx="393.16" cy="427" r="1.25"/><circle cx="393.52" cy="427" r="1.25"/><circle cx="393.88" cy="427" r="1.25"/><circle cx="394.23" cy="427" r="1.25"/><circle cx="394.59" cy="427" r="1.25"/><circle cx="394.95" cy="427" r="1.25"/><circle cx="395.31" cy="427" r="1.25"/><circle cx="395.67" cy="427" r="1.25"/><circle cx="396.03" cy="427" r="1.25"/><circle cx="396.39" cy="427" r="1.25"/><circle cx="396.74" cy="427" r="1.25"/><circle cx="397.1" cy="427" r="1.25"/><circle cx="397.46" cy="427" r="1.25"/><circle cx="397.82" cy="427" r="1.25"/><circle cx="398.18" cy="427" r="1.25"/><circle cx="398.54" cy="427" r="1.25"/><circle cx="398.89" cy="427" r="1.25"/><circle cx="399.25" cy="427" r="1.25"/><circle cx="399.61" cy="427" r="1.25"/><circle cx="399.97" cy="427" r="1.25"/><circle cx="400.33" cy="427" r="1.25"/><circle cx="400.69" cy="427" r="1.25"/><circle cx="401.05" cy="427" r="1.25"/><circle cx="401.4" cy="427" r="1.25"/><circle cx="401.76" cy="427" r="1.25"/><circle cx="402.12" cy="427" r="1.25"/><circle cx="402.48" cy="427" r="1.25"/><circle cx="402.84" cy="427" r="1.25"/><circle cx="403.2" cy="427" r="1.25"/><circle cx="403.56" cy="427" r="1.25"/><circle cx="403.91" cy="427" r="1.25"/><circle cx="404.27" cy="427" r="1.25"/><circle cx="404.63" cy="427" r="1.25"/><circle cx="404.99" cy="427" r="1.25"/><circle cx="405.35" cy="427" r="1.25"/><circle cx="405.71" cy="427" r="1.25"/><circle cx="406.06" cy="427" r="1.25"/><circle cx="406.42" cy="427" r="1.25"/><circle cx="406.78" cy="427" r="1.25"/><circle cx="407.14" cy="427" r="1.25"/><circle cx="407.5" cy="427" r="1.25"/><circle cx="407.86" cy="427" r="1.25"/><circle cx="408.22" cy="427" r="1.25"/><circle cx="408.57" cy="427" r="1.25"/><circle cx="408.93" cy="427" r="1.25"/><circle cx="409.29" cy="427" r="1.25"/><circle cx="409.65" cy="427" r="1.25"/><circle cx="410.01" cy="427" r="1.25"/><circle cx="410.37" cy="427" r="1.25"/><circle cx="410.73" cy="427" r="1.25"/><circle cx="411.08" cy="427" r="1.25"/><circle cx="411.44" cy="427" r="1.25"/><circle cx="411.8" cy="427" r="1.25"/><circle cx="412.16" cy="427" r="1.25"/><circle cx="412.52" cy="427" r="1.25"/><circle cx="412.88" cy="427" r="1.25"/><circle cx="413.24" cy="427" r="1.25"/><circle cx="413.59" cy="427" r="1.25"/><circle cx="413.95" cy="427" r="1.25"/><circle cx="414.31" cy="427" r="1.25"/><circle cx="414.67" cy="427" r="1.25"/><circle cx="415.03" cy="427" r="1.25"/><circle cx="415.39" cy="427" r="1.25"/><circle cx="415.74" cy="427" r="1.25"/><circle cx="416.1" cy="427" r="1.25"/><circle cx="416.46" cy="427" r="1.25"/><circle cx="416.82" cy="427" r="1.25"/><circle cx="417.18" cy="427" r="1.25"/><circle cx="417.54" cy="427" r="1.25"/><circle cx="417.9" cy="427" r="1.25"/><circle cx="418.25" cy="427" r="1.25"/><circle cx="418.61" cy="427" r="1.25"/><circle cx="418.97" cy="427" r="1.25"/><circle cx="419.33" cy="427" r="1.25"/><circle cx="419.69" cy="427" r="1.25"/><circle cx="420.05" cy="427" r="1.25"/><circle cx="420.4" cy="427" r="1.25"/><circle cx="420.76" cy="427" r="1.25"/><circle cx="421.12" cy="427" r="1.25"/><circle cx="421.48" cy="427" r="1.25"/><circle cx="421.84" cy="427" r="1.25"/><circle cx="422.2" cy="427" r="1.25"/><circle cx="422.56" cy="427" r="1.25"/><circle cx="422.91" cy="427" r="1.25"/><circle cx="423.27" cy="427" r="1.25"/><circle cx="423.63" cy="427" r="1.25"/><circle cx="423.99" cy="427" r="1.25"/><circle cx="424.35" cy="427" r="1.25"/><circle cx="424.71" cy="427" r="1.25"/><circle cx="425.07" cy="427" r="1.25"/><circle cx="425.42" cy="427" r="1.25"/><circle cx="425.78" cy="427" r="1.25"/><circle cx="426.14" cy="427" r="1.25"/><circle cx="426.5" cy="427" r="1.25"/><circle cx="426.86" cy="427" r="1.25"/><circle cx="427.22" cy="427" r="1.25"/><circle cx="427.57" cy="427" r="1.25"/><circle cx="427.93" cy="427" r="1.25"/><circle cx="428.29" cy="427" r="1.25"/><circle cx="428.65" cy="427" r="1.25"/><circle cx="429.01" cy="427" r="1.25"/><circle cx="429.37" cy="427" r="1.25"/><circle cx="429.73" cy="427" r="1.25"/><circle cx="430.08" cy="427" r="1.25"/><circle cx="430.44" cy="427" r="1.25"/><circle cx="430.8" cy="427" r="1.25"/><circle cx="431.16" cy="427" r="1.25"/><circle cx="431.52" cy="427" r="1.25"/><circle cx="431.88" cy="427" r="1.25"/><circle cx="432.24" cy="427" r="1.25"/><circle cx="432.59" cy="427" r="1.25"/><circle cx="432.95" cy="427" r="1.25"/><circle cx="433.31" cy="427" r="1.25"/><circle cx="433.67" cy="427" r="1.25"/><circle cx="434.03" cy="427" r="1.25"/><circle cx="434.39" cy="427" r="1.25"/><circle cx="434.75" cy="427" r="1.25"/><circle cx="435.1" cy="427" r="1.25"/><circle cx="435.46" cy="427" r="1.25"/><circle cx="435.82" cy="427" r="1.25"/><circle cx="436.18" cy="427" r="1.25"/><circle cx="436.54" cy="427" r="1.25"/><circle cx="436.9" cy="427" r="1.25"/><circle cx="437.25" cy="427" r="1.25"/><circle cx="437.61" cy="427" r="1.25"/><circle cx="437.97" cy="427" r="1.25"/><circle cx="438.33" cy="427" r="1.25"/><circle cx="438.69" cy="427" r="1.25"/><circle cx="439.05" cy="427" r="1.25"/><circle cx="439.41" cy="427" r="1.25"/><circle cx="439.76" cy="427" r="1.25"/><circle cx="440.12" cy="427" r="1.25"/><circle cx="440.48" cy="427" r="1.25"/><circle cx="440.84" cy="427" r="1.25"/><circle cx="441.2" cy="427" r="1.25"/><circle cx="441.56" cy="427" r="1.25"/><circle cx="441.91" cy="427" r="1.25"/><circle cx="442.27" cy="427" r="1.25"/><circle cx="442.63" cy="427" r="1.25"/><circle cx="442.99" cy="427" r="1.25"/><circle cx="443.35" cy="427" r="1.25"/><circle cx="443.71" cy="427" r="1.25"/><circle cx="444.07" cy="427" r="1.25"/><circle cx="444.42" cy="427" r="1.25"/><circle cx="444.78" cy="427" r="1.25"/><circle cx="445.14" cy="427" r="1.25"/><circle cx="445.5" cy="427" r="1.25"/>
</g>
</g>
<g>
<rect x="462.2" y="235" width="196.5" height="201" fill="#ebebeb"/>
<path d="M462.2 404.15h196.5M462.2 358.45h196.5M462.2 312.75h196.5M462.2 267.05h196.5M488.77 235v201M524.62 235v201M560.47 235v201M596.32 235v201M632.17 235v201" stroke="#fff" stroke-width="0.8" fill="none"/>
<path d="M462.2 427h196.5M462.2 381.3h196.5M462.2 335.6h196.5M462.2 289.9h196.5M462.2 244.2h196.5M470.85 235v201M506.7 235v201M542.55 235v201M578.4 235v201M614.25 235v201M650.1 235v201" stroke="#fff" stroke-width="1.55" fill="none"/>
<path d="M471.21 427 L556.17 427 L556.17 244.2 L606.36 244.2 L606.36 427 L650.1 427" stroke="#00ff00" stroke-width="1.45" fill="none" stroke-linejoin="miter"/>
<path d="M471.21 425.35 471.57 425.35 471.93 425.35 472.28 425.35 472.64 425.35 473 425.35 473.36 425.35 473.72 425.35 474.08 425.35 474.43 425.35 474.79 425.35 475.15 425.35 475.51 425.35 475.87 425.35 476.23 425.35 476.59 425.35 476.94 427 477.3 427 477.66 427 478.02 427 478.38 427 478.74 427 479.1 427 479.45 427 479.81 427 480.17 427 480.53 427 480.89 427 481.25 427 481.6 427 481.96 427 482.32 427 482.68 427 483.04 427 483.4 427 483.76 427 484.11 427 484.47 427 484.83 427 485.19 427 485.55 427 485.91 427 486.27 427 486.62 427 486.98 427 487.34 427 487.7 427 488.06 427 488.42 427 488.77 427 489.13 425.35 489.49 425.35 489.85 425.35 490.21 425.35 490.57 425.35 490.93 425.35 491.28 425.35 491.64 425.35 492 425.35 492.36 425.35 492.72 425.35 493.08 425.35 493.44 425.35 493.79 425.35 494.15 425.35 494.51 423.71 494.87 423.71 495.23 423.71 495.59 423.71 495.94 423.71 496.3 423.71 496.66 423.71 497.02 423.71 497.38 422.06 497.74 422.06 498.1 422.06 498.45 422.06 498.81 422.06 499.17 422.06 499.53 422.06 499.89 422.06 500.25 422.06 500.61 420.42 500.96 420.42 501.32 420.42 501.68 420.42 502.04 420.42 502.4 420.42 502.76 420.42 503.11 420.42 503.47 420.42 503.83 420.42 504.19 420.42 504.55 420.42 504.91 420.42 505.27 420.42 505.62 420.42 505.98 420.42 506.34 420.42 506.7 420.42 507.06 420.42 507.42 420.42 507.78 420.42 508.13 420.42 508.49 420.42 508.85 420.42 509.21 420.42 509.57 420.42 509.93 420.42 510.28 420.42 510.64 420.42 511 420.42 511.36 420.42 511.72 420.42 512.08 420.42 512.44 420.42 512.79 420.42 513.15 420.42 513.51 420.42 513.87 420.42 514.23 420.42 514.59 420.42 514.95 418.77 515.3 417.13 515.66 415.48 516.02 415.48 516.38 415.48 516.74 415.48 517.1 413.84 517.45 413.84 517.81 413.84 518.17 413.84 518.53 413.84 518.89 412.19 519.25 412.19 519.61 412.19 519.96 412.19 520.32 410.55 520.68 410.55 521.04 408.9 521.4 408.9 521.76 408.9 522.12 408.9 522.47 407.26 522.83 408.9 523.19 408.9 523.55 408.9 523.91 408.9 524.27 408.9 524.62 408.9 524.98 410.55 525.34 408.9 525.7 408.9 526.06 408.9 526.42 408.9 526.78 410.55 527.13 410.55 527.49 410.55 527.85 410.55 528.21 410.55 528.57 410.55 528.93 410.55 529.29 410.55 529.64 410.55 530 410.55 530.36 410.55 530.72 410.55 531.08 410.55 531.44 410.55 531.79 410.55 532.15 410.55 532.51 412.19 532.87 412.19 533.23 412.19 533.59 412.19 533.95 413.84 534.3 413.84 534.66 412.19 535.02 412.19 535.38 410.55 535.74 410.55 536.1 408.9 536.46 408.9 536.81 407.26 537.17 405.61 537.53 405.61 537.89 405.61 538.25 405.61 538.61 405.61 538.96 403.97 539.32 403.97 539.68 403.97 540.04 403.97 540.4 403.97 540.76 405.61 541.12 403.97 541.47 403.97 541.83 402.32 542.19 403.97 542.55 402.32 542.91 399.03 543.27 397.39 543.63 395.74 543.98 395.74 544.34 394.1 544.7 394.1 545.06 394.1 545.42 394.1 545.78 392.45 546.13 387.52 546.49 382.58 546.85 374.35 547.21 374.35 547.57 371.06 547.93 367.77 548.29 364.48 548.64 359.55 549 356.26 549.36 352.97 549.72 354.61 550.08 351.32 550.44 351.32 550.8 351.32 551.15 351.32 551.51 349.68 551.87 348.03 552.23 348.03 552.59 352.97 552.95 349.68 553.3 351.32 553.66 348.03 554.02 344.74 554.38 348.03 554.74 343.09 555.1 339.8 555.46 341.45 555.81 339.8 556.17 339.8 556.53 338.16 556.89 338.16 557.25 338.16 557.61 336.51 557.97 334.87 558.32 334.87 558.68 334.87 559.04 331.58 559.4 331.58 559.76 331.58 560.12 331.58 560.47 328.29 560.83 329.93 561.19 326.64 561.55 326.64 561.91 325 562.27 326.64 562.63 326.64 562.98 325 563.34 325 563.7 323.35 564.06 323.35 564.42 323.35 564.78 323.35 565.14 320.06 565.49 318.42 565.85 316.77 566.21 316.77 566.57 313.48 566.93 311.84 567.29 311.84 567.64 310.19 568 308.55 568.36 305.26 568.72 303.61 569.08 298.67 569.44 297.03 569.8 293.74 570.15 292.09 570.51 292.09 570.87 288.8 571.23 290.45 571.59 287.16 571.95 287.16 572.31 283.87 572.66 287.16 573.02 282.22 573.38 280.58 573.74 280.58 574.1 278.93 574.46 277.29 574.81 274 575.17 272.35 575.53 272.35 575.89 267.42 576.25 267.42 576.61 264.13 576.97 260.83 577.32 260.83 577.68 257.54 578.04 259.19 578.4 255.9 578.76 259.19 579.12 260.83 579.48 260.83 579.83 259.19 580.19 255.9 580.55 252.61 580.91 250.96 581.27 246.03 581.63 247.67 581.98 249.32 582.34 250.96 582.7 247.67 583.06 252.61 583.42 262.48 583.78 262.48 584.14 254.25 584.49 244.38 584.85 249.32 585.21 252.61 585.57 255.9 585.93 249.32 586.29 250.96 586.65 246.03 587 247.67 587.36 250.96 587.72 255.9 588.08 257.54 588.44 255.9 588.8 257.54 589.15 255.9 589.51 255.9 589.87 255.9 590.23 257.54 590.59 255.9 590.95 255.9 591.31 255.9 591.66 260.83 592.02 267.42 592.38 267.42 592.74 267.42 593.1 265.77 593.46 265.77 593.82 265.77 594.17 267.42 594.53 265.77 594.89 264.13 595.25 264.13 595.61 267.42 595.97 265.77 596.32 267.42 596.68 269.06 597.04 267.42 597.4 269.06 597.76 269.06 598.12 269.06 598.48 270.71 598.83 270.71 599.19 272.35 599.55 272.35 599.91 272.35 600.27 274 600.63 275.64 600.99 275.64 601.34 275.64 601.7 278.93 602.06 277.29 602.42 280.58 602.78 282.22 603.14 283.87 603.49 283.87 603.85 288.8 604.21 287.16 604.57 293.74 604.93 295.38 605.29 300.32 605.65 298.67 606 301.96 606.36 301.96 606.72 303.61 607.08 306.9 607.44 305.26 607.8 306.9 608.16 310.19 608.51 310.19 608.87 315.13 609.23 313.48 609.59 313.48 609.95 316.77 610.31 316.77 610.66 320.06 611.02 320.06 611.38 323.35 611.74 325 612.1 325 612.46 325 612.82 328.29 613.17 331.58 613.53 331.58 613.89 333.22 614.25 336.51 614.61 339.8 614.97 339.8 615.33 341.45 615.68 344.74 616.04 346.39 616.4 348.03 616.76 349.68 617.12 351.32 617.48 351.32 617.83 352.97 618.19 354.61 618.55 354.61 618.91 352.97 619.27 351.32 619.63 359.55 619.99 362.84 620.34 366.13 620.7 369.42 621.06 374.35 621.42 376 621.78 377.64 622.14 382.58 622.5 384.22 622.85 385.87 623.21 387.52 623.57 390.81 623.93 389.16 624.29 392.45 624.65 394.1 625 394.1 625.36 394.1 625.72 395.74 626.08 394.1 626.44 395.74 626.8 395.74 627.16 395.74 627.51 395.74 627.87 397.39 628.23 395.74 628.59 397.39 628.95 397.39 629.31 397.39 629.67 400.68 630.02 400.68 630.38 402.32 630.74 403.97 631.1 403.97 631.46 403.97 631.82 405.61 632.17 405.61 632.53 405.61 632.89 405.61 633.25 405.61 633.61 405.61 633.97 405.61 634.33 407.26 634.68 407.26 635.04 407.26 635.4 407.26 635.76 407.26 636.12 407.26 636.48 407.26 636.84 407.26 637.19 407.26 637.55 407.26 637.91 407.26 638.27 408.9 638.63 408.9 638.99 408.9 639.35 407.26 639.7 408.9 640.06 408.9 640.42 408.9 640.78 408.9 641.14 408.9 641.5 408.9 641.85 408.9 642.21 410.55 642.57 410.55 642.93 410.55 643.29 410.55 643.65 410.55 644.01 410.55 644.36 410.55 644.72 410.55 645.08 410.55 645.44 410.55 645.8 410.55 646.16 412.19 646.51 412.19 646.87 413.84 647.23 413.84 647.59 415.48 647.95 415.48 648.31 417.13 648.67 417.13 649.02 418.77 649.38 420.42 649.74 420.42 650.1 422.06" stroke="#000" stroke-width="1.5" fill="none" stroke-linejoin="round" stroke-linecap="butt"/>
<g fill="#ff0000" fill-opacity="0.5" stroke="#ff0000" stroke-opacity="0.5" stroke-width="0.9">
<circle cx="471.21" cy="427" r="1.25"/><circle cx="471.57" cy="427" r="1.25"/><circle cx="471.93" cy="427" r="1.25"/><circle cx="472.28" cy="427" r="1.25"/><circle cx="472.64" cy="427" r="1.25"/><circle cx="473" cy="427" r="1.25"/><circle cx="473.36" cy="427" r="1.25"/><circle cx="473.72" cy="427" r="1.25"/><circle cx="474.08" cy="427" r="1.25"/><circle cx="474.43" cy="427" r="1.25"/><circle cx="474.79" cy="427" r="1.25"/><circle cx="475.15" cy="427" r="1.25"/><circle cx="475.51" cy="427" r="1.25"/><circle cx="475.87" cy="427" r="1.25"/><circle cx="476.23" cy="427" r="1.25"/><circle cx="476.59" cy="427" r="1.25"/><circle cx="476.94" cy="427" r="1.25"/><circle cx="477.3" cy="427" r="1.25"/><circle cx="477.66" cy="427" r="1.25"/><circle cx="478.02" cy="427" r="1.25"/><circle cx="478.38" cy="427" r="1.25"/><circle cx="478.74" cy="427" r="1.25"/><circle cx="479.1" cy="427" r="1.25"/><circle cx="479.45" cy="427" r="1.25"/><circle cx="479.81" cy="427" r="1.25"/><circle cx="480.17" cy="427" r="1.25"/><circle cx="480.53" cy="427" r="1.25"/><circle cx="480.89" cy="427" r="1.25"/><circle cx="481.25" cy="427" r="1.25"/><circle cx="481.6" cy="427" r="1.25"/><circle cx="481.96" cy="427" r="1.25"/><circle cx="482.32" cy="427" r="1.25"/><circle cx="482.68" cy="427" r="1.25"/><circle cx="483.04" cy="427" r="1.25"/><circle cx="483.4" cy="427" r="1.25"/><circle cx="483.76" cy="427" r="1.25"/><circle cx="484.11" cy="427" r="1.25"/><circle cx="484.47" cy="427" r="1.25"/><circle cx="484.83" cy="427" r="1.25"/><circle cx="485.19" cy="427" r="1.25"/><circle cx="485.55" cy="427" r="1.25"/><circle cx="485.91" cy="427" r="1.25"/><circle cx="486.27" cy="427" r="1.25"/><circle cx="486.62" cy="427" r="1.25"/><circle cx="486.98" cy="427" r="1.25"/><circle cx="487.34" cy="427" r="1.25"/><circle cx="487.7" cy="427" r="1.25"/><circle cx="488.06" cy="427" r="1.25"/><circle cx="488.42" cy="427" r="1.25"/><circle cx="488.77" cy="427" r="1.25"/><circle cx="489.13" cy="427" r="1.25"/><circle cx="489.49" cy="427" r="1.25"/><circle cx="489.85" cy="427" r="1.25"/><circle cx="490.21" cy="427" r="1.25"/><circle cx="490.57" cy="427" r="1.25"/><circle cx="490.93" cy="427" r="1.25"/><circle cx="491.28" cy="427" r="1.25"/><circle cx="491.64" cy="427" r="1.25"/><circle cx="492" cy="427" r="1.25"/><circle cx="492.36" cy="427" r="1.25"/><circle cx="492.72" cy="427" r="1.25"/><circle cx="493.08" cy="427" r="1.25"/><circle cx="493.44" cy="427" r="1.25"/><circle cx="493.79" cy="427" r="1.25"/><circle cx="494.15" cy="427" r="1.25"/><circle cx="494.51" cy="427" r="1.25"/><circle cx="494.87" cy="427" r="1.25"/><circle cx="495.23" cy="427" r="1.25"/><circle cx="495.59" cy="427" r="1.25"/><circle cx="495.94" cy="427" r="1.25"/><circle cx="496.3" cy="427" r="1.25"/><circle cx="496.66" cy="427" r="1.25"/><circle cx="497.02" cy="427" r="1.25"/><circle cx="497.38" cy="427" r="1.25"/><circle cx="497.74" cy="427" r="1.25"/><circle cx="498.1" cy="427" r="1.25"/><circle cx="498.45" cy="427" r="1.25"/><circle cx="498.81" cy="427" r="1.25"/><circle cx="499.17" cy="427" r="1.25"/><circle cx="499.53" cy="427" r="1.25"/><circle cx="499.89" cy="427" r="1.25"/><circle cx="500.25" cy="427" r="1.25"/><circle cx="500.61" cy="427" r="1.25"/><circle cx="500.96" cy="427" r="1.25"/><circle cx="501.32" cy="427" r="1.25"/><circle cx="501.68" cy="427" r="1.25"/><circle cx="502.04" cy="427" r="1.25"/><circle cx="502.4" cy="427" r="1.25"/><circle cx="502.76" cy="427" r="1.25"/><circle cx="503.11" cy="427" r="1.25"/><circle cx="503.47" cy="427" r="1.25"/><circle cx="503.83" cy="427" r="1.25"/><circle cx="504.19" cy="427" r="1.25"/><circle cx="504.55" cy="427" r="1.25"/><circle cx="504.91" cy="427" r="1.25"/><circle cx="505.27" cy="427" r="1.25"/><circle cx="505.62" cy="427" r="1.25"/><circle cx="505.98" cy="427" r="1.25"/><circle cx="506.34" cy="427" r="1.25"/><circle cx="506.7" cy="427" r="1.25"/><circle cx="507.06" cy="427" r="1.25"/><circle cx="507.42" cy="427" r="1.25"/><circle cx="507.78" cy="427" r="1.25"/><circle cx="508.13" cy="427" r="1.25"/><circle cx="508.49" cy="427" r="1.25"/><circle cx="508.85" cy="427" r="1.25"/><circle cx="509.21" cy="427" r="1.25"/><circle cx="509.57" cy="427" r="1.25"/><circle cx="509.93" cy="427" r="1.25"/><circle cx="510.28" cy="427" r="1.25"/><circle cx="510.64" cy="427" r="1.25"/><circle cx="511" cy="427" r="1.25"/><circle cx="511.36" cy="427" r="1.25"/><circle cx="511.72" cy="427" r="1.25"/><circle cx="512.08" cy="427" r="1.25"/><circle cx="512.44" cy="427" r="1.25"/><circle cx="512.79" cy="427" r="1.25"/><circle cx="513.15" cy="427" r="1.25"/><circle cx="513.51" cy="427" r="1.25"/><circle cx="513.87" cy="427" r="1.25"/><circle cx="514.23" cy="427" r="1.25"/><circle cx="514.59" cy="427" r="1.25"/><circle cx="514.95" cy="427" r="1.25"/><circle cx="515.3" cy="427" r="1.25"/><circle cx="515.66" cy="427" r="1.25"/><circle cx="516.02" cy="427" r="1.25"/><circle cx="516.38" cy="427" r="1.25"/><circle cx="516.74" cy="427" r="1.25"/><circle cx="517.1" cy="427" r="1.25"/><circle cx="517.45" cy="427" r="1.25"/><circle cx="517.81" cy="427" r="1.25"/><circle cx="518.17" cy="427" r="1.25"/><circle cx="518.53" cy="427" r="1.25"/><circle cx="518.89" cy="427" r="1.25"/><circle cx="519.25" cy="427" r="1.25"/><circle cx="519.61" cy="427" r="1.25"/><circle cx="519.96" cy="427" r="1.25"/><circle cx="520.32" cy="427" r="1.25"/><circle cx="520.68" cy="427" r="1.25"/><circle cx="521.04" cy="427" r="1.25"/><circle cx="521.4" cy="427" r="1.25"/><circle cx="521.76" cy="427" r="1.25"/><circle cx="522.12" cy="427" r="1.25"/><circle cx="522.47" cy="427" r="1.25"/><circle cx="522.83" cy="427" r="1.25"/><circle cx="523.19" cy="427" r="1.25"/><circle cx="523.55" cy="427" r="1.25"/><circle cx="523.91" cy="427" r="1.25"/><circle cx="524.27" cy="427" r="1.25"/><circle cx="524.62" cy="427" r="1.25"/><circle cx="524.98" cy="427" r="1.25"/><circle cx="525.34" cy="427" r="1.25"/><circle cx="525.7" cy="427" r="1.25"/><circle cx="526.06" cy="427" r="1.25"/><circle cx="526.42" cy="427" r="1.25"/><circle cx="526.78" cy="427" r="1.25"/><circle cx="527.13" cy="427" r="1.25"/><circle cx="527.49" cy="427" r="1.25"/><circle cx="527.85" cy="427" r="1.25"/><circle cx="528.21" cy="427" r="1.25"/><circle cx="528.57" cy="427" r="1.25"/><circle cx="528.93" cy="427" r="1.25"/><circle cx="529.29" cy="427" r="1.25"/><circle cx="529.64" cy="427" r="1.25"/><circle cx="530" cy="427" r="1.25"/><circle cx="530.36" cy="427" r="1.25"/><circle cx="530.72" cy="427" r="1.25"/><circle cx="531.08" cy="427" r="1.25"/><circle cx="531.44" cy="427" r="1.25"/><circle cx="531.79" cy="427" r="1.25"/><circle cx="532.15" cy="427" r="1.25"/><circle cx="532.51" cy="427" r="1.25"/><circle cx="532.87" cy="427" r="1.25"/><circle cx="533.23" cy="427" r="1.25"/><circle cx="533.59" cy="427" r="1.25"/><circle cx="533.95" cy="427" r="1.25"/><circle cx="534.3" cy="427" r="1.25"/><circle cx="534.66" cy="427" r="1.25"/><circle cx="535.02" cy="427" r="1.25"/><circle cx="535.38" cy="427" r="1.25"/><circle cx="535.74" cy="427" r="1.25"/><circle cx="536.1" cy="427" r="1.25"/><circle cx="536.46" cy="427" r="1.25"/><circle cx="536.81" cy="427" r="1.25"/><circle cx="537.17" cy="427" r="1.25"/><circle cx="537.53" cy="427" r="1.25"/><circle cx="537.89" cy="427" r="1.25"/><circle cx="538.25" cy="427" r="1.25"/><circle cx="538.61" cy="427" r="1.25"/><circle cx="538.96" cy="427" r="1.25"/><circle cx="539.32" cy="427" r="1.25"/><circle cx="539.68" cy="427" r="1.25"/><circle cx="540.04" cy="427" r="1.25"/><circle cx="540.4" cy="427" r="1.25"/><circle cx="540.76" cy="427" r="1.25"/><circle cx="541.12" cy="427" r="1.25"/><circle cx="541.47" cy="427" r="1.25"/><circle cx="541.83" cy="427" r="1.25"/><circle cx="542.19" cy="427" r="1.25"/><circle cx="542.55" cy="427" r="1.25"/><circle cx="542.91" cy="427" r="1.25"/><circle cx="543.27" cy="427" r="1.25"/><circle cx="543.63" cy="427" r="1.25"/><circle cx="543.98" cy="427" r="1.25"/><circle cx="544.34" cy="427" r="1.25"/><circle cx="544.7" cy="427" r="1.25"/><circle cx="545.06" cy="427" r="1.25"/><circle cx="545.42" cy="427" r="1.25"/><circle cx="545.78" cy="427" r="1.25"/><circle cx="546.13" cy="427" r="1.25"/><circle cx="546.49" cy="427" r="1.25"/><circle cx="546.85" cy="427" r="1.25"/><circle cx="547.21" cy="427" r="1.25"/><circle cx="547.57" cy="427" r="1.25"/><circle cx="547.93" cy="427" r="1.25"/><circle cx="548.29" cy="427" r="1.25"/><circle cx="548.64" cy="426.38" r="1.25"/><circle cx="549" cy="425.76" r="1.25"/><circle cx="549.36" cy="425.14" r="1.25"/><circle cx="549.72" cy="424.51" r="1.25"/><circle cx="550.08" cy="423.89" r="1.25"/><circle cx="550.44" cy="423.02" r="1.25"/><circle cx="550.8" cy="422.16" r="1.25"/><circle cx="551.15" cy="421.29" r="1.25"/><circle cx="551.51" cy="420.42" r="1.25"/><circle cx="551.87" cy="419.44" r="1.25"/><circle cx="552.23" cy="418.47" r="1.25"/><circle cx="552.59" cy="417.49" r="1.25"/><circle cx="552.95" cy="408.85" r="1.25"/><circle cx="553.3" cy="408.9" r="1.25"/><circle cx="553.66" cy="407.18" r="1.25"/><circle cx="554.02" cy="408.56" r="1.25"/><circle cx="554.38" cy="403.65" r="1.25"/><circle cx="554.74" cy="402.03" r="1.25"/><circle cx="555.1" cy="402.83" r="1.25"/><circle cx="555.46" cy="400.05" r="1.25"/><circle cx="555.81" cy="404.73" r="1.25"/><circle cx="556.17" cy="349.64" r="1.25"/><circle cx="556.53" cy="348.4" r="1.25"/><circle cx="556.89" cy="344.28" r="1.25"/><circle cx="557.25" cy="340.17" r="1.25"/><circle cx="557.61" cy="331.94" r="1.25"/><circle cx="557.97" cy="325.43" r="1.25"/><circle cx="558.32" cy="320.06" r="1.25"/><circle cx="558.68" cy="316.86" r="1.25"/><circle cx="559.04" cy="313.66" r="1.25"/><circle cx="559.4" cy="309.75" r="1.25"/><circle cx="559.76" cy="275.28" r="1.25"/><circle cx="560.12" cy="269.97" r="1.25"/><circle cx="560.47" cy="264.87" r="1.25"/><circle cx="560.83" cy="260.65" r="1.25"/><circle cx="561.19" cy="259.28" r="1.25"/><circle cx="561.55" cy="257.91" r="1.25"/><circle cx="561.91" cy="255.05" r="1.25"/><circle cx="562.27" cy="253.04" r="1.25"/><circle cx="562.63" cy="252.27" r="1.25"/><circle cx="562.98" cy="251.51" r="1.25"/><circle cx="563.34" cy="249.68" r="1.25"/><circle cx="563.7" cy="247.86" r="1.25"/><circle cx="564.06" cy="246.9" r="1.25"/><circle cx="564.42" cy="246.82" r="1.25"/><circle cx="564.78" cy="246.74" r="1.25"/><circle cx="565.14" cy="246.66" r="1.25"/><circle cx="565.49" cy="246.58" r="1.25"/><circle cx="565.85" cy="246.5" r="1.25"/><circle cx="566.21" cy="246.43" r="1.25"/><circle cx="566.57" cy="246.35" r="1.25"/><circle cx="566.93" cy="246.27" r="1.25"/><circle cx="567.29" cy="246.19" r="1.25"/><circle cx="567.64" cy="246.11" r="1.25"/><circle cx="568" cy="246.03" r="1.25"/><circle cx="568.36" cy="245.91" r="1.25"/><circle cx="568.72" cy="245.78" r="1.25"/><circle cx="569.08" cy="245.66" r="1.25"/><circle cx="569.44" cy="245.54" r="1.25"/><circle cx="569.8" cy="245.42" r="1.25"/><circle cx="570.15" cy="245.3" r="1.25"/><circle cx="570.51" cy="245.17" r="1.25"/><circle cx="570.87" cy="245.05" r="1.25"/><circle cx="571.23" cy="244.93" r="1.25"/><circle cx="571.59" cy="244.81" r="1.25"/><circle cx="571.95" cy="244.69" r="1.25"/><circle cx="572.31" cy="244.57" r="1.25"/><circle cx="572.66" cy="244.44" r="1.25"/><circle cx="573.02" cy="244.32" r="1.25"/><circle cx="573.38" cy="244.2" r="1.25"/><circle cx="573.74" cy="244.2" r="1.25"/><circle cx="574.1" cy="244.2" r="1.25"/><circle cx="574.46" cy="244.2" r="1.25"/><circle cx="574.81" cy="244.2" r="1.25"/><circle cx="575.17" cy="244.2" r="1.25"/><circle cx="575.53" cy="244.2" r="1.25"/><circle cx="575.89" cy="244.2" r="1.25"/><circle cx="576.25" cy="244.2" r="1.25"/><circle cx="576.61" cy="244.2" r="1.25"/><circle cx="576.97" cy="244.2" r="1.25"/><circle cx="577.32" cy="244.2" r="1.25"/><circle cx="577.68" cy="244.2" r="1.25"/><circle cx="578.04" cy="244.2" r="1.25"/><circle cx="578.4" cy="244.2" r="1.25"/><circle cx="578.76" cy="244.2" r="1.25"/><circle cx="579.12" cy="244.2" r="1.25"/><circle cx="579.48" cy="244.2" r="1.25"/><circle cx="579.83" cy="244.2" r="1.25"/><circle cx="580.19" cy="244.2" r="1.25"/><circle cx="580.55" cy="244.2" r="1.25"/><circle cx="580.91" cy="244.2" r="1.25"/><circle cx="581.27" cy="244.2" r="1.25"/><circle cx="581.63" cy="244.2" r="1.25"/><circle cx="581.98" cy="244.2" r="1.25"/><circle cx="582.34" cy="244.2" r="1.25"/><circle cx="582.7" cy="244.2" r="1.25"/><circle cx="583.06" cy="244.2" r="1.25"/><circle cx="583.42" cy="244.2" r="1.25"/><circle cx="583.78" cy="244.2" r="1.25"/><circle cx="584.14" cy="244.2" r="1.25"/><circle cx="584.49" cy="244.2" r="1.25"/><circle cx="584.85" cy="244.2" r="1.25"/><circle cx="585.21" cy="244.2" r="1.25"/><circle cx="585.57" cy="244.2" r="1.25"/><circle cx="585.93" cy="244.2" r="1.25"/><circle cx="586.29" cy="244.2" r="1.25"/><circle cx="586.65" cy="244.2" r="1.25"/><circle cx="587" cy="244.2" r="1.25"/><circle cx="587.36" cy="244.2" r="1.25"/><circle cx="587.72" cy="244.2" r="1.25"/><circle cx="588.08" cy="244.2" r="1.25"/><circle cx="588.44" cy="244.2" r="1.25"/><circle cx="588.8" cy="244.2" r="1.25"/><circle cx="589.15" cy="244.2" r="1.25"/><circle cx="589.51" cy="244.2" r="1.25"/><circle cx="589.87" cy="244.2" r="1.25"/><circle cx="590.23" cy="244.2" r="1.25"/><circle cx="590.59" cy="244.2" r="1.25"/><circle cx="590.95" cy="244.2" r="1.25"/><circle cx="591.31" cy="244.2" r="1.25"/><circle cx="591.66" cy="244.2" r="1.25"/><circle cx="592.02" cy="244.2" r="1.25"/><circle cx="592.38" cy="244.2" r="1.25"/><circle cx="592.74" cy="244.2" r="1.25"/><circle cx="593.1" cy="244.2" r="1.25"/><circle cx="593.46" cy="244.2" r="1.25"/><circle cx="593.82" cy="244.2" r="1.25"/><circle cx="594.17" cy="244.2" r="1.25"/><circle cx="594.53" cy="244.2" r="1.25"/><circle cx="594.89" cy="244.2" r="1.25"/><circle cx="595.25" cy="244.2" r="1.25"/><circle cx="595.61" cy="244.2" r="1.25"/><circle cx="595.97" cy="244.2" r="1.25"/><circle cx="596.32" cy="244.2" r="1.25"/><circle cx="596.68" cy="244.2" r="1.25"/><circle cx="597.04" cy="244.2" r="1.25"/><circle cx="597.4" cy="244.2" r="1.25"/><circle cx="597.76" cy="244.2" r="1.25"/><circle cx="598.12" cy="244.2" r="1.25"/><circle cx="598.48" cy="245.11" r="1.25"/><circle cx="598.83" cy="246.03" r="1.25"/><circle cx="599.19" cy="250.11" r="1.25"/><circle cx="599.55" cy="253.72" r="1.25"/><circle cx="599.91" cy="256.23" r="1.25"/><circle cx="600.27" cy="258.56" r="1.25"/><circle cx="600.63" cy="260.65" r="1.25"/><circle cx="600.99" cy="264.31" r="1.25"/><circle cx="601.34" cy="269.79" r="1.25"/><circle cx="601.7" cy="275.28" r="1.25"/><circle cx="602.06" cy="278.93" r="1.25"/><circle cx="602.42" cy="291.73" r="1.25"/><circle cx="602.78" cy="311.84" r="1.25"/><circle cx="603.14" cy="355.71" r="1.25"/><circle cx="603.49" cy="380.26" r="1.25"/><circle cx="603.85" cy="386.78" r="1.25"/><circle cx="604.21" cy="390.44" r="1.25"/><circle cx="604.57" cy="397.75" r="1.25"/><circle cx="604.93" cy="402.14" r="1.25"/><circle cx="605.29" cy="406.53" r="1.25"/><circle cx="605.65" cy="410.64" r="1.25"/><circle cx="606" cy="413.72" r="1.25"/><circle cx="606.36" cy="416.03" r="1.25"/><circle cx="606.72" cy="418.23" r="1.25"/><circle cx="607.08" cy="420.42" r="1.25"/><circle cx="607.44" cy="420.92" r="1.25"/><circle cx="607.8" cy="421.42" r="1.25"/><circle cx="608.16" cy="421.93" r="1.25"/><circle cx="608.51" cy="422.43" r="1.25"/><circle cx="608.87" cy="422.83" r="1.25"/><circle cx="609.23" cy="423.22" r="1.25"/><circle cx="609.59" cy="423.62" r="1.25"/><circle cx="609.95" cy="424.01" r="1.25"/><circle cx="610.31" cy="424.41" r="1.25"/><circle cx="610.66" cy="424.81" r="1.25"/><circle cx="611.02" cy="425.08" r="1.25"/><circle cx="611.38" cy="425.35" r="1.25"/><circle cx="611.74" cy="425.63" r="1.25"/><circle cx="612.1" cy="425.9" r="1.25"/><circle cx="612.46" cy="426.18" r="1.25"/><circle cx="612.82" cy="426.45" r="1.25"/><circle cx="613.17" cy="426.73" r="1.25"/><circle cx="613.53" cy="427" r="1.25"/><circle cx="613.89" cy="427" r="1.25"/><circle cx="614.25" cy="427" r="1.25"/><circle cx="614.61" cy="427" r="1.25"/><circle cx="614.97" cy="427" r="1.25"/><circle cx="615.33" cy="427" r="1.25"/><circle cx="615.68" cy="427" r="1.25"/><circle cx="616.04" cy="427" r="1.25"/><circle cx="616.4" cy="427" r="1.25"/><circle cx="616.76" cy="427" r="1.25"/><circle cx="617.12" cy="427" r="1.25"/><circle cx="617.48" cy="427" r="1.25"/><circle cx="617.83" cy="427" r="1.25"/><circle cx="618.19" cy="427" r="1.25"/><circle cx="618.55" cy="427" r="1.25"/><circle cx="618.91" cy="427" r="1.25"/><circle cx="619.27" cy="427" r="1.25"/><circle cx="619.63" cy="427" r="1.25"/><circle cx="619.99" cy="427" r="1.25"/><circle cx="620.34" cy="427" r="1.25"/><circle cx="620.7" cy="427" r="1.25"/><circle cx="621.06" cy="427" r="1.25"/><circle cx="621.42" cy="427" r="1.25"/><circle cx="621.78" cy="427" r="1.25"/><circle cx="622.14" cy="427" r="1.25"/><circle cx="622.5" cy="427" r="1.25"/><circle cx="622.85" cy="427" r="1.25"/><circle cx="623.21" cy="427" r="1.25"/><circle cx="623.57" cy="427" r="1.25"/><circle cx="623.93" cy="427" r="1.25"/><circle cx="624.29" cy="427" r="1.25"/><circle cx="624.65" cy="427" r="1.25"/><circle cx="625" cy="427" r="1.25"/><circle cx="625.36" cy="427" r="1.25"/><circle cx="625.72" cy="427" r="1.25"/><circle cx="626.08" cy="427" r="1.25"/><circle cx="626.44" cy="427" r="1.25"/><circle cx="626.8" cy="427" r="1.25"/><circle cx="627.16" cy="427" r="1.25"/><circle cx="627.51" cy="427" r="1.25"/><circle cx="627.87" cy="427" r="1.25"/><circle cx="628.23" cy="427" r="1.25"/><circle cx="628.59" cy="427" r="1.25"/><circle cx="628.95" cy="427" r="1.25"/><circle cx="629.31" cy="427" r="1.25"/><circle cx="629.67" cy="427" r="1.25"/><circle cx="630.02" cy="427" r="1.25"/><circle cx="630.38" cy="427" r="1.25"/><circle cx="630.74" cy="427" r="1.25"/><circle cx="631.1" cy="427" r="1.25"/><circle cx="631.46" cy="427" r="1.25"/><circle cx="631.82" cy="427" r="1.25"/><circle cx="632.17" cy="427" r="1.25"/><circle cx="632.53" cy="427" r="1.25"/><circle cx="632.89" cy="427" r="1.25"/><circle cx="633.25" cy="427" r="1.25"/><circle cx="633.61" cy="427" r="1.25"/><circle cx="633.97" cy="427" r="1.25"/><circle cx="634.33" cy="427" r="1.25"/><circle cx="634.68" cy="427" r="1.25"/><circle cx="635.04" cy="427" r="1.25"/><circle cx="635.4" cy="427" r="1.25"/><circle cx="635.76" cy="427" r="1.25"/><circle cx="636.12" cy="427" r="1.25"/><circle cx="636.48" cy="427" r="1.25"/><circle cx="636.84" cy="427" r="1.25"/><circle cx="637.19" cy="427" r="1.25"/><circle cx="637.55" cy="427" r="1.25"/><circle cx="637.91" cy="427" r="1.25"/><circle cx="638.27" cy="427" r="1.25"/><circle cx="638.63" cy="427" r="1.25"/><circle cx="638.99" cy="427" r="1.25"/><circle cx="639.35" cy="427" r="1.25"/><circle cx="639.7" cy="427" r="1.25"/><circle cx="640.06" cy="427" r="1.25"/><circle cx="640.42" cy="427" r="1.25"/><circle cx="640.78" cy="427" r="1.25"/><circle cx="641.14" cy="427" r="1.25"/><circle cx="641.5" cy="427" r="1.25"/><circle cx="641.85" cy="427" r="1.25"/><circle cx="642.21" cy="427" r="1.25"/><circle cx="642.57" cy="427" r="1.25"/><circle cx="642.93" cy="427" r="1.25"/><circle cx="643.29" cy="427" r="1.25"/><circle cx="643.65" cy="427" r="1.25"/><circle cx="644.01" cy="427" r="1.25"/><circle cx="644.36" cy="427" r="1.25"/><circle cx="644.72" cy="427" r="1.25"/><circle cx="645.08" cy="427" r="1.25"/><circle cx="645.44" cy="427" r="1.25"/><circle cx="645.8" cy="427" r="1.25"/><circle cx="646.16" cy="427" r="1.25"/><circle cx="646.51" cy="427" r="1.25"/><circle cx="646.87" cy="427" r="1.25"/><circle cx="647.23" cy="427" r="1.25"/><circle cx="647.59" cy="427" r="1.25"/><circle cx="647.95" cy="427" r="1.25"/><circle cx="648.31" cy="427" r="1.25"/><circle cx="648.67" cy="427" r="1.25"/><circle cx="649.02" cy="427" r="1.25"/><circle cx="649.38" cy="427" r="1.25"/><circle cx="649.74" cy="427" r="1.25"/><circle cx="650.1" cy="427" r="1.25"/>
</g>
</g>
<g>
<rect x="53" y="444" width="196.5" height="201" fill="#ebebeb"/>
<path d="M53 613.07h196.5M53 567.42h196.5M53 521.77h196.5M53 476.12h196.5M79.58 444v201M115.42 444v201M151.28 444v201M187.12 444v201M222.97 444v201" stroke="#fff" stroke-width="0.8" fill="none"/>
<path d="M53 635.9h196.5M53 590.25h196.5M53 544.6h196.5M53 498.95h196.5M53 453.3h196.5M61.65 444v201M97.5 444v201M133.35 444v201M169.2 444v201M205.05 444v201M240.9 444v201" stroke="#fff" stroke-width="1.55" fill="none"/>
<path d="M62.01 635.9 L93.91 635.9 L93.91 453.3 L122.59 453.3 L122.59 635.9 L158.44 635.9 L158.44 453.3 L187.12 453.3 L187.12 635.9 L222.97 635.9 L222.97 453.3 L240.9 453.3" stroke="#00ff00" stroke-width="1.45" fill="none" stroke-linejoin="miter"/>
<path d="M62.01 581.67 62.37 581.67 62.73 581.67 63.08 581.67 63.44 581.67 63.8 581.67 64.16 580.02 64.52 578.38 64.88 578.38 65.23 576.74 65.59 575.09 65.95 573.45 66.31 573.45 66.67 573.45 67.03 573.45 67.39 573.45 67.74 570.16 68.1 571.81 68.46 571.81 68.82 570.16 69.18 571.81 69.54 571.81 69.9 571.81 70.25 571.81 70.61 570.16 70.97 570.16 71.33 570.16 71.69 570.16 72.05 570.16 72.41 571.81 72.76 570.16 73.12 570.16 73.48 571.81 73.84 570.16 74.2 570.16 74.56 571.81 74.91 571.81 75.27 568.52 75.63 570.16 75.99 568.52 76.35 568.52 76.71 568.52 77.07 568.52 77.42 568.52 77.78 570.16 78.14 570.16 78.5 570.16 78.86 570.16 79.22 570.16 79.58 571.81 79.93 571.81 80.29 571.81 80.65 571.81 81.01 573.45 81.37 571.81 81.73 573.45 82.08 573.45 82.44 571.81 82.8 573.45 83.16 573.45 83.52 571.81 83.88 571.81 84.24 571.81 84.59 571.81 84.95 570.16 85.31 570.16 85.67 570.16 86.03 570.16 86.39 570.16 86.75 570.16 87.1 570.16 87.46 570.16 87.82 568.52 88.18 570.16 88.54 568.52 88.9 566.88 89.25 566.88 89.61 566.88 89.97 566.88 90.33 566.88 90.69 566.88 91.05 565.23 91.41 565.23 91.76 563.59 92.12 565.23 92.48 561.95 92.84 563.59 93.2 563.59 93.56 563.59 93.91 565.23 94.27 563.59 94.63 566.88 94.99 566.88 95.35 566.88 95.71 568.52 96.07 566.88 96.42 566.88 96.78 570.16 97.14 568.52 97.5 566.88 97.86 566.88 98.22 566.88 98.58 565.23 98.93 563.59 99.29 563.59 99.65 563.59 100.01 565.23 100.37 565.23 100.73 565.23 101.08 568.52 101.44 568.52 101.8 568.52 102.16 565.23 102.52 566.88 102.88 565.23 103.24 568.52 103.59 568.52 103.95 568.52 104.31 568.52 104.67 570.16 105.03 570.16 105.39 570.16 105.75 570.16 106.1 570.16 106.46 570.16 106.82 570.16 107.18 570.16 107.54 573.45 107.9 570.16 108.25 570.16 108.61 570.16 108.97 571.81 109.33 571.81 109.69 570.16 110.05 570.16 110.41 570.16 110.76 570.16 111.12 568.52 111.48 566.88 111.84 565.23 112.2 565.23 112.56 565.23 112.92 566.88 113.27 568.52 113.63 568.52 113.99 568.52 114.35 568.52 114.71 570.16 115.07 571.81 115.42 570.16 115.78 571.81 116.14 571.81 116.5 571.81 116.86 573.45 117.22 573.45 117.58 575.09 117.93 575.09 118.29 575.09 118.65 576.74 119.01 578.38 119.37 578.38 119.73 578.38 120.09 580.02 120.44 580.02 120.8 580.02 121.16 580.02 121.52 581.67 121.88 581.67 122.24 583.31 122.59 583.31 122.95 584.95 123.31 586.6 123.67 586.6 124.03 586.6 124.39 588.24 124.75 589.88 125.1 589.88 125.46 591.53 125.82 593.17 126.18 593.17 126.54 593.17 126.9 596.46 127.26 594.81 127.61 594.81 127.97 596.46 128.33 596.46 128.69 598.1 129.05 598.1 129.41 596.46 129.76 598.1 130.12 598.1 130.48 598.1 130.84 596.46 131.2 596.46 131.56 596.46 131.92 596.46 132.27 598.1 132.63 598.1 132.99 598.1 133.35 599.75 133.71 599.75 134.07 601.39 134.43 601.39 134.78 603.03 135.14 603.03 135.5 604.68 135.86 606.32 136.22 606.32 136.58 606.32 136.94 606.32 137.29 606.32 137.65 606.32 138.01 606.32 138.37 607.96 138.73 609.61 139.09 609.61 139.44 609.61 139.8 611.25 140.16 611.25 140.52 612.89 140.88 612.89 141.24 612.89 141.6 614.54 141.95 614.54 142.31 614.54 142.67 614.54 143.03 614.54 143.39 616.18 143.75 616.18 144.1 616.18 144.46 616.18 144.82 616.18 145.18 616.18 145.54 616.18 145.9 616.18 146.26 616.18 146.61 617.82 146.97 619.47 147.33 621.11 147.69 622.75 148.05 622.75 148.41 622.75 148.77 622.75 149.12 622.75 149.48 622.75 149.84 622.75 150.2 622.75 150.56 622.75 150.92 622.75 151.28 622.75 151.63 622.75 151.99 622.75 152.35 622.75 152.71 621.11 153.07 621.11 153.43 621.11 153.78 621.11 154.14 621.11 154.5 621.11 154.86 621.11 155.22 621.11 155.58 621.11 155.94 621.11 156.29 621.11 156.65 621.11 157.01 621.11 157.37 621.11 157.73 621.11 158.09 621.11 158.44 621.11 158.8 619.47 159.16 619.47 159.52 619.47 159.88 619.47 160.24 619.47 160.6 619.47 160.95 619.47 161.31 619.47 161.67 619.47 162.03 619.47 162.39 619.47 162.75 619.47 163.11 617.82 163.46 617.82 163.82 617.82 164.18 617.82 164.54 617.82 164.9 617.82 165.26 617.82 165.61 616.18 165.97 616.18 166.33 616.18 166.69 616.18 167.05 616.18 167.41 616.18 167.77 616.18 168.12 617.82 168.48 617.82 168.84 617.82 169.2 617.82 169.56 617.82 169.92 617.82 170.28 617.82 170.63 617.82 170.99 619.47 171.35 619.47 171.71 619.47 172.07 619.47 172.43 619.47 172.78 621.11 173.14 621.11 173.5 621.11 173.86 621.11 174.22 621.11 174.58 621.11 174.94 621.11 175.29 621.11 175.65 621.11 176.01 621.11 176.37 622.75 176.73 622.75 177.09 622.75 177.45 622.75 177.8 622.75 178.16 622.75 178.52 624.4 178.88 624.4 179.24 624.4 179.6 624.4 179.95 624.4 180.31 626.04 180.67 626.04 181.03 626.04 181.39 626.04 181.75 626.04 182.11 626.04 182.46 626.04 182.82 626.04 183.18 626.04 183.54 626.04 183.9 626.04 184.26 626.04 184.62 626.04 184.97 626.04 185.33 626.04 185.69 626.04 186.05 626.04 186.41 626.04 186.77 626.04 187.12 626.04 187.48 626.04 187.84 626.04 188.2 626.04 188.56 626.04 188.92 626.04 189.28 626.04 189.63 626.04 189.99 626.04 190.35 626.04 190.71 626.04 191.07 624.4 191.43 624.4 191.79 624.4 192.14 624.4 192.5 624.4 192.86 624.4 193.22 622.75 193.58 622.75 193.94 622.75 194.29 622.75 194.65 622.75 195.01 622.75 195.37 622.75 195.73 622.75 196.09 622.75 196.45 622.75 196.8 622.75 197.16 622.75 197.52 622.75 197.88 624.4 198.24 624.4 198.6 626.04 198.96 626.04 199.31 626.04 199.67 626.04 200.03 626.04 200.39 626.04 200.75 626.04 201.11 626.04 201.47 626.04 201.82 626.04 202.18 626.04 202.54 626.04 202.9 626.04 203.26 626.04 203.62 626.04 203.97 626.04 204.33 626.04 204.69 626.04 205.05 626.04 205.41 626.04 205.77 626.04 206.13 626.04 206.48 624.4 206.84 624.4 207.2 624.4 207.56 624.4 207.92 624.4 208.28 624.4 208.63 624.4 208.99 622.75 209.35 622.75 209.71 622.75 210.07 622.75 210.43 622.75 210.79 622.75 211.14 622.75 211.5 622.75 211.86 621.11 212.22 621.11 212.58 621.11 212.94 621.11 213.3 621.11 213.65 621.11 214.01 621.11 214.37 619.47 214.73 619.47 215.09 619.47 215.45 619.47 215.81 619.47 216.16 617.82 216.52 617.82 216.88 617.82 217.24 617.82 217.6 617.82 217.96 617.82 218.31 617.82 218.67 616.18 219.03 616.18 219.39 616.18 219.75 616.18 220.11 614.54 220.47 614.54 220.82 614.54 221.18 612.89 221.54 614.54 221.9 612.89 222.26 612.89 222.62 612.89 222.97 612.89 223.33 612.89 223.69 612.89 224.05 612.89 224.41 611.25 224.77 611.25 225.13 611.25 225.48 611.25 225.84 611.25 226.2 611.25 226.56 611.25 226.92 611.25 227.28 611.25 227.64 611.25 227.99 611.25 228.35 611.25 228.71 611.25 229.07 611.25 229.43 611.25 229.79 611.25 230.15 611.25 230.5 611.25 230.86 611.25 231.22 611.25 231.58 611.25 231.94 611.25 232.3 611.25 232.65 611.25 233.01 611.25 233.37 611.25 233.73 609.61 234.09 607.96 234.45 607.96 234.81 607.96 235.16 607.96 235.52 607.96 235.88 607.96 236.24 607.96 236.6 609.61 236.96 609.61 237.31 609.61 237.67 609.61 238.03 609.61 238.39 609.61 238.75 609.61 239.11 609.61 239.47 609.61 239.82 611.25 240.18 611.25 240.54 611.25 240.9 609.61" stroke="#000" stroke-width="1.5" fill="none" stroke-linejoin="round" stroke-linecap="butt"/>
<g fill="#ff0000" fill-opacity="0.5" stroke="#ff0000" stroke-opacity="0.5" stroke-width="0.9">
<circle cx="62.01" cy="577.47" r="1.25"/><circle cx="62.37" cy="573.82" r="1.25"/><circle cx="62.73" cy="570.16" r="1.25"/><circle cx="63.08" cy="567.42" r="1.25"/><circle cx="63.44" cy="563.77" r="1.25"/><circle cx="63.8" cy="555.56" r="1.25"/><circle cx="64.16" cy="552.82" r="1.25"/><circle cx="64.52" cy="546.43" r="1.25"/><circle cx="64.88" cy="540.95" r="1.25"/><circle cx="65.23" cy="530.9" r="1.25"/><circle cx="65.59" cy="523.6" r="1.25"/><circle cx="65.95" cy="518.12" r="1.25"/><circle cx="66.31" cy="514.65" r="1.25"/><circle cx="66.67" cy="513.19" r="1.25"/><circle cx="67.03" cy="511.73" r="1.25"/><circle cx="67.39" cy="509.83" r="1.25"/><circle cx="67.74" cy="507.93" r="1.25"/><circle cx="68.1" cy="505.39" r="1.25"/><circle cx="68.46" cy="502.42" r="1.25"/><circle cx="68.82" cy="499.34" r="1.25"/><circle cx="69.18" cy="495.79" r="1.25"/><circle cx="69.54" cy="492.25" r="1.25"/><circle cx="69.9" cy="488.7" r="1.25"/><circle cx="70.25" cy="485.15" r="1.25"/><circle cx="70.61" cy="481.6" r="1.25"/><circle cx="70.97" cy="478.41" r="1.25"/><circle cx="71.33" cy="475.5" r="1.25"/><circle cx="71.69" cy="473.04" r="1.25"/><circle cx="72.05" cy="470.77" r="1.25"/><circle cx="72.41" cy="468.79" r="1.25"/><circle cx="72.76" cy="466.81" r="1.25"/><circle cx="73.12" cy="465.56" r="1.25"/><circle cx="73.48" cy="464.31" r="1.25"/><circle cx="73.84" cy="463.06" r="1.25"/><circle cx="74.2" cy="462.18" r="1.25"/><circle cx="74.56" cy="461.69" r="1.25"/><circle cx="74.91" cy="461.19" r="1.25"/><circle cx="75.27" cy="460.7" r="1.25"/><circle cx="75.63" cy="460.2" r="1.25"/><circle cx="75.99" cy="460.31" r="1.25"/><circle cx="76.35" cy="460.68" r="1.25"/><circle cx="76.71" cy="461.04" r="1.25"/><circle cx="77.07" cy="461.41" r="1.25"/><circle cx="77.42" cy="461.89" r="1.25"/><circle cx="77.78" cy="462.43" r="1.25"/><circle cx="78.14" cy="462.97" r="1.25"/><circle cx="78.5" cy="463.66" r="1.25"/><circle cx="78.86" cy="464.71" r="1.25"/><circle cx="79.22" cy="465.76" r="1.25"/><circle cx="79.58" cy="466.81" r="1.25"/><circle cx="79.93" cy="468.58" r="1.25"/><circle cx="80.29" cy="470.34" r="1.25"/><circle cx="80.65" cy="472.11" r="1.25"/><circle cx="81.01" cy="473.86" r="1.25"/><circle cx="81.37" cy="479.29" r="1.25"/><circle cx="81.73" cy="485.28" r="1.25"/><circle cx="82.08" cy="477.34" r="1.25"/><circle cx="82.44" cy="475.46" r="1.25"/><circle cx="82.8" cy="476" r="1.25"/><circle cx="83.16" cy="482.79" r="1.25"/><circle cx="83.52" cy="479.61" r="1.25"/><circle cx="83.88" cy="484.32" r="1.25"/><circle cx="84.24" cy="477.61" r="1.25"/><circle cx="84.59" cy="481.02" r="1.25"/><circle cx="84.95" cy="480.49" r="1.25"/><circle cx="85.31" cy="471.39" r="1.25"/><circle cx="85.67" cy="477.67" r="1.25"/><circle cx="86.03" cy="477.5" r="1.25"/><circle cx="86.39" cy="470" r="1.25"/><circle cx="86.75" cy="473.29" r="1.25"/><circle cx="87.1" cy="482.89" r="1.25"/><circle cx="87.46" cy="470.59" r="1.25"/><circle cx="87.82" cy="479.87" r="1.25"/><circle cx="88.18" cy="477.52" r="1.25"/><circle cx="88.54" cy="476.75" r="1.25"/><circle cx="88.9" cy="469.45" r="1.25"/><circle cx="89.25" cy="475.89" r="1.25"/><circle cx="89.61" cy="471.49" r="1.25"/><circle cx="89.97" cy="474.3" r="1.25"/><circle cx="90.33" cy="470.91" r="1.25"/><circle cx="90.69" cy="477.07" r="1.25"/><circle cx="91.05" cy="472.44" r="1.25"/><circle cx="91.41" cy="475.2" r="1.25"/><circle cx="91.76" cy="477.19" r="1.25"/><circle cx="92.12" cy="472.93" r="1.25"/><circle cx="92.48" cy="470.53" r="1.25"/><circle cx="92.84" cy="472.07" r="1.25"/><circle cx="93.2" cy="474.43" r="1.25"/><circle cx="93.56" cy="470.08" r="1.25"/><circle cx="93.91" cy="476.29" r="1.25"/><circle cx="94.27" cy="471.78" r="1.25"/><circle cx="94.63" cy="470.7" r="1.25"/><circle cx="94.99" cy="469.62" r="1.25"/><circle cx="95.35" cy="468.54" r="1.25"/><circle cx="95.71" cy="467.46" r="1.25"/><circle cx="96.07" cy="466.45" r="1.25"/><circle cx="96.42" cy="465.53" r="1.25"/><circle cx="96.78" cy="464.62" r="1.25"/><circle cx="97.14" cy="463.71" r="1.25"/><circle cx="97.5" cy="462.8" r="1.25"/><circle cx="97.86" cy="462.09" r="1.25"/><circle cx="98.22" cy="461.54" r="1.25"/><circle cx="98.58" cy="460.98" r="1.25"/><circle cx="98.93" cy="460.42" r="1.25"/><circle cx="99.29" cy="459.86" r="1.25"/><circle cx="99.65" cy="459.55" r="1.25"/><circle cx="100.01" cy="459.35" r="1.25"/><circle cx="100.37" cy="459.15" r="1.25"/><circle cx="100.73" cy="458.95" r="1.25"/><circle cx="101.08" cy="458.75" r="1.25"/><circle cx="101.44" cy="458.55" r="1.25"/><circle cx="101.8" cy="458.55" r="1.25"/><circle cx="102.16" cy="458.99" r="1.25"/><circle cx="102.52" cy="459.44" r="1.25"/><circle cx="102.88" cy="459.89" r="1.25"/><circle cx="103.24" cy="460.34" r="1.25"/><circle cx="103.59" cy="460.9" r="1.25"/><circle cx="103.95" cy="461.65" r="1.25"/><circle cx="104.31" cy="462.39" r="1.25"/><circle cx="104.67" cy="462.3" r="1.25"/><circle cx="105.03" cy="462.6" r="1.25"/><circle cx="105.39" cy="464.69" r="1.25"/><circle cx="105.75" cy="465.81" r="1.25"/><circle cx="106.1" cy="465.75" r="1.25"/><circle cx="106.46" cy="468.02" r="1.25"/><circle cx="106.82" cy="468.02" r="1.25"/><circle cx="107.18" cy="466.59" r="1.25"/><circle cx="107.54" cy="473.03" r="1.25"/><circle cx="107.9" cy="466.71" r="1.25"/><circle cx="108.25" cy="469.06" r="1.25"/><circle cx="108.61" cy="470.21" r="1.25"/><circle cx="108.97" cy="473.5" r="1.25"/><circle cx="109.33" cy="471.53" r="1.25"/><circle cx="109.69" cy="470.95" r="1.25"/><circle cx="110.05" cy="467.17" r="1.25"/><circle cx="110.41" cy="466.29" r="1.25"/><circle cx="110.76" cy="464.16" r="1.25"/><circle cx="111.12" cy="466.19" r="1.25"/><circle cx="111.48" cy="470.38" r="1.25"/><circle cx="111.84" cy="467.71" r="1.25"/><circle cx="112.2" cy="466.04" r="1.25"/><circle cx="112.56" cy="464.16" r="1.25"/><circle cx="112.92" cy="469.25" r="1.25"/><circle cx="113.27" cy="467.49" r="1.25"/><circle cx="113.63" cy="467.99" r="1.25"/><circle cx="113.99" cy="470.52" r="1.25"/><circle cx="114.35" cy="470.61" r="1.25"/><circle cx="114.71" cy="465.23" r="1.25"/><circle cx="115.07" cy="470.25" r="1.25"/><circle cx="115.42" cy="465.89" r="1.25"/><circle cx="115.78" cy="469.68" r="1.25"/><circle cx="116.14" cy="471.76" r="1.25"/><circle cx="116.5" cy="469.27" r="1.25"/><circle cx="116.86" cy="472.27" r="1.25"/><circle cx="117.22" cy="472.41" r="1.25"/><circle cx="117.58" cy="478.05" r="1.25"/><circle cx="117.93" cy="473.57" r="1.25"/><circle cx="118.29" cy="477.2" r="1.25"/><circle cx="118.65" cy="475.06" r="1.25"/><circle cx="119.01" cy="478.88" r="1.25"/><circle cx="119.37" cy="482.72" r="1.25"/><circle cx="119.73" cy="488.12" r="1.25"/><circle cx="120.09" cy="489.74" r="1.25"/><circle cx="120.44" cy="494.5" r="1.25"/><circle cx="120.8" cy="499.52" r="1.25"/><circle cx="121.16" cy="504.51" r="1.25"/><circle cx="121.52" cy="510.82" r="1.25"/><circle cx="121.88" cy="515.38" r="1.25"/><circle cx="122.24" cy="529.99" r="1.25"/><circle cx="122.59" cy="537.3" r="1.25"/><circle cx="122.95" cy="542.77" r="1.25"/><circle cx="123.31" cy="550.99" r="1.25"/><circle cx="123.67" cy="555.56" r="1.25"/><circle cx="124.03" cy="562.97" r="1.25"/><circle cx="124.39" cy="569.43" r="1.25"/><circle cx="124.75" cy="576.13" r="1.25"/><circle cx="125.1" cy="583.87" r="1.25"/><circle cx="125.46" cy="589.79" r="1.25"/><circle cx="125.82" cy="593.12" r="1.25"/><circle cx="126.18" cy="595.73" r="1.25"/><circle cx="126.54" cy="597.01" r="1.25"/><circle cx="126.9" cy="598.28" r="1.25"/><circle cx="127.26" cy="599.2" r="1.25"/><circle cx="127.61" cy="600.11" r="1.25"/><circle cx="127.97" cy="601.57" r="1.25"/><circle cx="128.33" cy="603.03" r="1.25"/><circle cx="128.69" cy="609.03" r="1.25"/><circle cx="129.05" cy="613.07" r="1.25"/><circle cx="129.41" cy="615.81" r="1.25"/><circle cx="129.76" cy="616.78" r="1.25"/><circle cx="130.12" cy="617.79" r="1.25"/><circle cx="130.48" cy="619.31" r="1.25"/><circle cx="130.84" cy="620.84" r="1.25"/><circle cx="131.2" cy="621.78" r="1.25"/><circle cx="131.56" cy="622.48" r="1.25"/><circle cx="131.92" cy="623.18" r="1.25"/><circle cx="132.27" cy="623.81" r="1.25"/><circle cx="132.63" cy="624.27" r="1.25"/><circle cx="132.99" cy="624.74" r="1.25"/><circle cx="133.35" cy="625.21" r="1.25"/><circle cx="133.71" cy="625.64" r="1.25"/><circle cx="134.07" cy="626.01" r="1.25"/><circle cx="134.43" cy="626.39" r="1.25"/><circle cx="134.78" cy="626.76" r="1.25"/><circle cx="135.14" cy="627.13" r="1.25"/><circle cx="135.5" cy="627.49" r="1.25"/><circle cx="135.86" cy="627.82" r="1.25"/><circle cx="136.22" cy="628.16" r="1.25"/><circle cx="136.58" cy="628.49" r="1.25"/><circle cx="136.94" cy="628.83" r="1.25"/><circle cx="137.29" cy="629.18" r="1.25"/><circle cx="137.65" cy="629.56" r="1.25"/><circle cx="138.01" cy="629.93" r="1.25"/><circle cx="138.37" cy="630.3" r="1.25"/><circle cx="138.73" cy="630.68" r="1.25"/><circle cx="139.09" cy="631.03" r="1.25"/><circle cx="139.44" cy="631.38" r="1.25"/><circle cx="139.8" cy="631.73" r="1.25"/><circle cx="140.16" cy="632.08" r="1.25"/><circle cx="140.52" cy="632.43" r="1.25"/><circle cx="140.88" cy="632.8" r="1.25"/><circle cx="141.24" cy="633.16" r="1.25"/><circle cx="141.6" cy="633.53" r="1.25"/><circle cx="141.95" cy="633.89" r="1.25"/><circle cx="142.31" cy="634.26" r="1.25"/><circle cx="142.67" cy="634.44" r="1.25"/><circle cx="143.03" cy="634.62" r="1.25"/><circle cx="143.39" cy="634.8" r="1.25"/><circle cx="143.75" cy="634.99" r="1.25"/><circle cx="144.1" cy="635.17" r="1.25"/><circle cx="144.46" cy="635.24" r="1.25"/><circle cx="144.82" cy="635.32" r="1.25"/><circle cx="145.18" cy="635.39" r="1.25"/><circle cx="145.54" cy="635.47" r="1.25"/><circle cx="145.9" cy="635.54" r="1.25"/><circle cx="146.26" cy="635.62" r="1.25"/><circle cx="146.61" cy="635.69" r="1.25"/><circle cx="146.97" cy="635.58" r="1.25"/><circle cx="147.33" cy="635.39" r="1.25"/><circle cx="147.69" cy="635.19" r="1.25"/><circle cx="148.05" cy="635" r="1.25"/><circle cx="148.41" cy="634.8" r="1.25"/><circle cx="148.77" cy="634.15" r="1.25"/><circle cx="149.12" cy="633.49" r="1.25"/><circle cx="149.48" cy="632.83" r="1.25"/><circle cx="149.84" cy="631.95" r="1.25"/><circle cx="150.2" cy="630.76" r="1.25"/><circle cx="150.56" cy="629.56" r="1.25"/><circle cx="150.92" cy="628.32" r="1.25"/><circle cx="151.28" cy="627.04" r="1.25"/><circle cx="151.63" cy="625.06" r="1.25"/><circle cx="151.99" cy="622.37" r="1.25"/><circle cx="152.35" cy="618.01" r="1.25"/><circle cx="152.71" cy="612.53" r="1.25"/><circle cx="153.07" cy="605.95" r="1.25"/><circle cx="153.43" cy="598.65" r="1.25"/><circle cx="153.78" cy="593.54" r="1.25"/><circle cx="154.14" cy="589.64" r="1.25"/><circle cx="154.5" cy="582.54" r="1.25"/><circle cx="154.86" cy="570.57" r="1.25"/><circle cx="155.22" cy="562.86" r="1.25"/><circle cx="155.58" cy="552.82" r="1.25"/><circle cx="155.94" cy="554.09" r="1.25"/><circle cx="156.29" cy="548.53" r="1.25"/><circle cx="156.65" cy="540.58" r="1.25"/><circle cx="157.01" cy="539.26" r="1.25"/><circle cx="157.37" cy="534.44" r="1.25"/><circle cx="157.73" cy="530.68" r="1.25"/><circle cx="158.09" cy="525.54" r="1.25"/><circle cx="158.44" cy="518.31" r="1.25"/><circle cx="158.8" cy="513.35" r="1.25"/><circle cx="159.16" cy="512.29" r="1.25"/><circle cx="159.52" cy="511.94" r="1.25"/><circle cx="159.88" cy="509.15" r="1.25"/><circle cx="160.24" cy="507.06" r="1.25"/><circle cx="160.6" cy="502.19" r="1.25"/><circle cx="160.95" cy="496.53" r="1.25"/><circle cx="161.31" cy="504.91" r="1.25"/><circle cx="161.67" cy="508.23" r="1.25"/><circle cx="162.03" cy="512.57" r="1.25"/><circle cx="162.39" cy="515.25" r="1.25"/><circle cx="162.75" cy="516.82" r="1.25"/><circle cx="163.11" cy="528.16" r="1.25"/><circle cx="163.46" cy="533.42" r="1.25"/><circle cx="163.82" cy="546.64" r="1.25"/><circle cx="164.18" cy="546.65" r="1.25"/><circle cx="164.54" cy="550.59" r="1.25"/><circle cx="164.9" cy="560.88" r="1.25"/><circle cx="165.26" cy="569.63" r="1.25"/><circle cx="165.61" cy="565.27" r="1.25"/><circle cx="165.97" cy="574.12" r="1.25"/><circle cx="166.33" cy="574.39" r="1.25"/><circle cx="166.69" cy="584.52" r="1.25"/><circle cx="167.05" cy="589.76" r="1.25"/><circle cx="167.41" cy="599.5" r="1.25"/><circle cx="167.77" cy="603.67" r="1.25"/><circle cx="168.12" cy="611.2" r="1.25"/><circle cx="168.48" cy="601.18" r="1.25"/><circle cx="168.84" cy="597.05" r="1.25"/><circle cx="169.2" cy="593.54" r="1.25"/><circle cx="169.56" cy="587.58" r="1.25"/><circle cx="169.92" cy="576.07" r="1.25"/><circle cx="170.28" cy="574.03" r="1.25"/><circle cx="170.63" cy="573.68" r="1.25"/><circle cx="170.99" cy="570.09" r="1.25"/><circle cx="171.35" cy="564.89" r="1.25"/><circle cx="171.71" cy="560.67" r="1.25"/><circle cx="172.07" cy="552.8" r="1.25"/><circle cx="172.43" cy="549.25" r="1.25"/><circle cx="172.78" cy="545.27" r="1.25"/><circle cx="173.14" cy="543.77" r="1.25"/><circle cx="173.5" cy="539.26" r="1.25"/><circle cx="173.86" cy="532.12" r="1.25"/><circle cx="174.22" cy="526.64" r="1.25"/><circle cx="174.58" cy="522.83" r="1.25"/><circle cx="174.94" cy="525.35" r="1.25"/><circle cx="175.29" cy="515.31" r="1.25"/><circle cx="175.65" cy="506.97" r="1.25"/><circle cx="176.01" cy="502.12" r="1.25"/><circle cx="176.37" cy="505.6" r="1.25"/><circle cx="176.73" cy="519.96" r="1.25"/><circle cx="177.09" cy="524.28" r="1.25"/><circle cx="177.45" cy="529.6" r="1.25"/><circle cx="177.8" cy="532.23" r="1.25"/><circle cx="178.16" cy="545.42" r="1.25"/><circle cx="178.52" cy="555.6" r="1.25"/><circle cx="178.88" cy="569.41" r="1.25"/><circle cx="179.24" cy="575.21" r="1.25"/><circle cx="179.6" cy="592.04" r="1.25"/><circle cx="179.95" cy="591.94" r="1.25"/><circle cx="180.31" cy="594.27" r="1.25"/><circle cx="180.67" cy="604.86" r="1.25"/><circle cx="181.03" cy="608.88" r="1.25"/><circle cx="181.39" cy="616.1" r="1.25"/><circle cx="181.75" cy="618.99" r="1.25"/><circle cx="182.11" cy="621.71" r="1.25"/><circle cx="182.46" cy="623.81" r="1.25"/><circle cx="182.82" cy="625.67" r="1.25"/><circle cx="183.18" cy="626.55" r="1.25"/><circle cx="183.54" cy="627.43" r="1.25"/><circle cx="183.9" cy="628.25" r="1.25"/><circle cx="184.26" cy="628.91" r="1.25"/><circle cx="184.62" cy="629.58" r="1.25"/><circle cx="184.97" cy="630.24" r="1.25"/><circle cx="185.33" cy="630.51" r="1.25"/><circle cx="185.69" cy="630.79" r="1.25"/><circle cx="186.05" cy="631.06" r="1.25"/><circle cx="186.41" cy="631.33" r="1.25"/><circle cx="186.77" cy="631.18" r="1.25"/><circle cx="187.12" cy="631.02" r="1.25"/><circle cx="187.48" cy="630.87" r="1.25"/><circle cx="187.84" cy="630.65" r="1.25"/><circle cx="188.2" cy="630.37" r="1.25"/><circle cx="188.56" cy="630.08" r="1.25"/><circle cx="188.92" cy="629.8" r="1.25"/><circle cx="189.28" cy="629.33" r="1.25"/><circle cx="189.63" cy="628.72" r="1.25"/><circle cx="189.99" cy="628.11" r="1.25"/><circle cx="190.35" cy="627.5" r="1.25"/><circle cx="190.71" cy="626.57" r="1.25"/><circle cx="191.07" cy="625.49" r="1.25"/><circle cx="191.43" cy="624.42" r="1.25"/><circle cx="191.79" cy="623.36" r="1.25"/><circle cx="192.14" cy="622.32" r="1.25"/><circle cx="192.5" cy="621.29" r="1.25"/><circle cx="192.86" cy="620.61" r="1.25"/><circle cx="193.22" cy="619.92" r="1.25"/><circle cx="193.58" cy="619.24" r="1.25"/><circle cx="193.94" cy="618.55" r="1.25"/><circle cx="194.29" cy="618.03" r="1.25"/><circle cx="194.65" cy="617.51" r="1.25"/><circle cx="195.01" cy="616.99" r="1.25"/><circle cx="195.37" cy="616.54" r="1.25"/><circle cx="195.73" cy="616.18" r="1.25"/><circle cx="196.09" cy="615.81" r="1.25"/><circle cx="196.45" cy="617.34" r="1.25"/><circle cx="196.8" cy="618.86" r="1.25"/><circle cx="197.16" cy="621.66" r="1.25"/><circle cx="197.52" cy="624.93" r="1.25"/><circle cx="197.88" cy="626.66" r="1.25"/><circle cx="198.24" cy="628.3" r="1.25"/><circle cx="198.6" cy="629.56" r="1.25"/><circle cx="198.96" cy="630.82" r="1.25"/><circle cx="199.31" cy="631.85" r="1.25"/><circle cx="199.67" cy="632.35" r="1.25"/><circle cx="200.03" cy="632.85" r="1.25"/><circle cx="200.39" cy="633.34" r="1.25"/><circle cx="200.75" cy="633.6" r="1.25"/><circle cx="201.11" cy="633.85" r="1.25"/><circle cx="201.47" cy="634.11" r="1.25"/><circle cx="201.82" cy="634.37" r="1.25"/><circle cx="202.18" cy="634.62" r="1.25"/><circle cx="202.54" cy="634.66" r="1.25"/><circle cx="202.9" cy="634.69" r="1.25"/><circle cx="203.26" cy="634.73" r="1.25"/><circle cx="203.62" cy="634.77" r="1.25"/><circle cx="203.97" cy="634.8" r="1.25"/><circle cx="204.33" cy="634.69" r="1.25"/><circle cx="204.69" cy="634.58" r="1.25"/><circle cx="205.05" cy="634.46" r="1.25"/><circle cx="205.41" cy="634.35" r="1.25"/><circle cx="205.77" cy="634.2" r="1.25"/><circle cx="206.13" cy="633.91" r="1.25"/><circle cx="206.48" cy="633.63" r="1.25"/><circle cx="206.84" cy="633.34" r="1.25"/><circle cx="207.2" cy="632.8" r="1.25"/><circle cx="207.56" cy="632.25" r="1.25"/><circle cx="207.92" cy="631.7" r="1.25"/><circle cx="208.28" cy="630.65" r="1.25"/><circle cx="208.63" cy="629.59" r="1.25"/><circle cx="208.99" cy="628.27" r="1.25"/><circle cx="209.35" cy="626.53" r="1.25"/><circle cx="209.71" cy="624.29" r="1.25"/><circle cx="210.07" cy="621.29" r="1.25"/><circle cx="210.43" cy="615.81" r="1.25"/><circle cx="210.79" cy="610.52" r="1.25"/><circle cx="211.14" cy="604.86" r="1.25"/><circle cx="211.5" cy="595.73" r="1.25"/><circle cx="211.86" cy="587.88" r="1.25"/><circle cx="212.22" cy="581.12" r="1.25"/><circle cx="212.58" cy="574.6" r="1.25"/><circle cx="212.94" cy="564.69" r="1.25"/><circle cx="213.3" cy="556.77" r="1.25"/><circle cx="213.65" cy="548.62" r="1.25"/><circle cx="214.01" cy="533.64" r="1.25"/><circle cx="214.37" cy="524.51" r="1.25"/><circle cx="214.73" cy="519.95" r="1.25"/><circle cx="215.09" cy="513.19" r="1.25"/><circle cx="215.45" cy="495.02" r="1.25"/><circle cx="215.81" cy="487.99" r="1.25"/><circle cx="216.16" cy="482.15" r="1.25"/><circle cx="216.52" cy="478.61" r="1.25"/><circle cx="216.88" cy="475.67" r="1.25"/><circle cx="217.24" cy="473.61" r="1.25"/><circle cx="217.6" cy="471.56" r="1.25"/><circle cx="217.96" cy="468.46" r="1.25"/><circle cx="218.31" cy="466.15" r="1.25"/><circle cx="218.67" cy="466.26" r="1.25"/><circle cx="219.03" cy="463.92" r="1.25"/><circle cx="219.39" cy="462.4" r="1.25"/><circle cx="219.75" cy="462.28" r="1.25"/><circle cx="220.11" cy="462.77" r="1.25"/><circle cx="220.47" cy="461.64" r="1.25"/><circle cx="220.82" cy="460.99" r="1.25"/><circle cx="221.18" cy="461.08" r="1.25"/><circle cx="221.54" cy="462.09" r="1.25"/><circle cx="221.9" cy="459.67" r="1.25"/><circle cx="222.26" cy="461.16" r="1.25"/><circle cx="222.62" cy="462.37" r="1.25"/><circle cx="222.97" cy="461.49" r="1.25"/><circle cx="223.33" cy="463.18" r="1.25"/><circle cx="223.69" cy="461.67" r="1.25"/><circle cx="224.05" cy="461.17" r="1.25"/><circle cx="224.41" cy="459.4" r="1.25"/><circle cx="224.77" cy="461" r="1.25"/><circle cx="225.13" cy="460.87" r="1.25"/><circle cx="225.48" cy="460.59" r="1.25"/><circle cx="225.84" cy="460.98" r="1.25"/><circle cx="226.2" cy="461.56" r="1.25"/><circle cx="226.56" cy="460.16" r="1.25"/><circle cx="226.92" cy="460.76" r="1.25"/><circle cx="227.28" cy="460.02" r="1.25"/><circle cx="227.64" cy="460.39" r="1.25"/><circle cx="227.99" cy="461.8" r="1.25"/><circle cx="228.35" cy="461.46" r="1.25"/><circle cx="228.71" cy="461.42" r="1.25"/><circle cx="229.07" cy="461.4" r="1.25"/><circle cx="229.43" cy="460.8" r="1.25"/><circle cx="229.79" cy="461.25" r="1.25"/><circle cx="230.15" cy="461.69" r="1.25"/><circle cx="230.5" cy="460.51" r="1.25"/><circle cx="230.86" cy="461.02" r="1.25"/><circle cx="231.22" cy="462.41" r="1.25"/><circle cx="231.58" cy="463.63" r="1.25"/><circle cx="231.94" cy="463.76" r="1.25"/><circle cx="232.3" cy="465.61" r="1.25"/><circle cx="232.65" cy="467.46" r="1.25"/><circle cx="233.01" cy="469.27" r="1.25"/><circle cx="233.37" cy="470.36" r="1.25"/><circle cx="233.73" cy="472.11" r="1.25"/><circle cx="234.09" cy="473.93" r="1.25"/><circle cx="234.45" cy="475.76" r="1.25"/><circle cx="234.81" cy="477.14" r="1.25"/><circle cx="235.16" cy="478.21" r="1.25"/><circle cx="235.52" cy="479.29" r="1.25"/><circle cx="235.88" cy="480.37" r="1.25"/><circle cx="236.24" cy="482.29" r="1.25"/><circle cx="236.6" cy="484.57" r="1.25"/><circle cx="236.96" cy="487.13" r="1.25"/><circle cx="237.31" cy="489.82" r="1.25"/><circle cx="237.67" cy="493.47" r="1.25"/><circle cx="238.03" cy="498.95" r="1.25"/><circle cx="238.39" cy="509.6" r="1.25"/><circle cx="238.75" cy="517.21" r="1.25"/><circle cx="239.11" cy="522.69" r="1.25"/><circle cx="239.47" cy="528.17" r="1.25"/><circle cx="239.82" cy="539.12" r="1.25"/><circle cx="240.18" cy="540.95" r="1.25"/><circle cx="240.54" cy="546.43" r="1.25"/><circle cx="240.9" cy="548.25" r="1.25"/>
</g>
</g>
<g>
<rect x="257.6" y="444" width="196.5" height="201" fill="#ebebeb"/>
<path d="M257.6 613.07h196.5M257.6 567.42h196.5M257.6 521.77h196.5M257.6 476.12h196.5M284.18 444v201M320.02 444v201M355.88 444v201M391.73 444v201M427.57 444v201" stroke="#fff" stroke-width="0.8" fill="none"/>
<path d="M257.6 635.9h196.5M257.6 590.25h196.5M257.6 544.6h196.5M257.6 498.95h196.5M257.6 453.3h196.5M266.25 444v201M302.1 444v201M337.95 444v201M373.8 444v201M409.65 444v201M445.5 444v201" stroke="#fff" stroke-width="1.55" fill="none"/>
<path d="M266.61 453.3 L286.68 453.3 L286.68 635.9 L311.78 635.9 L311.78 453.3 L340.17 453.3 L340.17 635.9 L445.5 635.9" stroke="#00ff00" stroke-width="1.45" fill="none" stroke-linejoin="miter"/>
<path d="M266.61 561.95 266.97 561.95 267.33 561.95 267.68 561.95 268.04 561.95 268.4 561.95 268.76 565.23 269.12 566.88 269.48 566.88 269.83 568.52 270.19 570.16 270.55 570.16 270.91 571.81 271.27 571.81 271.63 570.16 271.99 571.81 272.34 571.81 272.7 570.16 273.06 570.16 273.42 571.81 273.78 571.81 274.14 570.16 274.5 571.81 274.85 570.16 275.21 570.16 275.57 570.16 275.93 570.16 276.29 568.52 276.65 568.52 277 571.81 277.36 571.81 277.72 570.16 278.08 570.16 278.44 573.45 278.8 573.45 279.16 575.09 279.51 576.74 279.87 576.74 280.23 576.74 280.59 576.74 280.95 576.74 281.31 575.09 281.67 576.74 282.02 578.38 282.38 578.38 282.74 580.02 283.1 581.67 283.46 581.67 283.82 581.67 284.18 583.31 284.53 584.95 284.89 586.6 285.25 584.95 285.61 584.95 285.97 583.31 286.33 584.95 286.68 584.95 287.04 583.31 287.4 584.95 287.76 584.95 288.12 584.95 288.48 586.6 288.84 586.6 289.19 588.24 289.55 588.24 289.91 586.6 290.27 588.24 290.63 588.24 290.99 589.88 291.35 588.24 291.7 589.88 292.06 589.88 292.42 589.88 292.78 589.88 293.14 589.88 293.5 589.88 293.85 589.88 294.21 589.88 294.57 591.53 294.93 591.53 295.29 591.53 295.65 591.53 296.01 593.17 296.36 593.17 296.72 593.17 297.08 591.53 297.44 591.53 297.8 591.53 298.16 591.53 298.51 591.53 298.87 591.53 299.23 591.53 299.59 593.17 299.95 593.17 300.31 593.17 300.67 591.53 301.02 593.17 301.38 594.81 301.74 594.81 302.1 594.81 302.46 594.81 302.82 594.81 303.18 594.81 303.53 594.81 303.89 594.81 304.25 596.46 304.61 594.81 304.97 594.81 305.33 598.1 305.69 596.46 306.04 596.46 306.4 596.46 306.76 596.46 307.12 596.46 307.48 596.46 307.84 598.1 308.19 598.1 308.55 598.1 308.91 596.46 309.27 596.46 309.63 596.46 309.99 596.46 310.35 596.46 310.7 596.46 311.06 596.46 311.42 596.46 311.78 596.46 312.14 596.46 312.5 596.46 312.86 596.46 313.21 596.46 313.57 598.1 313.93 596.46 314.29 596.46 314.65 596.46 315.01 598.1 315.36 598.1 315.72 599.75 316.08 598.1 316.44 598.1 316.8 601.39 317.16 598.1 317.52 599.75 317.87 599.75 318.23 599.75 318.59 598.1 318.95 598.1 319.31 598.1 319.67 596.46 320.02 598.1 320.38 596.46 320.74 598.1 321.1 598.1 321.46 598.1 321.82 598.1 322.18 598.1 322.53 598.1 322.89 599.75 323.25 599.75 323.61 601.39 323.97 599.75 324.33 599.75 324.69 599.75 325.04 599.75 325.4 599.75 325.76 599.75 326.12 599.75 326.48 599.75 326.84 599.75 327.19 601.39 327.55 601.39 327.91 601.39 328.27 603.03 328.63 601.39 328.99 603.03 329.35 603.03 329.7 603.03 330.06 603.03 330.42 604.68 330.78 604.68 331.14 604.68 331.5 604.68 331.86 607.96 332.21 606.32 332.57 606.32 332.93 607.96 333.29 607.96 333.65 609.61 334.01 609.61 334.37 609.61 334.72 609.61 335.08 611.25 335.44 611.25 335.8 611.25 336.16 611.25 336.52 612.89 336.87 612.89 337.23 612.89 337.59 612.89 337.95 612.89 338.31 614.54 338.67 614.54 339.03 614.54 339.38 616.18 339.74 616.18 340.1 616.18 340.46 616.18 340.82 616.18 341.18 616.18 341.53 616.18 341.89 616.18 342.25 616.18 342.61 616.18 342.97 616.18 343.33 617.82 343.69 617.82 344.04 619.47 344.4 619.47 344.76 619.47 345.12 621.11 345.48 621.11 345.84 621.11 346.2 621.11 346.55 621.11 346.91 621.11 347.27 621.11 347.63 622.75 347.99 622.75 348.35 622.75 348.7 622.75 349.06 622.75 349.42 624.4 349.78 624.4 350.14 624.4 350.5 624.4 350.86 624.4 351.21 624.4 351.57 626.04 351.93 626.04 352.29 626.04 352.65 626.04 353.01 626.04 353.37 626.04 353.72 626.04 354.08 627.68 354.44 627.68 354.8 627.68 355.16 627.68 355.52 627.68 355.88 627.68 356.23 627.68 356.59 627.68 356.95 629.33 357.31 629.33 357.67 629.33 358.03 629.33 358.38 629.33 358.74 629.33 359.1 629.33 359.46 629.33 359.82 629.33 360.18 629.33 360.54 629.33 360.89 630.97 361.25 630.97 361.61 630.97 361.97 630.97 362.33 630.97 362.69 630.97 363.05 630.97 363.4 632.61 363.76 632.61 364.12 632.61 364.48 632.61 364.84 632.61 365.2 632.61 365.55 632.61 365.91 632.61 366.27 632.61 366.63 632.61 366.99 632.61 367.35 632.61 367.71 632.61 368.06 632.61 368.42 632.61 368.78 632.61 369.14 632.61 369.5 632.61 369.86 632.61 370.21 632.61 370.57 632.61 370.93 632.61 371.29 632.61 371.65 632.61 372.01 632.61 372.37 632.61 372.72 632.61 373.08 632.61 373.44 634.26 373.8 634.26 374.16 634.26 374.52 634.26 374.88 634.26 375.23 634.26 375.59 634.26 375.95 634.26 376.31 634.26 376.67 634.26 377.03 634.26 377.38 634.26 377.74 634.26 378.1 634.26 378.46 634.26 378.82 634.26 379.18 634.26 379.54 634.26 379.89 634.26 380.25 634.26 380.61 634.26 380.97 634.26 381.33 634.26 381.69 634.26 382.05 634.26 382.4 634.26 382.76 634.26 383.12 634.26 383.48 634.26 383.84 634.26 384.2 634.26 384.56 634.26 384.91 634.26 385.27 634.26 385.63 634.26 385.99 634.26 386.35 634.26 386.71 634.26 387.06 634.26 387.42 634.26 387.78 634.26 388.14 634.26 388.5 634.26 388.86 634.26 389.22 634.26 389.57 634.26 389.93 634.26 390.29 634.26 390.65 634.26 391.01 634.26 391.37 634.26 391.73 634.26 392.08 634.26 392.44 634.26 392.8 634.26 393.16 634.26 393.52 634.26 393.88 634.26 394.23 634.26 394.59 634.26 394.95 634.26 395.31 634.26 395.67 634.26 396.03 634.26 396.39 634.26 396.74 634.26 397.1 634.26 397.46 634.26 397.82 634.26 398.18 634.26 398.54 634.26 398.89 635.9 399.25 635.9 399.61 635.9 399.97 635.9 400.33 635.9 400.69 635.9 401.05 635.9 401.4 635.9 401.76 635.9 402.12 635.9 402.48 635.9 402.84 635.9 403.2 635.9 403.56 635.9 403.91 635.9 404.27 635.9 404.63 635.9 404.99 635.9 405.35 635.9 405.71 635.9 406.06 635.9 406.42 635.9 406.78 635.9 407.14 635.9 407.5 635.9 407.86 635.9 408.22 635.9 408.57 635.9 408.93 635.9 409.29 635.9 409.65 635.9 410.01 635.9 410.37 635.9 410.73 635.9 411.08 635.9 411.44 635.9 411.8 635.9 412.16 635.9 412.52 635.9 412.88 635.9 413.24 635.9 413.59 635.9 413.95 635.9 414.31 635.9 414.67 635.9 415.03 635.9 415.39 635.9 415.74 635.9 416.1 635.9 416.46 635.9 416.82 635.9 417.18 635.9 417.54 635.9 417.9 635.9 418.25 635.9 418.61 635.9 418.97 635.9 419.33 635.9 419.69 635.9 420.05 635.9 420.4 635.9 420.76 635.9 421.12 635.9 421.48 635.9 421.84 635.9 422.2 635.9 422.56 635.9 422.91 635.9 423.27 635.9 423.63 635.9 423.99 635.9 424.35 635.9 424.71 635.9 425.07 635.9 425.42 635.9 425.78 635.9 426.14 635.9 426.5 635.9 426.86 635.9 427.22 635.9 427.57 635.9 427.93 635.9 428.29 635.9 428.65 635.9 429.01 635.9 429.37 635.9 429.73 635.9 430.08 635.9 430.44 635.9 430.8 635.9 431.16 635.9 431.52 635.9 431.88 635.9 432.24 635.9 432.59 635.9 432.95 635.9 433.31 635.9 433.67 635.9 434.03 635.9 434.39 635.9 434.75 635.9 435.1 635.9 435.46 635.9 435.82 635.9 436.18 635.9 436.54 635.9 436.9 635.9 437.25 635.9 437.61 635.9 437.97 635.9 438.33 635.9 438.69 635.9 439.05 635.9 439.41 635.9 439.76 635.9 440.12 635.9 440.48 635.9 440.84 635.9 441.2 635.9 441.56 635.9 441.91 635.9 442.27 635.9 442.63 635.9 442.99 635.9 443.35 635.9 443.71 635.9 444.07 635.9 444.42 635.9 444.78 635.9 445.14 635.9 445.5 635.9" stroke="#000" stroke-width="1.5" fill="none" stroke-linejoin="round" stroke-linecap="butt"/>
<g fill="#ff0000" fill-opacity="0.5" stroke="#ff0000" stroke-opacity="0.5" stroke-width="0.9">
<circle cx="266.61" cy="461.76" r="1.25"/><circle cx="266.97" cy="459.66" r="1.25"/><circle cx="267.33" cy="463.48" r="1.25"/><circle cx="267.68" cy="460.88" r="1.25"/><circle cx="268.04" cy="461.2" r="1.25"/><circle cx="268.4" cy="464.88" r="1.25"/><circle cx="268.76" cy="463.79" r="1.25"/><circle cx="269.12" cy="462.45" r="1.25"/><circle cx="269.48" cy="464.9" r="1.25"/><circle cx="269.83" cy="464.81" r="1.25"/><circle cx="270.19" cy="464.58" r="1.25"/><circle cx="270.55" cy="463.64" r="1.25"/><circle cx="270.91" cy="464.96" r="1.25"/><circle cx="271.27" cy="466.94" r="1.25"/><circle cx="271.63" cy="468.31" r="1.25"/><circle cx="271.99" cy="469.07" r="1.25"/><circle cx="272.34" cy="467.66" r="1.25"/><circle cx="272.7" cy="471.32" r="1.25"/><circle cx="273.06" cy="470.49" r="1.25"/><circle cx="273.42" cy="470.39" r="1.25"/><circle cx="273.78" cy="473.55" r="1.25"/><circle cx="274.14" cy="473.86" r="1.25"/><circle cx="274.5" cy="474.91" r="1.25"/><circle cx="274.85" cy="478.27" r="1.25"/><circle cx="275.21" cy="482.98" r="1.25"/><circle cx="275.57" cy="482.57" r="1.25"/><circle cx="275.93" cy="483.89" r="1.25"/><circle cx="276.29" cy="486.17" r="1.25"/><circle cx="276.65" cy="489.34" r="1.25"/><circle cx="277" cy="492.52" r="1.25"/><circle cx="277.36" cy="497.12" r="1.25"/><circle cx="277.72" cy="502.97" r="1.25"/><circle cx="278.08" cy="509.18" r="1.25"/><circle cx="278.44" cy="513.42" r="1.25"/><circle cx="278.8" cy="519.04" r="1.25"/><circle cx="279.16" cy="524.51" r="1.25"/><circle cx="279.51" cy="531.36" r="1.25"/><circle cx="279.87" cy="537.75" r="1.25"/><circle cx="280.23" cy="543.46" r="1.25"/><circle cx="280.59" cy="549.16" r="1.25"/><circle cx="280.95" cy="555.86" r="1.25"/><circle cx="281.31" cy="562.4" r="1.25"/><circle cx="281.67" cy="568.79" r="1.25"/><circle cx="282.02" cy="575.03" r="1.25"/><circle cx="282.38" cy="581.74" r="1.25"/><circle cx="282.74" cy="585.34" r="1.25"/><circle cx="283.1" cy="594.93" r="1.25"/><circle cx="283.46" cy="589.06" r="1.25"/><circle cx="283.82" cy="594.46" r="1.25"/><circle cx="284.18" cy="591.88" r="1.25"/><circle cx="284.53" cy="593.07" r="1.25"/><circle cx="284.89" cy="581.39" r="1.25"/><circle cx="285.25" cy="587.78" r="1.25"/><circle cx="285.61" cy="579.68" r="1.25"/><circle cx="285.97" cy="589.29" r="1.25"/><circle cx="286.33" cy="589.85" r="1.25"/><circle cx="286.68" cy="585.27" r="1.25"/><circle cx="287.04" cy="593.09" r="1.25"/><circle cx="287.4" cy="591.23" r="1.25"/><circle cx="287.76" cy="589.73" r="1.25"/><circle cx="288.12" cy="596.38" r="1.25"/><circle cx="288.48" cy="598.59" r="1.25"/><circle cx="288.84" cy="597.39" r="1.25"/><circle cx="289.19" cy="593.15" r="1.25"/><circle cx="289.55" cy="595.65" r="1.25"/><circle cx="289.91" cy="592.87" r="1.25"/><circle cx="290.27" cy="598.91" r="1.25"/><circle cx="290.63" cy="597.1" r="1.25"/><circle cx="290.99" cy="596.89" r="1.25"/><circle cx="291.35" cy="592.15" r="1.25"/><circle cx="291.7" cy="592.09" r="1.25"/><circle cx="292.06" cy="589.25" r="1.25"/><circle cx="292.42" cy="591.06" r="1.25"/><circle cx="292.78" cy="589.05" r="1.25"/><circle cx="293.14" cy="586.42" r="1.25"/><circle cx="293.5" cy="580.61" r="1.25"/><circle cx="293.85" cy="583.6" r="1.25"/><circle cx="294.21" cy="581.3" r="1.25"/><circle cx="294.57" cy="575.64" r="1.25"/><circle cx="294.93" cy="571.76" r="1.25"/><circle cx="295.29" cy="568.86" r="1.25"/><circle cx="295.65" cy="567.42" r="1.25"/><circle cx="296.01" cy="563.59" r="1.25"/><circle cx="296.36" cy="559.76" r="1.25"/><circle cx="296.72" cy="559.48" r="1.25"/><circle cx="297.08" cy="559.21" r="1.25"/><circle cx="297.44" cy="555.3" r="1.25"/><circle cx="297.8" cy="543.9" r="1.25"/><circle cx="298.16" cy="534.16" r="1.25"/><circle cx="298.51" cy="539.5" r="1.25"/><circle cx="298.87" cy="535.06" r="1.25"/><circle cx="299.23" cy="540.77" r="1.25"/><circle cx="299.59" cy="537.19" r="1.25"/><circle cx="299.95" cy="527.17" r="1.25"/><circle cx="300.31" cy="519.32" r="1.25"/><circle cx="300.67" cy="516.82" r="1.25"/><circle cx="301.02" cy="525.11" r="1.25"/><circle cx="301.38" cy="534.97" r="1.25"/><circle cx="301.74" cy="532.28" r="1.25"/><circle cx="302.1" cy="546.05" r="1.25"/><circle cx="302.46" cy="541.4" r="1.25"/><circle cx="302.82" cy="550.65" r="1.25"/><circle cx="303.18" cy="537.26" r="1.25"/><circle cx="303.53" cy="524.28" r="1.25"/><circle cx="303.89" cy="524.17" r="1.25"/><circle cx="304.25" cy="538.86" r="1.25"/><circle cx="304.61" cy="517.78" r="1.25"/><circle cx="304.97" cy="530.1" r="1.25"/><circle cx="305.33" cy="525.71" r="1.25"/><circle cx="305.69" cy="514.91" r="1.25"/><circle cx="306.04" cy="514.36" r="1.25"/><circle cx="306.4" cy="513.65" r="1.25"/><circle cx="306.76" cy="513.88" r="1.25"/><circle cx="307.12" cy="505.88" r="1.25"/><circle cx="307.48" cy="514.99" r="1.25"/><circle cx="307.84" cy="513.9" r="1.25"/><circle cx="308.19" cy="496.26" r="1.25"/><circle cx="308.55" cy="513.18" r="1.25"/><circle cx="308.91" cy="504.81" r="1.25"/><circle cx="309.27" cy="501.51" r="1.25"/><circle cx="309.63" cy="496.52" r="1.25"/><circle cx="309.99" cy="488.93" r="1.25"/><circle cx="310.35" cy="482.15" r="1.25"/><circle cx="310.7" cy="478.86" r="1.25"/><circle cx="311.06" cy="475.1" r="1.25"/><circle cx="311.42" cy="471.85" r="1.25"/><circle cx="311.78" cy="469.37" r="1.25"/><circle cx="312.14" cy="467.8" r="1.25"/><circle cx="312.5" cy="467.08" r="1.25"/><circle cx="312.86" cy="465.2" r="1.25"/><circle cx="313.21" cy="466.78" r="1.25"/><circle cx="313.57" cy="467.13" r="1.25"/><circle cx="313.93" cy="466.34" r="1.25"/><circle cx="314.29" cy="464.74" r="1.25"/><circle cx="314.65" cy="465.29" r="1.25"/><circle cx="315.01" cy="464.89" r="1.25"/><circle cx="315.36" cy="463.16" r="1.25"/><circle cx="315.72" cy="462.59" r="1.25"/><circle cx="316.08" cy="461.19" r="1.25"/><circle cx="316.44" cy="461.4" r="1.25"/><circle cx="316.8" cy="461.15" r="1.25"/><circle cx="317.16" cy="460.06" r="1.25"/><circle cx="317.52" cy="459.52" r="1.25"/><circle cx="317.87" cy="458.65" r="1.25"/><circle cx="318.23" cy="459.07" r="1.25"/><circle cx="318.59" cy="460.17" r="1.25"/><circle cx="318.95" cy="458.61" r="1.25"/><circle cx="319.31" cy="458.29" r="1.25"/><circle cx="319.67" cy="458.1" r="1.25"/><circle cx="320.02" cy="457.36" r="1.25"/><circle cx="320.38" cy="457.81" r="1.25"/><circle cx="320.74" cy="456.64" r="1.25"/><circle cx="321.1" cy="457.51" r="1.25"/><circle cx="321.46" cy="456.13" r="1.25"/><circle cx="321.82" cy="457.81" r="1.25"/><circle cx="322.18" cy="458.57" r="1.25"/><circle cx="322.53" cy="457.4" r="1.25"/><circle cx="322.89" cy="454.63" r="1.25"/><circle cx="323.25" cy="456.97" r="1.25"/><circle cx="323.61" cy="456.94" r="1.25"/><circle cx="323.97" cy="456.73" r="1.25"/><circle cx="324.33" cy="457.31" r="1.25"/><circle cx="324.69" cy="456.88" r="1.25"/><circle cx="325.04" cy="457.06" r="1.25"/><circle cx="325.4" cy="455.72" r="1.25"/><circle cx="325.76" cy="456.48" r="1.25"/><circle cx="326.12" cy="457.28" r="1.25"/><circle cx="326.48" cy="457.1" r="1.25"/><circle cx="326.84" cy="457.29" r="1.25"/><circle cx="327.19" cy="458.64" r="1.25"/><circle cx="327.55" cy="457.16" r="1.25"/><circle cx="327.91" cy="458.57" r="1.25"/><circle cx="328.27" cy="457.46" r="1.25"/><circle cx="328.63" cy="457.88" r="1.25"/><circle cx="328.99" cy="457.26" r="1.25"/><circle cx="329.35" cy="456.83" r="1.25"/><circle cx="329.7" cy="457.38" r="1.25"/><circle cx="330.06" cy="458.1" r="1.25"/><circle cx="330.42" cy="458.18" r="1.25"/><circle cx="330.78" cy="457.85" r="1.25"/><circle cx="331.14" cy="458.88" r="1.25"/><circle cx="331.5" cy="459.44" r="1.25"/><circle cx="331.86" cy="460.91" r="1.25"/><circle cx="332.21" cy="462.74" r="1.25"/><circle cx="332.57" cy="463.04" r="1.25"/><circle cx="332.93" cy="464.32" r="1.25"/><circle cx="333.29" cy="466.12" r="1.25"/><circle cx="333.65" cy="469.92" r="1.25"/><circle cx="334.01" cy="473.39" r="1.25"/><circle cx="334.37" cy="478.86" r="1.25"/><circle cx="334.72" cy="484.34" r="1.25"/><circle cx="335.08" cy="487.99" r="1.25"/><circle cx="335.44" cy="491.65" r="1.25"/><circle cx="335.8" cy="495.3" r="1.25"/><circle cx="336.16" cy="513.56" r="1.25"/><circle cx="336.52" cy="525.3" r="1.25"/><circle cx="336.87" cy="500.12" r="1.25"/><circle cx="337.23" cy="455.4" r="1.25"/><circle cx="337.59" cy="456.26" r="1.25"/><circle cx="337.95" cy="457.41" r="1.25"/><circle cx="338.31" cy="459.69" r="1.25"/><circle cx="338.67" cy="465.37" r="1.25"/><circle cx="339.03" cy="470.51" r="1.25"/><circle cx="339.38" cy="473.49" r="1.25"/><circle cx="339.74" cy="479.18" r="1.25"/><circle cx="340.1" cy="478.71" r="1.25"/><circle cx="340.46" cy="494.19" r="1.25"/><circle cx="340.82" cy="503.11" r="1.25"/><circle cx="341.18" cy="499.63" r="1.25"/><circle cx="341.53" cy="509.1" r="1.25"/><circle cx="341.89" cy="518.94" r="1.25"/><circle cx="342.25" cy="513.51" r="1.25"/><circle cx="342.61" cy="519.63" r="1.25"/><circle cx="342.97" cy="529.1" r="1.25"/><circle cx="343.33" cy="515.63" r="1.25"/><circle cx="343.69" cy="529.85" r="1.25"/><circle cx="344.04" cy="516.02" r="1.25"/><circle cx="344.4" cy="507.86" r="1.25"/><circle cx="344.76" cy="513.01" r="1.25"/><circle cx="345.12" cy="490.48" r="1.25"/><circle cx="345.48" cy="495.49" r="1.25"/><circle cx="345.84" cy="486.84" r="1.25"/><circle cx="346.2" cy="496.21" r="1.25"/><circle cx="346.55" cy="493.79" r="1.25"/><circle cx="346.91" cy="500.62" r="1.25"/><circle cx="347.27" cy="488.38" r="1.25"/><circle cx="347.63" cy="501.74" r="1.25"/><circle cx="347.99" cy="504.52" r="1.25"/><circle cx="348.35" cy="511.65" r="1.25"/><circle cx="348.7" cy="522.53" r="1.25"/><circle cx="349.06" cy="531.5" r="1.25"/><circle cx="349.42" cy="532.19" r="1.25"/><circle cx="349.78" cy="533.3" r="1.25"/><circle cx="350.14" cy="537.95" r="1.25"/><circle cx="350.5" cy="536.27" r="1.25"/><circle cx="350.86" cy="534.5" r="1.25"/><circle cx="351.21" cy="522.57" r="1.25"/><circle cx="351.57" cy="517.27" r="1.25"/><circle cx="351.93" cy="512.69" r="1.25"/><circle cx="352.29" cy="524.54" r="1.25"/><circle cx="352.65" cy="518.4" r="1.25"/><circle cx="353.01" cy="517.22" r="1.25"/><circle cx="353.37" cy="525.82" r="1.25"/><circle cx="353.72" cy="525.98" r="1.25"/><circle cx="354.08" cy="515.74" r="1.25"/><circle cx="354.44" cy="521.16" r="1.25"/><circle cx="354.8" cy="520.74" r="1.25"/><circle cx="355.16" cy="522.21" r="1.25"/><circle cx="355.52" cy="527.7" r="1.25"/><circle cx="355.88" cy="531.05" r="1.25"/><circle cx="356.23" cy="535.2" r="1.25"/><circle cx="356.59" cy="532.75" r="1.25"/><circle cx="356.95" cy="550.77" r="1.25"/><circle cx="357.31" cy="544.4" r="1.25"/><circle cx="357.67" cy="538.84" r="1.25"/><circle cx="358.03" cy="543.54" r="1.25"/><circle cx="358.38" cy="550.57" r="1.25"/><circle cx="358.74" cy="548.45" r="1.25"/><circle cx="359.1" cy="540.05" r="1.25"/><circle cx="359.46" cy="545.89" r="1.25"/><circle cx="359.82" cy="551.43" r="1.25"/><circle cx="360.18" cy="531.9" r="1.25"/><circle cx="360.54" cy="539.6" r="1.25"/><circle cx="360.89" cy="541.04" r="1.25"/><circle cx="361.25" cy="553.38" r="1.25"/><circle cx="361.61" cy="552.92" r="1.25"/><circle cx="361.97" cy="536.85" r="1.25"/><circle cx="362.33" cy="526.12" r="1.25"/><circle cx="362.69" cy="538.34" r="1.25"/><circle cx="363.05" cy="526.75" r="1.25"/><circle cx="363.4" cy="518.32" r="1.25"/><circle cx="363.76" cy="516.38" r="1.25"/><circle cx="364.12" cy="513.11" r="1.25"/><circle cx="364.48" cy="509.97" r="1.25"/><circle cx="364.84" cy="505.96" r="1.25"/><circle cx="365.2" cy="486.57" r="1.25"/><circle cx="365.55" cy="480.79" r="1.25"/><circle cx="365.91" cy="633.79" r="1.25"/><circle cx="366.27" cy="635.9" r="1.25"/><circle cx="366.63" cy="635.9" r="1.25"/><circle cx="366.99" cy="635.9" r="1.25"/><circle cx="367.35" cy="635.9" r="1.25"/><circle cx="367.71" cy="635.9" r="1.25"/><circle cx="368.06" cy="635.9" r="1.25"/><circle cx="368.42" cy="635.9" r="1.25"/><circle cx="368.78" cy="635.9" r="1.25"/><circle cx="369.14" cy="635.9" r="1.25"/><circle cx="369.5" cy="635.9" r="1.25"/><circle cx="369.86" cy="635.9" r="1.25"/><circle cx="370.21" cy="635.9" r="1.25"/><circle cx="370.57" cy="635.9" r="1.25"/><circle cx="370.93" cy="635.9" r="1.25"/><circle cx="371.29" cy="635.9" r="1.25"/><circle cx="371.65" cy="635.9" r="1.25"/><circle cx="372.01" cy="635.9" r="1.25"/><circle cx="372.37" cy="635.9" r="1.25"/><circle cx="372.72" cy="635.9" r="1.25"/><circle cx="373.08" cy="635.9" r="1.25"/><circle cx="373.44" cy="635.9" r="1.25"/><circle cx="373.8" cy="635.9" r="1.25"/><circle cx="374.16" cy="635.9" r="1.25"/><circle cx="374.52" cy="635.9" r="1.25"/><circle cx="374.88" cy="635.9" r="1.25"/><circle cx="375.23" cy="635.9" r="1.25"/><circle cx="375.59" cy="635.9" r="1.25"/><circle cx="375.95" cy="635.9" r="1.25"/><circle cx="376.31" cy="635.9" r="1.25"/><circle cx="376.67" cy="635.9" r="1.25"/><circle cx="377.03" cy="635.9" r="1.25"/><circle cx="377.38" cy="635.9" r="1.25"/><circle cx="377.74" cy="635.9" r="1.25"/><circle cx="378.1" cy="635.9" r="1.25"/><circle cx="378.46" cy="635.9" r="1.25"/><circle cx="378.82" cy="635.9" r="1.25"/><circle cx="379.18" cy="635.9" r="1.25"/><circle cx="379.54" cy="635.9" r="1.25"/><circle cx="379.89" cy="635.9" r="1.25"/><circle cx="380.25" cy="635.9" r="1.25"/><circle cx="380.61" cy="635.9" r="1.25"/><circle cx="380.97" cy="635.9" r="1.25"/><circle cx="381.33" cy="635.9" r="1.25"/><circle cx="381.69" cy="635.9" r="1.25"/><circle cx="382.05" cy="635.9" r="1.25"/><circle cx="382.4" cy="635.9" r="1.25"/><circle cx="382.76" cy="635.9" r="1.25"/><circle cx="383.12" cy="635.9" r="1.25"/><circle cx="383.48" cy="635.9" r="1.25"/><circle cx="383.84" cy="635.9" r="1.25"/><circle cx="384.2" cy="635.9" r="1.25"/><circle cx="384.56" cy="635.9" r="1.25"/><circle cx="384.91" cy="635.9" r="1.25"/><circle cx="385.27" cy="635.9" r="1.25"/><circle cx="385.63" cy="635.9" r="1.25"/><circle cx="385.99" cy="635.9" r="1.25"/><circle cx="386.35" cy="635.9" r="1.25"/><circle cx="386.71" cy="635.9" r="1.25"/><circle cx="387.06" cy="635.9" r="1.25"/><circle cx="387.42" cy="635.9" r="1.25"/><circle cx="387.78" cy="635.9" r="1.25"/><circle cx="388.14" cy="635.9" r="1.25"/><circle cx="388.5" cy="635.9" r="1.25"/><circle cx="388.86" cy="635.9" r="1.25"/><circle cx="389.22" cy="635.9" r="1.25"/><circle cx="389.57" cy="635.9" r="1.25"/><circle cx="389.93" cy="635.9" r="1.25"/><circle cx="390.29" cy="635.9" r="1.25"/><circle cx="390.65" cy="635.9" r="1.25"/><circle cx="391.01" cy="635.9" r="1.25"/><circle cx="391.37" cy="635.9" r="1.25"/><circle cx="391.73" cy="635.9" r="1.25"/><circle cx="392.08" cy="635.9" r="1.25"/><circle cx="392.44" cy="635.9" r="1.25"/><circle cx="392.8" cy="635.9" r="1.25"/><circle cx="393.16" cy="635.9" r="1.25"/><circle cx="393.52" cy="635.9" r="1.25"/><circle cx="393.88" cy="635.9" r="1.25"/><circle cx="394.23" cy="635.9" r="1.25"/><circle cx="394.59" cy="635.9" r="1.25"/><circle cx="394.95" cy="635.9" r="1.25"/><circle cx="395.31" cy="635.9" r="1.25"/><circle cx="395.67" cy="635.9" r="1.25"/><circle cx="396.03" cy="635.9" r="1.25"/><circle cx="396.39" cy="635.9" r="1.25"/><circle cx="396.74" cy="635.9" r="1.25"/><circle cx="397.1" cy="635.9" r="1.25"/><circle cx="397.46" cy="635.9" r="1.25"/><circle cx="397.82" cy="635.9" r="1.25"/><circle cx="398.18" cy="635.9" r="1.25"/><circle cx="398.54" cy="635.9" r="1.25"/><circle cx="398.89" cy="635.9" r="1.25"/><circle cx="399.25" cy="635.9" r="1.25"/><circle cx="399.61" cy="635.9" r="1.25"/><circle cx="399.97" cy="635.9" r="1.25"/><circle cx="400.33" cy="635.9" r="1.25"/><circle cx="400.69" cy="635.9" r="1.25"/><circle cx="401.05" cy="635.9" r="1.25"/><circle cx="401.4" cy="635.9" r="1.25"/><circle cx="401.76" cy="635.9" r="1.25"/><circle cx="402.12" cy="635.9" r="1.25"/><circle cx="402.48" cy="635.9" r="1.25"/><circle cx="402.84" cy="635.9" r="1.25"/><circle cx="403.2" cy="635.9" r="1.25"/><circle cx="403.56" cy="635.9" r="1.25"/><circle cx="403.91" cy="635.9" r="1.25"/><circle cx="404.27" cy="635.9" r="1.25"/><circle cx="404.63" cy="635.9" r="1.25"/><circle cx="404.99" cy="635.9" r="1.25"/><circle cx="405.35" cy="635.9" r="1.25"/><circle cx="405.71" cy="635.9" r="1.25"/><circle cx="406.06" cy="635.9" r="1.25"/><circle cx="406.42" cy="635.9" r="1.25"/><circle cx="406.78" cy="635.9" r="1.25"/><circle cx="407.14" cy="635.9" r="1.25"/><circle cx="407.5" cy="635.9" r="1.25"/><circle cx="407.86" cy="635.9" r="1.25"/><circle cx="408.22" cy="635.9" r="1.25"/><circle cx="408.57" cy="635.9" r="1.25"/><circle cx="408.93" cy="635.9" r="1.25"/><circle cx="409.29" cy="635.9" r="1.25"/><circle cx="409.65" cy="635.9" r="1.25"/><circle cx="410.01" cy="635.9" r="1.25"/><circle cx="410.37" cy="635.9" r="1.25"/><circle cx="410.73" cy="635.9" r="1.25"/><circle cx="411.08" cy="635.9" r="1.25"/><circle cx="411.44" cy="635.9" r="1.25"/><circle cx="411.8" cy="635.9" r="1.25"/><circle cx="412.16" cy="635.9" r="1.25"/><circle cx="412.52" cy="635.9" r="1.25"/><circle cx="412.88" cy="635.9" r="1.25"/><circle cx="413.24" cy="635.9" r="1.25"/><circle cx="413.59" cy="635.9" r="1.25"/><circle cx="413.95" cy="635.9" r="1.25"/><circle cx="414.31" cy="635.9" r="1.25"/><circle cx="414.67" cy="635.9" r="1.25"/><circle cx="415.03" cy="635.9" r="1.25"/><circle cx="415.39" cy="635.9" r="1.25"/><circle cx="415.74" cy="635.9" r="1.25"/><circle cx="416.1" cy="635.9" r="1.25"/><circle cx="416.46" cy="635.9" r="1.25"/><circle cx="416.82" cy="635.9" r="1.25"/><circle cx="417.18" cy="635.9" r="1.25"/><circle cx="417.54" cy="635.9" r="1.25"/><circle cx="417.9" cy="635.9" r="1.25"/><circle cx="418.25" cy="635.9" r="1.25"/><circle cx="418.61" cy="635.9" r="1.25"/><circle cx="418.97" cy="635.9" r="1.25"/><circle cx="419.33" cy="635.9" r="1.25"/><circle cx="419.69" cy="635.9" r="1.25"/><circle cx="420.05" cy="635.9" r="1.25"/><circle cx="420.4" cy="635.9" r="1.25"/><circle cx="420.76" cy="635.9" r="1.25"/><circle cx="421.12" cy="635.9" r="1.25"/><circle cx="421.48" cy="635.9" r="1.25"/><circle cx="421.84" cy="635.9" r="1.25"/><circle cx="422.2" cy="635.9" r="1.25"/><circle cx="422.56" cy="635.9" r="1.25"/><circle cx="422.91" cy="635.9" r="1.25"/><circle cx="423.27" cy="635.9" r="1.25"/><circle cx="423.63" cy="635.9" r="1.25"/><circle cx="423.99" cy="635.9" r="1.25"/><circle cx="424.35" cy="635.9" r="1.25"/><circle cx="424.71" cy="635.9" r="1.25"/><circle cx="425.07" cy="635.9" r="1.25"/><circle cx="425.42" cy="635.9" r="1.25"/><circle cx="425.78" cy="635.9" r="1.25"/><circle cx="426.14" cy="635.9" r="1.25"/><circle cx="426.5" cy="635.9" r="1.25"/><circle cx="426.86" cy="635.9" r="1.25"/><circle cx="427.22" cy="635.9" r="1.25"/><circle cx="427.57" cy="635.9" r="1.25"/><circle cx="427.93" cy="635.9" r="1.25"/><circle cx="428.29" cy="635.9" r="1.25"/><circle cx="428.65" cy="635.9" r="1.25"/><circle cx="429.01" cy="635.9" r="1.25"/><circle cx="429.37" cy="635.9" r="1.25"/><circle cx="429.73" cy="635.9" r="1.25"/><circle cx="430.08" cy="635.9" r="1.25"/><circle cx="430.44" cy="635.9" r="1.25"/><circle cx="430.8" cy="635.9" r="1.25"/><circle cx="431.16" cy="635.9" r="1.25"/><circle cx="431.52" cy="635.9" r="1.25"/><circle cx="431.88" cy="635.9" r="1.25"/><circle cx="432.24" cy="635.9" r="1.25"/><circle cx="432.59" cy="635.9" r="1.25"/><circle cx="432.95" cy="635.9" r="1.25"/><circle cx="433.31" cy="635.9" r="1.25"/><circle cx="433.67" cy="635.9" r="1.25"/><circle cx="434.03" cy="635.9" r="1.25"/><circle cx="434.39" cy="635.9" r="1.25"/><circle cx="434.75" cy="635.9" r="1.25"/><circle cx="435.1" cy="635.9" r="1.25"/><circle cx="435.46" cy="635.9" r="1.25"/><circle cx="435.82" cy="635.9" r="1.25"/><circle cx="436.18" cy="635.9" r="1.25"/><circle cx="436.54" cy="635.9" r="1.25"/><circle cx="436.9" cy="635.9" r="1.25"/><circle cx="437.25" cy="635.9" r="1.25"/><circle cx="437.61" cy="635.9" r="1.25"/><circle cx="437.97" cy="635.9" r="1.25"/><circle cx="438.33" cy="635.9" r="1.25"/><circle cx="438.69" cy="635.9" r="1.25"/><circle cx="439.05" cy="635.9" r="1.25"/><circle cx="439.41" cy="635.9" r="1.25"/><circle cx="439.76" cy="635.9" r="1.25"/><circle cx="440.12" cy="635.9" r="1.25"/><circle cx="440.48" cy="635.9" r="1.25"/><circle cx="440.84" cy="635.9" r="1.25"/><circle cx="441.2" cy="635.9" r="1.25"/><circle cx="441.56" cy="635.9" r="1.25"/><circle cx="441.91" cy="635.9" r="1.25"/><circle cx="442.27" cy="635.9" r="1.25"/><circle cx="442.63" cy="635.9" r="1.25"/><circle cx="442.99" cy="635.9" r="1.25"/><circle cx="443.35" cy="635.9" r="1.25"/><circle cx="443.71" cy="635.9" r="1.25"/><circle cx="444.07" cy="635.9" r="1.25"/><circle cx="444.42" cy="635.9" r="1.25"/><circle cx="444.78" cy="635.9" r="1.25"/><circle cx="445.14" cy="635.17" r="1.25"/><circle cx="445.5" cy="633.71" r="1.25"/>
</g>
</g>
<g>
<rect x="462.2" y="444" width="196.5" height="201" fill="#ebebeb"/>
<path d="M462.2 613.07h196.5M462.2 567.42h196.5M462.2 521.77h196.5M462.2 476.12h196.5M488.77 444v201M524.62 444v201M560.47 444v201M596.32 444v201M632.17 444v201" stroke="#fff" stroke-width="0.8" fill="none"/>
<path d="M462.2 635.9h196.5M462.2 590.25h196.5M462.2 544.6h196.5M462.2 498.95h196.5M462.2 453.3h196.5M470.85 444v201M506.7 444v201M542.55 444v201M578.4 444v201M614.25 444v201M650.1 444v201" stroke="#fff" stroke-width="1.55" fill="none"/>
<path d="M471.21 453.3 L496.81 453.3 L496.81 635.9 L507.31 635.9 L507.31 453.3 L557.43 453.3 L557.43 635.9 L561.01 635.9 L561.01 453.3 L589.15 453.3 L589.15 635.9 L650.1 635.9" stroke="#00ff00" stroke-width="1.45" fill="none" stroke-linejoin="miter"/>
<path d="M471.21 484.71 471.57 487.99 471.93 489.64 472.28 489.64 472.64 489.64 473 491.28 473.36 492.92 473.72 492.92 474.08 492.92 474.43 494.57 474.79 494.57 475.15 497.85 475.51 497.85 475.87 496.21 476.23 496.21 476.59 497.85 476.94 496.21 477.3 497.85 477.66 497.85 478.02 499.5 478.38 496.21 478.74 499.5 479.1 499.5 479.45 499.5 479.81 502.78 480.17 502.78 480.53 504.43 480.89 504.43 481.25 506.07 481.6 507.71 481.96 507.71 482.32 507.71 482.68 507.71 483.04 506.07 483.4 506.07 483.76 504.43 484.11 504.43 484.47 502.78 484.83 502.78 485.19 501.14 485.55 501.14 485.91 497.85 486.27 497.85 486.62 497.85 486.98 496.21 487.34 497.85 487.7 499.5 488.06 501.14 488.42 504.43 488.77 504.43 489.13 506.07 489.49 507.71 489.85 509.36 490.21 509.36 490.57 507.71 490.93 507.71 491.28 507.71 491.64 504.43 492 504.43 492.36 502.78 492.72 499.5 493.08 501.14 493.44 497.85 493.79 496.21 494.15 496.21 494.51 496.21 494.87 494.57 495.23 494.57 495.59 497.85 495.94 497.85 496.3 497.85 496.66 499.5 497.02 501.14 497.38 497.85 497.74 496.21 498.1 496.21 498.45 494.57 498.81 492.92 499.17 494.57 499.53 492.92 499.89 494.57 500.25 494.57 500.61 497.85 500.96 499.5 501.32 499.5 501.68 499.5 502.04 496.21 502.4 492.92 502.76 489.64 503.11 489.64 503.47 486.35 503.83 487.99 504.19 486.35 504.55 484.71 504.91 486.35 505.27 483.06 505.62 479.78 505.98 481.42 506.34 486.35 506.7 487.99 507.06 489.64 507.42 489.64 507.78 489.64 508.13 487.99 508.49 484.71 508.85 484.71 509.21 486.35 509.57 484.71 509.93 484.71 510.28 484.71 510.64 484.71 511 484.71 511.36 484.71 511.72 479.78 512.08 478.13 512.44 476.49 512.79 476.49 513.15 474.85 513.51 473.2 513.87 473.2 514.23 473.2 514.59 473.2 514.95 474.85 515.3 474.85 515.66 471.56 516.02 469.92 516.38 466.63 516.74 466.63 517.1 464.99 517.45 466.63 517.81 463.34 518.17 463.34 518.53 461.7 518.89 460.06 519.25 456.77 519.61 455.13 519.96 455.13 520.32 455.13 520.68 455.13 521.04 456.77 521.4 460.06 521.76 464.99 522.12 466.63 522.47 466.63 522.83 468.27 523.19 468.27 523.55 469.92 523.91 471.56 524.27 469.92 524.62 469.92 524.98 469.92 525.34 473.2 525.7 471.56 526.06 469.92 526.42 469.92 526.78 469.92 527.13 469.92 527.49 469.92 527.85 471.56 528.21 471.56 528.57 471.56 528.93 473.2 529.29 474.85 529.64 474.85 530 473.2 530.36 474.85 530.72 476.49 531.08 474.85 531.44 474.85 531.79 474.85 532.15 474.85 532.51 476.49 532.87 478.13 533.23 478.13 533.59 478.13 533.95 476.49 534.3 479.78 534.66 478.13 535.02 481.42 535.38 481.42 535.74 481.42 536.1 481.42 536.46 483.06 536.81 484.71 537.17 484.71 537.53 484.71 537.89 489.64 538.25 489.64 538.61 492.92 538.96 496.21 539.32 501.14 539.68 502.78 540.04 509.36 540.4 511 540.76 512.64 541.12 515.93 541.47 517.58 541.83 519.22 542.19 519.22 542.55 519.22 542.91 520.86 543.27 520.86 543.63 524.15 543.98 525.79 544.34 530.72 544.7 530.72 545.06 530.72 545.42 532.37 545.78 534.01 546.13 534.01 546.49 534.01 546.85 535.65 547.21 535.65 547.57 538.94 547.93 542.23 548.29 543.87 548.64 548.8 549 552.09 549.36 553.73 549.72 555.37 550.08 553.73 550.44 555.37 550.8 558.66 551.15 558.66 551.51 558.66 551.87 560.3 552.23 561.95 552.59 565.23 552.95 566.88 553.3 568.52 553.66 570.16 554.02 571.81 554.38 573.45 554.74 573.45 555.1 573.45 555.46 576.74 555.81 576.74 556.17 576.74 556.53 578.38 556.89 576.74 557.25 581.67 557.61 581.67 557.97 581.67 558.32 580.02 558.68 581.67 559.04 583.31 559.4 583.31 559.76 584.95 560.12 584.95 560.47 584.95 560.83 589.88 561.19 588.24 561.55 589.88 561.91 593.17 562.27 593.17 562.63 593.17 562.98 593.17 563.34 594.81 563.7 594.81 564.06 596.46 564.42 596.46 564.78 596.46 565.14 598.1 565.49 598.1 565.85 599.75 566.21 599.75 566.57 601.39 566.93 601.39 567.29 603.03 567.64 603.03 568 603.03 568.36 601.39 568.72 604.68 569.08 603.03 569.44 604.68 569.8 604.68 570.15 604.68 570.51 604.68 570.87 604.68 571.23 606.32 571.59 606.32 571.95 606.32 572.31 606.32 572.66 606.32 573.02 606.32 573.38 607.96 573.74 609.61 574.1 607.96 574.46 607.96 574.81 609.61 575.17 609.61 575.53 611.25 575.89 611.25 576.25 611.25 576.61 612.89 576.97 612.89 577.32 614.54 577.68 614.54 578.04 616.18 578.4 616.18 578.76 616.18 579.12 617.82 579.48 617.82 579.83 617.82 580.19 617.82 580.55 617.82 580.91 617.82 581.27 617.82 581.63 619.47 581.98 619.47 582.34 619.47 582.7 619.47 583.06 619.47 583.42 619.47 583.78 619.47 584.14 619.47 584.49 619.47 584.85 619.47 585.21 621.11 585.57 619.47 585.93 619.47 586.29 619.47 586.65 619.47 587 619.47 587.36 619.47 587.72 619.47 588.08 619.47 588.44 619.47 588.8 619.47 589.15 619.47 589.51 619.47 589.87 619.47 590.23 619.47 590.59 619.47 590.95 619.47 591.31 619.47 591.66 621.11 592.02 619.47 592.38 619.47 592.74 621.11 593.1 621.11 593.46 621.11 593.82 621.11 594.17 621.11 594.53 621.11 594.89 621.11 595.25 621.11 595.61 621.11 595.97 621.11 596.32 621.11 596.68 621.11 597.04 621.11 597.4 621.11 597.76 622.75 598.12 622.75 598.48 622.75 598.83 622.75 599.19 624.4 599.55 624.4 599.91 624.4 600.27 624.4 600.63 624.4 600.99 624.4 601.34 626.04 601.7 626.04 602.06 626.04 602.42 626.04 602.78 626.04 603.14 626.04 603.49 627.68 603.85 627.68 604.21 627.68 604.57 627.68 604.93 627.68 605.29 629.33 605.65 629.33 606 629.33 606.36 629.33 606.72 630.97 607.08 630.97 607.44 630.97 607.8 630.97 608.16 630.97 608.51 630.97 608.87 630.97 609.23 630.97 609.59 630.97 609.95 630.97 610.31 630.97 610.66 630.97 611.02 630.97 611.38 630.97 611.74 630.97 612.1 630.97 612.46 630.97 612.82 630.97 613.17 630.97 613.53 630.97 613.89 630.97 614.25 630.97 614.61 632.61 614.97 632.61 615.33 632.61 615.68 632.61 616.04 632.61 616.4 632.61 616.76 632.61 617.12 632.61 617.48 632.61 617.83 632.61 618.19 632.61 618.55 632.61 618.91 632.61 619.27 632.61 619.63 634.26 619.99 634.26 620.34 634.26 620.7 634.26 621.06 634.26 621.42 634.26 621.78 634.26 622.14 634.26 622.5 635.9 622.85 635.9 623.21 635.9 623.57 635.9 623.93 635.9 624.29 635.9 624.65 635.9 625 635.9 625.36 635.9 625.72 635.9 626.08 635.9 626.44 635.9 626.8 635.9 627.16 635.9 627.51 635.9 627.87 635.9 628.23 635.9 628.59 635.9 628.95 635.9 629.31 635.9 629.67 635.9 630.02 635.9 630.38 635.9 630.74 635.9 631.1 635.9 631.46 635.9 631.82 635.9 632.17 635.9 632.53 635.9 632.89 635.9 633.25 635.9 633.61 635.9 633.97 635.9 634.33 635.9 634.68 635.9 635.04 635.9 635.4 635.9 635.76 635.9 636.12 635.9 636.48 635.9 636.84 635.9 637.19 635.9 637.55 635.9 637.91 635.9 638.27 635.9 638.63 635.9 638.99 635.9 639.35 635.9 639.7 635.9 640.06 635.9 640.42 635.9 640.78 635.9 641.14 635.9 641.5 635.9 641.85 635.9 642.21 635.9 642.57 635.9 642.93 635.9 643.29 635.9 643.65 635.9 644.01 635.9 644.36 635.9 644.72 635.9 645.08 635.9 645.44 635.9 645.8 635.9 646.16 635.9 646.51 635.9 646.87 635.9 647.23 635.9 647.59 635.9 647.95 635.9 648.31 635.9 648.67 635.9 649.02 635.9 649.38 635.9 649.74 635.9 650.1 635.9" stroke="#000" stroke-width="1.5" fill="none" stroke-linejoin="round" stroke-linecap="butt"/>
<g fill="#ff0000" fill-opacity="0.5" stroke="#ff0000" stroke-opacity="0.5" stroke-width="0.9">
<circle cx="471.21" cy="468.73" r="1.25"/><circle cx="471.57" cy="468.86" r="1.25"/><circle cx="471.93" cy="469.65" r="1.25"/><circle cx="472.28" cy="467.83" r="1.25"/><circle cx="472.64" cy="471.77" r="1.25"/><circle cx="473" cy="468.37" r="1.25"/><circle cx="473.36" cy="471" r="1.25"/><circle cx="473.72" cy="472.81" r="1.25"/><circle cx="474.08" cy="469.01" r="1.25"/><circle cx="474.43" cy="465.49" r="1.25"/><circle cx="474.79" cy="465.57" r="1.25"/><circle cx="475.15" cy="465.5" r="1.25"/><circle cx="475.51" cy="466.41" r="1.25"/><circle cx="475.87" cy="466.14" r="1.25"/><circle cx="476.23" cy="466.33" r="1.25"/><circle cx="476.59" cy="466.51" r="1.25"/><circle cx="476.94" cy="466.7" r="1.25"/><circle cx="477.3" cy="467.01" r="1.25"/><circle cx="477.66" cy="467.49" r="1.25"/><circle cx="478.02" cy="467.97" r="1.25"/><circle cx="478.38" cy="468.46" r="1.25"/><circle cx="478.74" cy="468.68" r="1.25"/><circle cx="479.1" cy="468.91" r="1.25"/><circle cx="479.45" cy="469.14" r="1.25"/><circle cx="479.81" cy="469.37" r="1.25"/><circle cx="480.17" cy="470.39" r="1.25"/><circle cx="480.53" cy="471.41" r="1.25"/><circle cx="480.89" cy="472.43" r="1.25"/><circle cx="481.25" cy="474.34" r="1.25"/><circle cx="481.6" cy="476.86" r="1.25"/><circle cx="481.96" cy="479.59" r="1.25"/><circle cx="482.32" cy="483.25" r="1.25"/><circle cx="482.68" cy="488.18" r="1.25"/><circle cx="483.04" cy="492.74" r="1.25"/><circle cx="483.4" cy="497.2" r="1.25"/><circle cx="483.76" cy="502.02" r="1.25"/><circle cx="484.11" cy="506.16" r="1.25"/><circle cx="484.47" cy="508.61" r="1.25"/><circle cx="484.83" cy="510.64" r="1.25"/><circle cx="485.19" cy="512.46" r="1.25"/><circle cx="485.55" cy="514.29" r="1.25"/><circle cx="485.91" cy="519.04" r="1.25"/><circle cx="486.27" cy="528.17" r="1.25"/><circle cx="486.62" cy="531.82" r="1.25"/><circle cx="486.98" cy="535.47" r="1.25"/><circle cx="487.34" cy="539.12" r="1.25"/><circle cx="487.7" cy="542.77" r="1.25"/><circle cx="488.06" cy="546.43" r="1.25"/><circle cx="488.42" cy="555.56" r="1.25"/><circle cx="488.77" cy="556.85" r="1.25"/><circle cx="489.13" cy="558.15" r="1.25"/><circle cx="489.49" cy="559.45" r="1.25"/><circle cx="489.85" cy="560.82" r="1.25"/><circle cx="490.21" cy="562.5" r="1.25"/><circle cx="490.57" cy="564.18" r="1.25"/><circle cx="490.93" cy="563.19" r="1.25"/><circle cx="491.28" cy="561.06" r="1.25"/><circle cx="491.64" cy="558.57" r="1.25"/><circle cx="492" cy="555.24" r="1.25"/><circle cx="492.36" cy="551.9" r="1.25"/><circle cx="492.72" cy="548.25" r="1.25"/><circle cx="493.08" cy="544.6" r="1.25"/><circle cx="493.44" cy="539.12" r="1.25"/><circle cx="493.79" cy="533.64" r="1.25"/><circle cx="494.15" cy="524.51" r="1.25"/><circle cx="494.51" cy="513.56" r="1.25"/><circle cx="494.87" cy="508.08" r="1.25"/><circle cx="495.23" cy="499.8" r="1.25"/><circle cx="495.59" cy="494.49" r="1.25"/><circle cx="495.94" cy="492.16" r="1.25"/><circle cx="496.3" cy="489.82" r="1.25"/><circle cx="496.66" cy="487.39" r="1.25"/><circle cx="497.02" cy="484.73" r="1.25"/><circle cx="497.38" cy="481.79" r="1.25"/><circle cx="497.74" cy="478.13" r="1.25"/><circle cx="498.1" cy="474.69" r="1.25"/><circle cx="498.45" cy="472.08" r="1.25"/><circle cx="498.81" cy="469.61" r="1.25"/><circle cx="499.17" cy="467.43" r="1.25"/><circle cx="499.53" cy="465.84" r="1.25"/><circle cx="499.89" cy="464.26" r="1.25"/><circle cx="500.25" cy="463.5" r="1.25"/><circle cx="500.61" cy="462.73" r="1.25"/><circle cx="500.96" cy="461.97" r="1.25"/><circle cx="501.32" cy="461.37" r="1.25"/><circle cx="501.68" cy="461" r="1.25"/><circle cx="502.04" cy="460.62" r="1.25"/><circle cx="502.4" cy="460.25" r="1.25"/><circle cx="502.76" cy="459.88" r="1.25"/><circle cx="503.11" cy="459.63" r="1.25"/><circle cx="503.47" cy="459.5" r="1.25"/><circle cx="503.83" cy="459.38" r="1.25"/><circle cx="504.19" cy="459.25" r="1.25"/><circle cx="504.55" cy="459.13" r="1.25"/><circle cx="504.91" cy="459" r="1.25"/><circle cx="505.27" cy="458.88" r="1.25"/><circle cx="505.62" cy="458.72" r="1.25"/><circle cx="505.98" cy="458.44" r="1.25"/><circle cx="506.34" cy="458.17" r="1.25"/><circle cx="506.7" cy="457.89" r="1.25"/><circle cx="507.06" cy="457.61" r="1.25"/><circle cx="507.42" cy="457.33" r="1.25"/><circle cx="507.78" cy="457.01" r="1.25"/><circle cx="508.13" cy="456.61" r="1.25"/><circle cx="508.49" cy="456.2" r="1.25"/><circle cx="508.85" cy="455.8" r="1.25"/><circle cx="509.21" cy="455.39" r="1.25"/><circle cx="509.57" cy="454.98" r="1.25"/><circle cx="509.93" cy="454.58" r="1.25"/><circle cx="510.28" cy="454.41" r="1.25"/><circle cx="510.64" cy="454.23" r="1.25"/><circle cx="511" cy="454.06" r="1.25"/><circle cx="511.36" cy="453.89" r="1.25"/><circle cx="511.72" cy="453.71" r="1.25"/><circle cx="512.08" cy="453.54" r="1.25"/><circle cx="512.44" cy="453.37" r="1.25"/><circle cx="512.79" cy="453.31" r="1.25"/><circle cx="513.15" cy="453.31" r="1.25"/><circle cx="513.51" cy="453.32" r="1.25"/><circle cx="513.87" cy="453.33" r="1.25"/><circle cx="514.23" cy="453.34" r="1.25"/><circle cx="514.59" cy="453.35" r="1.25"/><circle cx="514.95" cy="453.36" r="1.25"/><circle cx="515.3" cy="453.36" r="1.25"/><circle cx="515.66" cy="453.37" r="1.25"/><circle cx="516.02" cy="453.38" r="1.25"/><circle cx="516.38" cy="453.39" r="1.25"/><circle cx="516.74" cy="453.4" r="1.25"/><circle cx="517.1" cy="453.41" r="1.25"/><circle cx="517.45" cy="453.41" r="1.25"/><circle cx="517.81" cy="453.42" r="1.25"/><circle cx="518.17" cy="453.43" r="1.25"/><circle cx="518.53" cy="453.44" r="1.25"/><circle cx="518.89" cy="453.45" r="1.25"/><circle cx="519.25" cy="453.46" r="1.25"/><circle cx="519.61" cy="453.46" r="1.25"/><circle cx="519.96" cy="453.47" r="1.25"/><circle cx="520.32" cy="453.48" r="1.25"/><circle cx="520.68" cy="453.49" r="1.25"/><circle cx="521.04" cy="453.5" r="1.25"/><circle cx="521.4" cy="453.51" r="1.25"/><circle cx="521.76" cy="453.51" r="1.25"/><circle cx="522.12" cy="453.52" r="1.25"/><circle cx="522.47" cy="453.53" r="1.25"/><circle cx="522.83" cy="453.54" r="1.25"/><circle cx="523.19" cy="453.55" r="1.25"/><circle cx="523.55" cy="453.56" r="1.25"/><circle cx="523.91" cy="453.56" r="1.25"/><circle cx="524.27" cy="453.57" r="1.25"/><circle cx="524.62" cy="453.58" r="1.25"/><circle cx="524.98" cy="453.59" r="1.25"/><circle cx="525.34" cy="453.6" r="1.25"/><circle cx="525.7" cy="453.61" r="1.25"/><circle cx="526.06" cy="453.61" r="1.25"/><circle cx="526.42" cy="453.62" r="1.25"/><circle cx="526.78" cy="453.63" r="1.25"/><circle cx="527.13" cy="453.64" r="1.25"/><circle cx="527.49" cy="453.65" r="1.25"/><circle cx="527.85" cy="453.66" r="1.25"/><circle cx="528.21" cy="453.67" r="1.25"/><circle cx="528.57" cy="453.88" r="1.25"/><circle cx="528.93" cy="454.09" r="1.25"/><circle cx="529.29" cy="454.31" r="1.25"/><circle cx="529.64" cy="454.52" r="1.25"/><circle cx="530" cy="454.73" r="1.25"/><circle cx="530.36" cy="454.95" r="1.25"/><circle cx="530.72" cy="455.16" r="1.25"/><circle cx="531.08" cy="455.28" r="1.25"/><circle cx="531.44" cy="455.18" r="1.25"/><circle cx="531.79" cy="455.08" r="1.25"/><circle cx="532.15" cy="454.98" r="1.25"/><circle cx="532.51" cy="454.88" r="1.25"/><circle cx="532.87" cy="454.78" r="1.25"/><circle cx="533.23" cy="454.68" r="1.25"/><circle cx="533.59" cy="454.58" r="1.25"/><circle cx="533.95" cy="454.32" r="1.25"/><circle cx="534.3" cy="454.07" r="1.25"/><circle cx="534.66" cy="453.81" r="1.25"/><circle cx="535.02" cy="453.56" r="1.25"/><circle cx="535.38" cy="453.3" r="1.25"/><circle cx="535.74" cy="453.52" r="1.25"/><circle cx="536.1" cy="453.74" r="1.25"/><circle cx="536.46" cy="453.96" r="1.25"/><circle cx="536.81" cy="454.18" r="1.25"/><circle cx="537.17" cy="454.4" r="1.25"/><circle cx="537.53" cy="454.7" r="1.25"/><circle cx="537.89" cy="455.31" r="1.25"/><circle cx="538.25" cy="455.92" r="1.25"/><circle cx="538.61" cy="456.53" r="1.25"/><circle cx="538.96" cy="457.55" r="1.25"/><circle cx="539.32" cy="459.53" r="1.25"/><circle cx="539.68" cy="461.52" r="1.25"/><circle cx="540.04" cy="465.38" r="1.25"/><circle cx="540.4" cy="469.24" r="1.25"/><circle cx="540.76" cy="473.13" r="1.25"/><circle cx="541.12" cy="477.04" r="1.25"/><circle cx="541.47" cy="478.44" r="1.25"/><circle cx="541.83" cy="485.25" r="1.25"/><circle cx="542.19" cy="493.47" r="1.25"/><circle cx="542.55" cy="501.38" r="1.25"/><circle cx="542.91" cy="509.91" r="1.25"/><circle cx="543.27" cy="526.34" r="1.25"/><circle cx="543.63" cy="540.4" r="1.25"/><circle cx="543.98" cy="550.08" r="1.25"/><circle cx="544.34" cy="563.88" r="1.25"/><circle cx="544.7" cy="576.54" r="1.25"/><circle cx="545.06" cy="580.44" r="1.25"/><circle cx="545.42" cy="576.37" r="1.25"/><circle cx="545.78" cy="586.46" r="1.25"/><circle cx="546.13" cy="585.26" r="1.25"/><circle cx="546.49" cy="584.19" r="1.25"/><circle cx="546.85" cy="596.16" r="1.25"/><circle cx="547.21" cy="598.91" r="1.25"/><circle cx="547.57" cy="590.84" r="1.25"/><circle cx="547.93" cy="595.72" r="1.25"/><circle cx="548.29" cy="595.65" r="1.25"/><circle cx="548.64" cy="590.55" r="1.25"/><circle cx="549" cy="596" r="1.25"/><circle cx="549.36" cy="595.56" r="1.25"/><circle cx="549.72" cy="594.61" r="1.25"/><circle cx="550.08" cy="596.11" r="1.25"/><circle cx="550.44" cy="578.53" r="1.25"/><circle cx="550.8" cy="582.31" r="1.25"/><circle cx="551.15" cy="584.73" r="1.25"/><circle cx="551.51" cy="577.54" r="1.25"/><circle cx="551.87" cy="584.11" r="1.25"/><circle cx="552.23" cy="582.26" r="1.25"/><circle cx="552.59" cy="583.19" r="1.25"/><circle cx="552.95" cy="578.4" r="1.25"/><circle cx="553.3" cy="579.15" r="1.25"/><circle cx="553.66" cy="569.4" r="1.25"/><circle cx="554.02" cy="563.45" r="1.25"/><circle cx="554.38" cy="569.92" r="1.25"/><circle cx="554.74" cy="570.25" r="1.25"/><circle cx="555.1" cy="571.39" r="1.25"/><circle cx="555.46" cy="572.42" r="1.25"/><circle cx="555.81" cy="576.3" r="1.25"/><circle cx="556.17" cy="583.39" r="1.25"/><circle cx="556.53" cy="592.38" r="1.25"/><circle cx="556.89" cy="589.32" r="1.25"/><circle cx="557.25" cy="596.76" r="1.25"/><circle cx="557.61" cy="603.18" r="1.25"/><circle cx="557.97" cy="606.68" r="1.25"/><circle cx="558.32" cy="611.25" r="1.25"/><circle cx="558.68" cy="615.36" r="1.25"/><circle cx="559.04" cy="618.8" r="1.25"/><circle cx="559.4" cy="622.28" r="1.25"/><circle cx="559.76" cy="625.07" r="1.25"/><circle cx="560.12" cy="627.14" r="1.25"/><circle cx="560.47" cy="633.42" r="1.25"/><circle cx="560.83" cy="628.22" r="1.25"/><circle cx="561.19" cy="623.05" r="1.25"/><circle cx="561.55" cy="608.68" r="1.25"/><circle cx="561.91" cy="613.96" r="1.25"/><circle cx="562.27" cy="617.73" r="1.25"/><circle cx="562.63" cy="626.67" r="1.25"/><circle cx="562.98" cy="626.04" r="1.25"/><circle cx="563.34" cy="627.07" r="1.25"/><circle cx="563.7" cy="633.92" r="1.25"/><circle cx="564.06" cy="634.17" r="1.25"/><circle cx="564.42" cy="634.43" r="1.25"/><circle cx="564.78" cy="634.69" r="1.25"/><circle cx="565.14" cy="634.94" r="1.25"/><circle cx="565.49" cy="635.2" r="1.25"/><circle cx="565.85" cy="635.35" r="1.25"/><circle cx="566.21" cy="635.35" r="1.25"/><circle cx="566.57" cy="635.35" r="1.25"/><circle cx="566.93" cy="635.35" r="1.25"/><circle cx="567.29" cy="635.35" r="1.25"/><circle cx="567.64" cy="635.35" r="1.25"/><circle cx="568" cy="635.35" r="1.25"/><circle cx="568.36" cy="635.35" r="1.25"/><circle cx="568.72" cy="635.35" r="1.25"/><circle cx="569.08" cy="635.1" r="1.25"/><circle cx="569.44" cy="634.85" r="1.25"/><circle cx="569.8" cy="634.6" r="1.25"/><circle cx="570.15" cy="634.34" r="1.25"/><circle cx="570.51" cy="634.09" r="1.25"/><circle cx="570.87" cy="633.7" r="1.25"/><circle cx="571.23" cy="632.74" r="1.25"/><circle cx="571.59" cy="631.78" r="1.25"/><circle cx="571.95" cy="630.82" r="1.25"/><circle cx="572.31" cy="629.78" r="1.25"/><circle cx="572.66" cy="628.39" r="1.25"/><circle cx="573.02" cy="627.01" r="1.25"/><circle cx="573.38" cy="625.61" r="1.25"/><circle cx="573.74" cy="624.17" r="1.25"/><circle cx="574.1" cy="622.74" r="1.25"/><circle cx="574.46" cy="621.27" r="1.25"/><circle cx="574.81" cy="619.76" r="1.25"/><circle cx="575.17" cy="618.24" r="1.25"/><circle cx="575.53" cy="617.22" r="1.25"/><circle cx="575.89" cy="616.52" r="1.25"/><circle cx="576.25" cy="615.81" r="1.25"/><circle cx="576.61" cy="614.47" r="1.25"/><circle cx="576.97" cy="613.14" r="1.25"/><circle cx="577.32" cy="611.8" r="1.25"/><circle cx="577.68" cy="605.78" r="1.25"/><circle cx="578.04" cy="601.19" r="1.25"/><circle cx="578.4" cy="601.75" r="1.25"/><circle cx="578.76" cy="598.26" r="1.25"/><circle cx="579.12" cy="590.23" r="1.25"/><circle cx="579.48" cy="591.93" r="1.25"/><circle cx="579.83" cy="590.56" r="1.25"/><circle cx="580.19" cy="586.79" r="1.25"/><circle cx="580.55" cy="590.48" r="1.25"/><circle cx="580.91" cy="587.02" r="1.25"/><circle cx="581.27" cy="590.99" r="1.25"/><circle cx="581.63" cy="598.63" r="1.25"/><circle cx="581.98" cy="598.35" r="1.25"/><circle cx="582.34" cy="603.47" r="1.25"/><circle cx="582.7" cy="604.99" r="1.25"/><circle cx="583.06" cy="612.95" r="1.25"/><circle cx="583.42" cy="612.49" r="1.25"/><circle cx="583.78" cy="614.29" r="1.25"/><circle cx="584.14" cy="614.75" r="1.25"/><circle cx="584.49" cy="618.49" r="1.25"/><circle cx="584.85" cy="622.42" r="1.25"/><circle cx="585.21" cy="621.87" r="1.25"/><circle cx="585.57" cy="618.6" r="1.25"/><circle cx="585.93" cy="623.63" r="1.25"/><circle cx="586.29" cy="624.89" r="1.25"/><circle cx="586.65" cy="612.78" r="1.25"/><circle cx="587" cy="604.1" r="1.25"/><circle cx="587.36" cy="599.13" r="1.25"/><circle cx="587.72" cy="590.38" r="1.25"/><circle cx="588.08" cy="595.05" r="1.25"/><circle cx="588.44" cy="584.78" r="1.25"/><circle cx="588.8" cy="581.82" r="1.25"/><circle cx="589.15" cy="569.59" r="1.25"/><circle cx="589.51" cy="635.9" r="1.25"/><circle cx="589.87" cy="635.9" r="1.25"/><circle cx="590.23" cy="635.9" r="1.25"/><circle cx="590.59" cy="635.9" r="1.25"/><circle cx="590.95" cy="635.9" r="1.25"/><circle cx="591.31" cy="635.9" r="1.25"/><circle cx="591.66" cy="635.9" r="1.25"/><circle cx="592.02" cy="635.9" r="1.25"/><circle cx="592.38" cy="635.9" r="1.25"/><circle cx="592.74" cy="635.9" r="1.25"/><circle cx="593.1" cy="635.9" r="1.25"/><circle cx="593.46" cy="635.9" r="1.25"/><circle cx="593.82" cy="635.9" r="1.25"/><circle cx="594.17" cy="635.9" r="1.25"/><circle cx="594.53" cy="635.9" r="1.25"/><circle cx="594.89" cy="635.9" r="1.25"/><circle cx="595.25" cy="635.9" r="1.25"/><circle cx="595.61" cy="635.9" r="1.25"/><circle cx="595.97" cy="635.9" r="1.25"/><circle cx="596.32" cy="635.9" r="1.25"/><circle cx="596.68" cy="635.9" r="1.25"/><circle cx="597.04" cy="635.9" r="1.25"/><circle cx="597.4" cy="635.9" r="1.25"/><circle cx="597.76" cy="635.9" r="1.25"/><circle cx="598.12" cy="635.9" r="1.25"/><circle cx="598.48" cy="635.9" r="1.25"/><circle cx="598.83" cy="635.9" r="1.25"/><circle cx="599.19" cy="635.9" r="1.25"/><circle cx="599.55" cy="635.9" r="1.25"/><circle cx="599.91" cy="635.9" r="1.25"/><circle cx="600.27" cy="635.9" r="1.25"/><circle cx="600.63" cy="635.9" r="1.25"/><circle cx="600.99" cy="635.9" r="1.25"/><circle cx="601.34" cy="635.9" r="1.25"/><circle cx="601.7" cy="635.9" r="1.25"/><circle cx="602.06" cy="635.9" r="1.25"/><circle cx="602.42" cy="635.9" r="1.25"/><circle cx="602.78" cy="635.9" r="1.25"/><circle cx="603.14" cy="635.9" r="1.25"/><circle cx="603.49" cy="635.9" r="1.25"/><circle cx="603.85" cy="635.9" r="1.25"/><circle cx="604.21" cy="635.9" r="1.25"/><circle cx="604.57" cy="635.9" r="1.25"/><circle cx="604.93" cy="635.9" r="1.25"/><circle cx="605.29" cy="635.9" r="1.25"/><circle cx="605.65" cy="635.9" r="1.25"/><circle cx="606" cy="635.9" r="1.25"/><circle cx="606.36" cy="635.9" r="1.25"/><circle cx="606.72" cy="635.9" r="1.25"/><circle cx="607.08" cy="635.9" r="1.25"/><circle cx="607.44" cy="635.9" r="1.25"/><circle cx="607.8" cy="635.9" r="1.25"/><circle cx="608.16" cy="635.9" r="1.25"/><circle cx="608.51" cy="635.9" r="1.25"/><circle cx="608.87" cy="635.9" r="1.25"/><circle cx="609.23" cy="635.9" r="1.25"/><circle cx="609.59" cy="635.9" r="1.25"/><circle cx="609.95" cy="635.9" r="1.25"/><circle cx="610.31" cy="635.9" r="1.25"/><circle cx="610.66" cy="635.9" r="1.25"/><circle cx="611.02" cy="635.9" r="1.25"/><circle cx="611.38" cy="635.9" r="1.25"/><circle cx="611.74" cy="635.9" r="1.25"/><circle cx="612.1" cy="635.9" r="1.25"/><circle cx="612.46" cy="635.9" r="1.25"/><circle cx="612.82" cy="635.9" r="1.25"/><circle cx="613.17" cy="635.9" r="1.25"/><circle cx="613.53" cy="635.9" r="1.25"/><circle cx="613.89" cy="635.9" r="1.25"/><circle cx="614.25" cy="635.9" r="1.25"/><circle cx="614.61" cy="635.9" r="1.25"/><circle cx="614.97" cy="635.9" r="1.25"/><circle cx="615.33" cy="635.9" r="1.25"/><circle cx="615.68" cy="635.9" r="1.25"/><circle cx="616.04" cy="635.9" r="1.25"/><circle cx="616.4" cy="635.9" r="1.25"/><circle cx="616.76" cy="635.9" r="1.25"/><circle cx="617.12" cy="635.9" r="1.25"/><circle cx="617.48" cy="635.9" r="1.25"/><circle cx="617.83" cy="635.9" r="1.25"/><circle cx="618.19" cy="635.9" r="1.25"/><circle cx="618.55" cy="635.9" r="1.25"/><circle cx="618.91" cy="635.9" r="1.25"/><circle cx="619.27" cy="635.9" r="1.25"/><circle cx="619.63" cy="635.9" r="1.25"/><circle cx="619.99" cy="635.9" r="1.25"/><circle cx="620.34" cy="635.9" r="1.25"/><circle cx="620.7" cy="635.9" r="1.25"/><circle cx="621.06" cy="635.9" r="1.25"/><circle cx="621.42" cy="635.9" r="1.25"/><circle cx="621.78" cy="635.9" r="1.25"/><circle cx="622.14" cy="635.9" r="1.25"/><circle cx="622.5" cy="635.9" r="1.25"/><circle cx="622.85" cy="635.9" r="1.25"/><circle cx="623.21" cy="635.9" r="1.25"/><circle cx="623.57" cy="635.9" r="1.25"/><circle cx="623.93" cy="635.9" r="1.25"/><circle cx="624.29" cy="635.9" r="1.25"/><circle cx="624.65" cy="635.9" r="1.25"/><circle cx="625" cy="635.9" r="1.25"/><circle cx="625.36" cy="635.9" r="1.25"/><circle cx="625.72" cy="635.9" r="1.25"/><circle cx="626.08" cy="635.9" r="1.25"/><circle cx="626.44" cy="635.9" r="1.25"/><circle cx="626.8" cy="635.9" r="1.25"/><circle cx="627.16" cy="635.9" r="1.25"/><circle cx="627.51" cy="635.9" r="1.25"/><circle cx="627.87" cy="635.9" r="1.25"/><circle cx="628.23" cy="635.9" r="1.25"/><circle cx="628.59" cy="635.9" r="1.25"/><circle cx="628.95" cy="635.9" r="1.25"/><circle cx="629.31" cy="635.9" r="1.25"/><circle cx="629.67" cy="635.9" r="1.25"/><circle cx="630.02" cy="635.9" r="1.25"/><circle cx="630.38" cy="635.9" r="1.25"/><circle cx="630.74" cy="635.9" r="1.25"/><circle cx="631.1" cy="635.9" r="1.25"/><circle cx="631.46" cy="635.9" r="1.25"/><circle cx="631.82" cy="635.9" r="1.25"/><circle cx="632.17" cy="635.9" r="1.25"/><circle cx="632.53" cy="635.9" r="1.25"/><circle cx="632.89" cy="635.9" r="1.25"/><circle cx="633.25" cy="635.9" r="1.25"/><circle cx="633.61" cy="635.9" r="1.25"/><circle cx="633.97" cy="635.9" r="1.25"/><circle cx="634.33" cy="635.9" r="1.25"/><circle cx="634.68" cy="635.9" r="1.25"/><circle cx="635.04" cy="635.9" r="1.25"/><circle cx="635.4" cy="635.9" r="1.25"/><circle cx="635.76" cy="635.9" r="1.25"/><circle cx="636.12" cy="635.9" r="1.25"/><circle cx="636.48" cy="635.9" r="1.25"/><circle cx="636.84" cy="635.9" r="1.25"/><circle cx="637.19" cy="635.9" r="1.25"/><circle cx="637.55" cy="635.9" r="1.25"/><circle cx="637.91" cy="635.9" r="1.25"/><circle cx="638.27" cy="635.9" r="1.25"/><circle cx="638.63" cy="635.9" r="1.25"/><circle cx="638.99" cy="635.9" r="1.25"/><circle cx="639.35" cy="635.9" r="1.25"/><circle cx="639.7" cy="635.9" r="1.25"/><circle cx="640.06" cy="635.9" r="1.25"/><circle cx="640.42" cy="635.9" r="1.25"/><circle cx="640.78" cy="635.9" r="1.25"/><circle cx="641.14" cy="635.9" r="1.25"/><circle cx="641.5" cy="635.9" r="1.25"/><circle cx="641.85" cy="635.9" r="1.25"/><circle cx="642.21" cy="635.9" r="1.25"/><circle cx="642.57" cy="635.9" r="1.25"/><circle cx="642.93" cy="635.9" r="1.25"/><circle cx="643.29" cy="635.9" r="1.25"/><circle cx="643.65" cy="635.9" r="1.25"/><circle cx="644.01" cy="635.9" r="1.25"/><circle cx="644.36" cy="635.9" r="1.25"/><circle cx="644.72" cy="635.9" r="1.25"/><circle cx="645.08" cy="635.9" r="1.25"/><circle cx="645.44" cy="635.9" r="1.25"/><circle cx="645.8" cy="635.9" r="1.25"/><circle cx="646.16" cy="635.9" r="1.25"/><circle cx="646.51" cy="635.9" r="1.25"/><circle cx="646.87" cy="635.9" r="1.25"/><circle cx="647.23" cy="635.9" r="1.25"/><circle cx="647.59" cy="635.9" r="1.25"/><circle cx="647.95" cy="635.9" r="1.25"/><circle cx="648.31" cy="635.9" r="1.25"/><circle cx="648.67" cy="635.9" r="1.25"/><circle cx="649.02" cy="635.9" r="1.25"/><circle cx="649.38" cy="635.9" r="1.25"/><circle cx="649.74" cy="635.9" r="1.25"/><circle cx="650.1" cy="635.9" r="1.25"/>
</g>
</g>
<g opacity="0.999">
<rect x="53" y="1.2" width="196.5" height="24.6" fill="#d9d9d9"/>
<text x="151.25" y="18.3" font-size="12.9" fill="#1a1a1a" text-anchor="middle">A</text>
<rect x="257.6" y="1.2" width="196.5" height="24.6" fill="#d9d9d9"/>
<text x="355.85" y="18.3" font-size="12.9" fill="#1a1a1a" text-anchor="middle">B</text>
<rect x="462.2" y="1.2" width="196.5" height="24.6" fill="#d9d9d9"/>
<text x="560.45" y="18.3" font-size="12.9" fill="#1a1a1a" text-anchor="middle">C</text>
<rect x="658.7" y="25.8" width="25.3" height="201" fill="#d9d9d9"/>
<text transform="translate(666.7 126.3) rotate(90)" font-size="12.9" fill="#1a1a1a" text-anchor="middle">99 percentile</text>
<rect x="658.7" y="235" width="25.3" height="201" fill="#d9d9d9"/>
<text transform="translate(666.7 335.5) rotate(90)" font-size="12.9" fill="#1a1a1a" text-anchor="middle">median</text>
<rect x="658.7" y="444" width="25.3" height="201" fill="#d9d9d9"/>
<text transform="translate(666.7 544.5) rotate(90)" font-size="12.9" fill="#1a1a1a" text-anchor="middle">1 percentile</text>
<text x="45.6" y="223.05" font-size="12.8" fill="#4d4d4d" text-anchor="end">0.00</text>
<text x="45.6" y="177.41" font-size="12.8" fill="#4d4d4d" text-anchor="end">0.25</text>
<text x="45.6" y="131.77" font-size="12.8" fill="#4d4d4d" text-anchor="end">0.50</text>
<text x="45.6" y="86.14" font-size="12.8" fill="#4d4d4d" text-anchor="end">0.75</text>
<text x="45.6" y="40.5" font-size="12.8" fill="#4d4d4d" text-anchor="end">1.00</text>
<path d="M49 217.85h4M49 172.21h4M49 126.57h4M49 80.94h4M49 35.3h4" stroke="#333" stroke-width="1.55" fill="none"/>
<text x="45.6" y="432.2" font-size="12.8" fill="#4d4d4d" text-anchor="end">0.00</text>
<text x="45.6" y="386.5" font-size="12.8" fill="#4d4d4d" text-anchor="end">0.25</text>
<text x="45.6" y="340.8" font-size="12.8" fill="#4d4d4d" text-anchor="end">0.50</text>
<text x="45.6" y="295.1" font-size="12.8" fill="#4d4d4d" text-anchor="end">0.75</text>
<text x="45.6" y="249.4" font-size="12.8" fill="#4d4d4d" text-anchor="end">1.00</text>
<path d="M49 427h4M49 381.3h4M49 335.6h4M49 289.9h4M49 244.2h4" stroke="#333" stroke-width="1.55" fill="none"/>
<text x="45.6" y="641.1" font-size="12.8" fill="#4d4d4d" text-anchor="end">0.00</text>
<text x="45.6" y="595.45" font-size="12.8" fill="#4d4d4d" text-anchor="end">0.25</text>
<text x="45.6" y="549.8" font-size="12.8" fill="#4d4d4d" text-anchor="end">0.50</text>
<text x="45.6" y="504.15" font-size="12.8" fill="#4d4d4d" text-anchor="end">0.75</text>
<text x="45.6" y="458.5" font-size="12.8" fill="#4d4d4d" text-anchor="end">1.00</text>
<path d="M49 635.9h4M49 590.25h4M49 544.6h4M49 498.95h4M49 453.3h4" stroke="#333" stroke-width="1.55" fill="none"/>
<text x="61.65" y="661.6" font-size="12.8" fill="#4d4d4d" text-anchor="middle">0</text>
<text x="97.5" y="661.6" font-size="12.8" fill="#4d4d4d" text-anchor="middle">100</text>
<text x="133.35" y="661.6" font-size="12.8" fill="#4d4d4d" text-anchor="middle">200</text>
<text x="169.2" y="661.6" font-size="12.8" fill="#4d4d4d" text-anchor="middle">300</text>
<text x="205.05" y="661.6" font-size="12.8" fill="#4d4d4d" text-anchor="middle">400</text>
<text x="240.9" y="661.6" font-size="12.8" fill="#4d4d4d" text-anchor="middle">500</text>
<path d="M61.65 645v4M97.5 645v4M133.35 645v4M169.2 645v4M205.05 645v4M240.9 645v4" stroke="#333" stroke-width="1.55" fill="none"/>
<text x="266.25" y="661.6" font-size="12.8" fill="#4d4d4d" text-anchor="middle">0</text>
<text x="302.1" y="661.6" font-size="12.8" fill="#4d4d4d" text-anchor="middle">100</text>
<text x="337.95" y="661.6" font-size="12.8" fill="#4d4d4d" text-anchor="middle">200</text>
<text x="373.8" y="661.6" font-size="12.8" fill="#4d4d4d" text-anchor="middle">300</text>
<text x="409.65" y="661.6" font-size="12.8" fill="#4d4d4d" text-anchor="middle">400</text>
<text x="445.5" y="661.6" font-size="12.8" fill="#4d4d4d" text-anchor="middle">500</text>
<path d="M266.25 645v4M302.1 645v4M337.95 645v4M373.8 645v4M409.65 645v4M445.5 645v4" stroke="#333" stroke-width="1.55" fill="none"/>
<text x="470.85" y="661.6" font-size="12.8" fill="#4d4d4d" text-anchor="middle">0</text>
<text x="506.7" y="661.6" font-size="12.8" fill="#4d4d4d" text-anchor="middle">100</text>
<text x="542.55" y="661.6" font-size="12.8" fill="#4d4d4d" text-anchor="middle">200</text>
<text x="578.4" y="661.6" font-size="12.8" fill="#4d4d4d" text-anchor="middle">300</text>
<text x="614.25" y="661.6" font-size="12.8" fill="#4d4d4d" text-anchor="middle">400</text>
<text x="650.1" y="661.6" font-size="12.8" fill="#4d4d4d" text-anchor="middle">500</text>
<path d="M470.85 645v4M506.7 645v4M542.55 645v4M578.4 645v4M614.25 645v4M650.1 645v4" stroke="#333" stroke-width="1.55" fill="none"/>
<text x="355.85" y="680" font-size="15.9" fill="#000" text-anchor="middle">nucleotide position in the window</text>
<text transform="translate(13.1 335.4) rotate(-90)" font-size="15.9" fill="#000" text-anchor="middle">normalised relative empirical genome coverage</text>
</g>
</svg></body></html>
